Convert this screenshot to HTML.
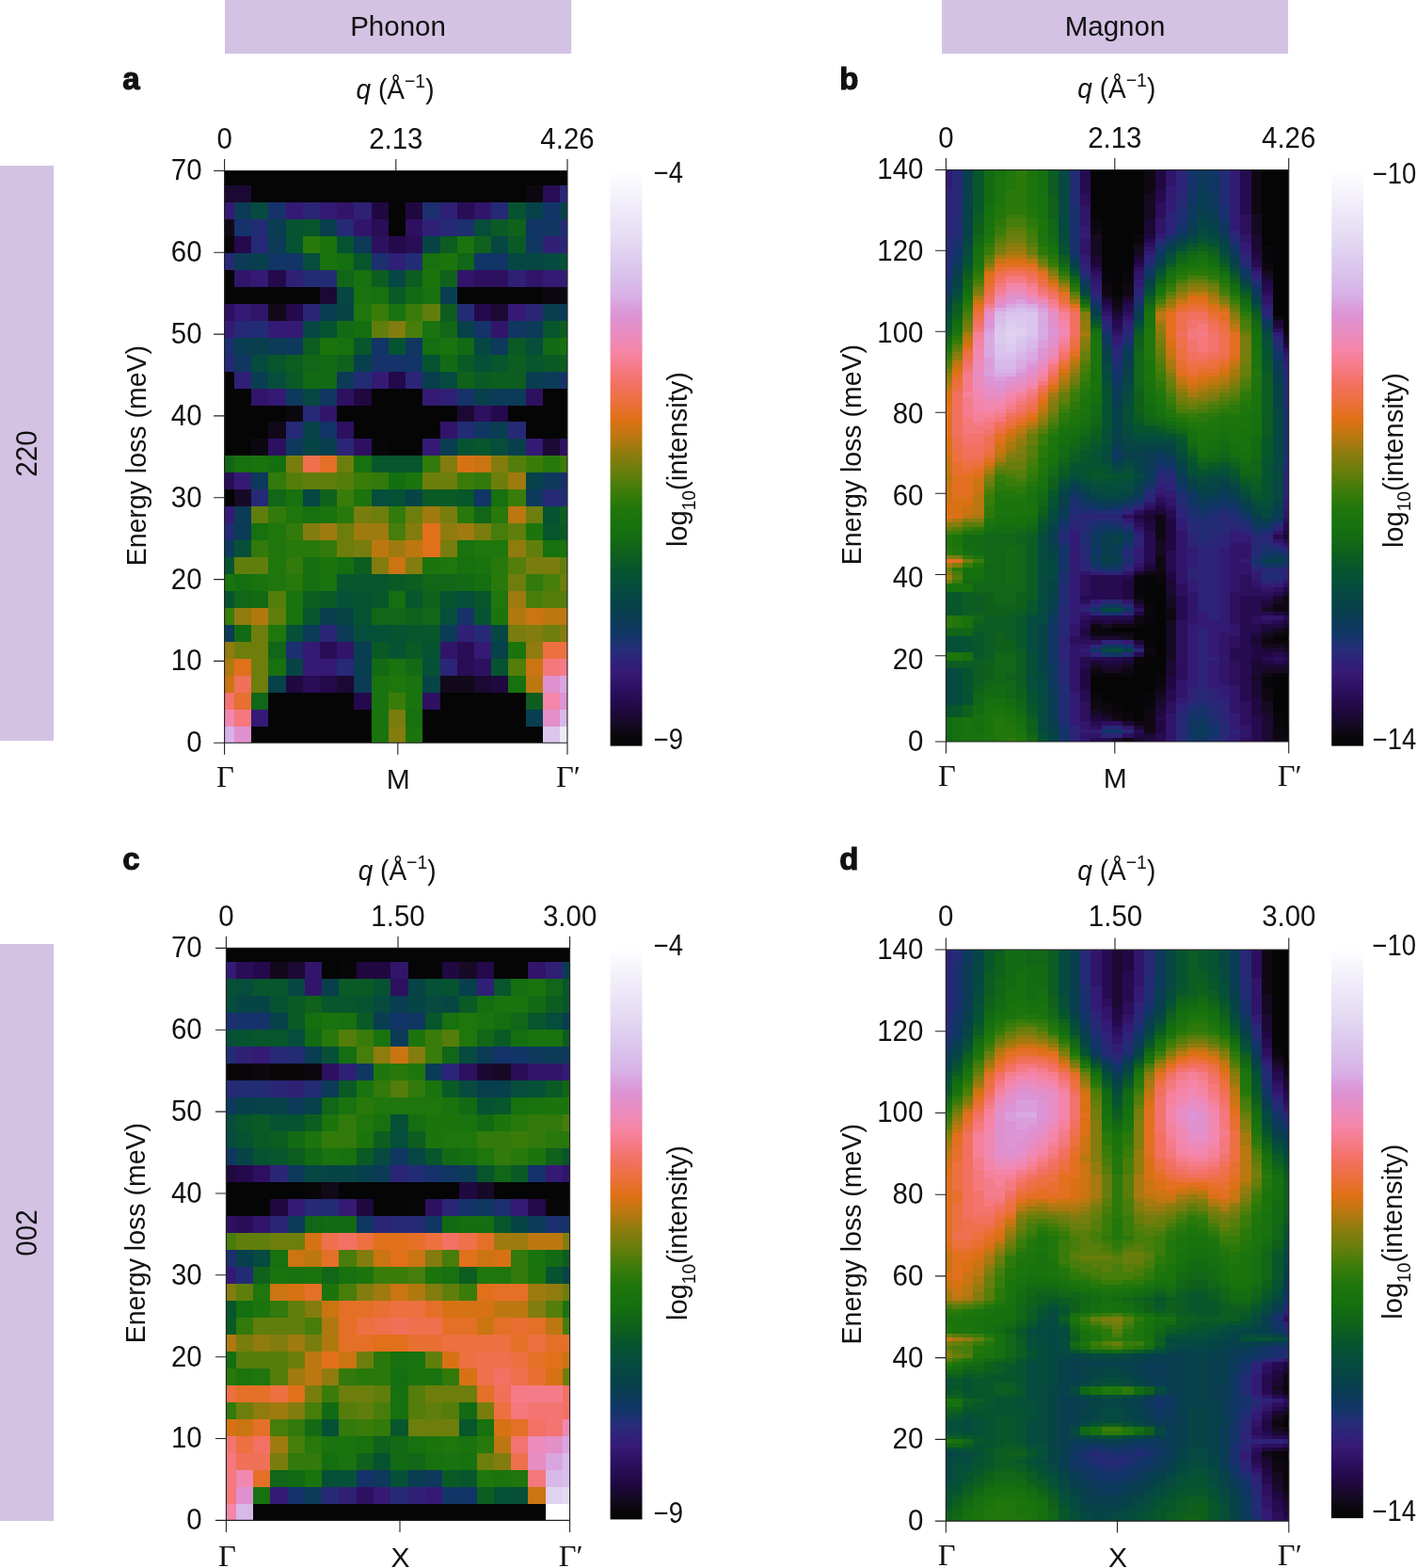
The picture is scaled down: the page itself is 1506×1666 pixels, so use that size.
<!DOCTYPE html>
<html lang="en"><head><meta charset="utf-8"><title>Phonon and magnon spectra</title>
<style>html,body{margin:0;padding:0;background:#fff}body{width:1506px;height:1666px;overflow:hidden}svg{display:block}</style></head>
<body>
<svg width="1506" height="1666" viewBox="0 0 1506 1666" font-family="'Liberation Sans', Arial, Helvetica, sans-serif" font-size="29.5" fill="#111">
<rect width="1506" height="1666" fill="#fff"/>
<rect x="239" y="0" width="368.2" height="57" fill="#d3c2e3"/>
<rect x="1001" y="0" width="368" height="57" fill="#d3c2e3"/>
<rect x="0" y="176" width="57" height="611" fill="#d3c2e3"/>
<rect x="0" y="1003" width="57" height="613" fill="#d3c2e3"/>
<text x="423" y="37.6" text-anchor="middle">Phonon</text>
<text x="1185" y="37.6" text-anchor="middle">Magnon</text>
<text transform="translate(38.6,482) rotate(-90) scale(0.955 1)" text-anchor="middle" font-size="31">220</text>
<text transform="translate(38.6,1310) rotate(-90) scale(0.955 1)" text-anchor="middle" font-size="31">002</text>
<clipPath id="hc1"><rect x="238.6" y="181.5" width="364.40" height="607.70"/></clipPath>
<g clip-path="url(#hc1)"><rect x="238.6" y="181.5" width="364.40" height="607.70" fill="#050505"/><g transform="translate(230.68 179.20) scale(18.2200 17.9500)" shape-rendering="crispEdges">
<path fill="#1b0933" d="M0 1h2v1h-2zM6 7h1v1h-1zM16 8h1v1h-1zM14 14h1v1h-1zM19 16h1v1h-1zM7 30h1v1h-1zM15 30h1v1h-1z"/>
<path fill="#0c0810" d="M18 1h1v1h-1zM19 7h2v1h-2zM4 14h1v1h-1zM2 16h1v1h-1z"/>
<path fill="#290d56" d="M19 1h1v1h-1zM14 2h1v1h-1zM9 3h1v1h-1zM11 4h1v1h-1zM0 18h1v1h-1zM6 28h1v1h-1zM14 28h1v1h-1zM14 29h1v1h-1zM5 30h1v1h-1z"/>
<path fill="#2b2577" d="M20 1h1v1h-1zM5 2h1v1h-1zM20 4h1v1h-1zM5 8h1v1h-1zM18 8h1v1h-1zM11 12h1v1h-1zM7 16h1v1h-1zM6 27h1v1h-1zM13 29h1v1h-1z"/>
<path fill="#341a74" d="M0 2h1v1h-1zM4 2h1v1h-1zM6 2h1v1h-1zM2 6h1v1h-1zM19 6h2v1h-2zM1 8h1v1h-1zM17 8h1v1h-1zM0 9h1v1h-1zM3 9h2v1h-2zM9 12h1v1h-1zM3 13h1v1h-1zM12 13h1v1h-1zM12 16h1v1h-1zM18 16h1v1h-1zM1 18h1v1h-1zM0 20h1v1h-1zM5 28h1v1h-1zM15 28h1v1h-1zM5 29h2v1h-2zM2 32h1v1h-1z"/>
<path fill="#0b3b57" d="M1 2h1v1h-1zM3 4h1v1h-1zM8 4h1v1h-1zM1 5h1v1h-1zM20 8h1v1h-1zM18 9h1v1h-1zM3 10h1v1h-1zM7 12h1v1h-1zM19 12h1v1h-1zM16 13h2v1h-2zM1 20h1v1h-1zM1 21h1v1h-1zM0 27h1v1h-1zM5 27h1v1h-1zM7 27h1v1h-1zM13 27h1v1h-1zM8 30h1v1h-1z"/>
<path fill="#064a40" d="M2 2h1v1h-1zM19 5h1v1h-1zM2 11h1v1h-1zM13 12h1v1h-1z"/>
<path fill="#15326a" d="M3 2h1v1h-1zM1 3h1v1h-1zM15 9h1v1h-1zM9 11h2v1h-2zM20 12h1v1h-1zM14 13h1v1h-1zM20 18h1v1h-1zM14 26h1v1h-1z"/>
<path fill="#31156a" d="M7 2h1v1h-1zM15 2h1v1h-1zM8 3h1v1h-1zM1 6h1v1h-1zM14 6h1v1h-1zM18 6h1v1h-1zM2 8h1v1h-1zM16 9h1v1h-1zM2 13h1v1h-1zM6 14h1v1h-1zM13 15h1v1h-1zM7 28h1v1h-1zM13 28h1v1h-1z"/>
<path fill="#2f2076" d="M8 2h1v1h-1zM13 2h1v1h-1zM12 3h1v1h-1zM19 4h1v1h-1zM10 5h1v1h-1zM4 6h1v1h-1zM17 6h1v1h-1zM1 12h1v1h-1zM13 13h1v1h-1zM14 27h1v1h-1z"/>
<path fill="#200840" d="M9 2h1v1h-1zM11 2h1v1h-1zM8 13h1v1h-1zM4 30h1v1h-1zM16 30h1v1h-1z"/>
<path fill="#1c2f6f" d="M12 2h1v1h-1zM14 3h1v1h-1zM9 5h1v1h-1zM0 10h1v1h-1zM4 28h1v1h-1z"/>
<path fill="#262976" d="M16 2h1v1h-1zM7 3h1v1h-1zM13 3h1v1h-1zM2 4h1v1h-1zM0 5h1v1h-1zM1 9h1v1h-1zM0 11h1v1h-1zM5 14h1v1h-1zM4 15h1v1h-1zM17 15h1v1h-1zM2 19h1v1h-1zM19 19h1v1h-1zM15 27h1v1h-1zM7 29h1v1h-1z"/>
<path fill="#065332" d="M17 2h1v1h-1zM4 3h1v1h-1zM4 4h1v1h-1zM7 4h1v1h-1zM6 9h1v1h-1zM10 10h1v1h-1zM12 11h1v1h-1zM14 16h1v1h-1zM19 20h1v1h-1zM0 23h1v1h-1zM0 25h1v1h-1zM8 25h1v1h-1zM13 25h1v1h-1zM8 26h1v1h-1zM15 26h1v1h-1zM10 27h1v1h-1zM10 28h1v1h-1zM12 28h1v1h-1zM16 29h1v1h-1z"/>
<path fill="#074149" d="M18 2h1v1h-1zM20 2h1v1h-1zM14 9h1v1h-1zM5 15h1v1h-1zM18 18h1v1h-1zM16 28h1v1h-1zM3 30h1v1h-1z"/>
<path fill="#113566" d="M19 2h1v1h-1zM18 3h1v1h-1zM3 5h2v1h-2zM15 5h2v1h-2zM9 10h1v1h-1zM11 11h1v1h-1zM6 15h1v1h-1zM15 19h1v1h-1z"/>
<path fill="#110919" d="M0 3h1v1h-1zM3 8h1v1h-1zM3 15h1v1h-1zM13 30h2v1h-2z"/>
<path fill="#222c74" d="M2 3h1v1h-1zM20 3h1v1h-1zM11 5h1v1h-1zM5 6h2v1h-2zM14 8h1v1h-1zM2 9h1v1h-1zM8 12h1v1h-1zM14 15h1v1h-1zM20 19h1v1h-1zM0 21h1v1h-1z"/>
<path fill="#093d52" d="M3 3h1v1h-1zM13 7h1v1h-1zM6 8h1v1h-1zM1 10h1v1h-1zM2 12h1v1h-1zM18 12h1v1h-1zM16 15h1v1h-1zM13 16h1v1h-1zM8 28h1v1h-1zM8 29h1v1h-1zM18 32h1v1h-1z"/>
<path fill="#07562c" d="M5 3h1v1h-1zM8 5h1v1h-1zM19 9h1v1h-1zM8 10h1v1h-1zM3 11h1v1h-1zM16 11h1v1h-1zM18 11h1v1h-1zM15 16h1v1h-1zM9 17h3v1h-3zM14 19h1v1h-1zM19 21h1v1h-1zM7 24h3v1h-3zM9 25h1v1h-1zM11 25h1v1h-1zM15 25h1v1h-1zM5 26h1v1h-1zM11 27h2v1h-2z"/>
<path fill="#083f4d" d="M6 3h1v1h-1zM2 5h1v1h-1zM19 8h1v1h-1zM2 10h1v1h-1zM8 11h1v1h-1zM12 12h1v1h-1zM15 13h1v1h-1zM6 16h1v1h-1zM17 16h1v1h-1zM6 26h1v1h-1z"/>
<path fill="#2e1060" d="M11 3h1v1h-1zM9 4h1v1h-1zM15 6h2v1h-2zM0 8h1v1h-1zM7 13h1v1h-1zM18 13h1v1h-1zM15 14h1v1h-1zM7 15h1v1h-1zM3 16h1v1h-1zM8 16h1v1h-1zM20 16h1v1h-1zM15 29h1v1h-1zM12 31h1v1h-1z"/>
<path fill="#064d3b" d="M15 3h1v1h-1zM5 5h1v1h-1zM18 10h1v1h-1zM3 12h1v1h-1zM16 16h1v1h-1zM9 19h1v1h-1zM14 25h1v1h-1zM13 26h1v1h-1zM8 27h1v1h-1z"/>
<path fill="#0a5a26" d="M16 3h1v1h-1zM17 4h1v1h-1zM10 7h1v1h-1zM17 10h1v1h-1zM14 11h1v1h-1zM19 11h1v1h-1zM4 12h1v1h-1zM15 12h1v1h-1zM12 19h2v1h-2zM20 21h1v1h-1zM10 24h1v1h-1zM6 25h1v1h-1zM9 28h1v1h-1zM11 28h1v1h-1z"/>
<path fill="#10611b" d="M17 3h1v1h-1zM15 4h1v1h-1zM13 6h1v1h-1zM7 11h1v1h-1zM14 12h1v1h-1zM6 19h1v1h-1zM12 25h1v1h-1zM11 26h1v1h-1z"/>
<path fill="#0f3761" d="M19 3h1v1h-1zM18 4h1v1h-1zM17 9h1v1h-1zM11 10h1v1h-1zM1 11h1v1h-1zM6 13h1v1h-1zM15 15h1v1h-1z"/>
<path fill="#09060a" d="M0 4h1v1h-1zM9 16h1v1h-1z"/>
<path fill="#24094c" d="M1 4h1v1h-1zM10 4h1v1h-1zM3 6h1v1h-1zM4 8h1v1h-1zM15 8h1v1h-1zM10 12h1v1h-1zM16 14h1v1h-1zM6 30h1v1h-1zM8 31h1v1h-1z"/>
<path fill="#28780b" d="M5 4h1v1h-1zM19 17h1v1h-1zM7 20h1v1h-1zM14 20h1v1h-1zM16 20h1v1h-1zM4 22h2v1h-2zM16 23h1v1h-1zM4 24h1v1h-1zM16 24h1v1h-1z"/>
<path fill="#1c740d" d="M6 4h1v1h-1zM13 5h1v1h-1zM12 6h1v1h-1zM6 10h1v1h-1zM11 18h1v1h-1zM8 19h1v1h-1zM18 21h1v1h-1zM6 23h1v1h-1zM12 23h1v1h-1zM16 26h1v1h-1zM17 28h1v1h-1zM11 33h1v1h-1z"/>
<path fill="#074446" d="M12 4h1v1h-1zM7 8h1v1h-1zM5 16h1v1h-1zM11 19h1v1h-1zM7 26h1v1h-1zM4 29h1v1h-1zM12 30h1v1h-1z"/>
<path fill="#0e5d20" d="M13 4h1v1h-1zM9 6h1v1h-1zM11 6h1v1h-1zM13 8h1v1h-1zM20 9h1v1h-1zM5 10h1v1h-1zM4 11h1v1h-1zM17 11h1v1h-1zM20 11h1v1h-1zM16 12h2v1h-2zM20 20h1v1h-1zM8 23h1v1h-1zM11 24h1v1h-1zM5 25h1v1h-1zM18 31h1v1h-1z"/>
<path fill="#19730e" d="M14 4h1v1h-1zM6 5h1v1h-1zM8 7h1v1h-1zM10 8h1v1h-1zM12 9h1v1h-1zM13 10h1v1h-1zM2 17h1v1h-1zM6 20h1v1h-1zM14 22h1v1h-1zM20 22h1v1h-1zM15 23h1v1h-1zM0 24h1v1h-1zM2 24h1v1h-1zM6 24h1v1h-1zM4 25h1v1h-1zM4 26h1v1h-1zM10 29h1v1h-1zM9 30h1v1h-1zM11 30h1v1h-1zM9 31h1v1h-1zM11 31h1v1h-1zM9 32h1v1h-1zM9 33h1v1h-1z"/>
<path fill="#064743" d="M16 4h1v1h-1zM17 5h2v1h-2zM10 6h1v1h-1zM7 7h1v1h-1zM5 9h1v1h-1zM15 10h1v1h-1zM5 13h1v1h-1zM5 19h1v1h-1zM16 27h1v1h-1z"/>
<path fill="#146f10" d="M7 5h1v1h-1zM8 9h1v1h-1zM12 10h1v1h-1zM3 17h1v1h-1zM10 18h1v1h-1zM5 23h1v1h-1zM7 23h1v1h-1zM1 24h1v1h-1zM5 24h1v1h-1zM15 24h1v1h-1zM10 25h1v1h-1z"/>
<path fill="#16710e" d="M12 5h1v1h-1zM8 6h1v1h-1zM9 7h1v1h-1zM12 7h1v1h-1zM7 10h1v1h-1zM20 10h1v1h-1zM1 17h1v1h-1zM8 17h1v1h-1zM4 19h1v1h-1zM16 19h1v1h-1zM5 20h1v1h-1zM2 21h1v1h-1zM19 22h1v1h-1zM14 23h1v1h-1zM3 29h1v1h-1zM17 30h1v1h-1zM11 32h1v1h-1z"/>
<path fill="#116617" d="M14 5h1v1h-1zM7 6h1v1h-1zM13 9h1v1h-1zM5 11h1v1h-1zM0 17h1v1h-1zM3 19h1v1h-1zM15 20h1v1h-1zM12 24h2v1h-2zM1 25h1v1h-1zM9 26h2v1h-2zM12 26h1v1h-1zM3 28h1v1h-1zM2 31h1v1h-1z"/>
<path fill="#065037" d="M20 5h1v1h-1zM15 11h1v1h-1zM10 19h1v1h-1zM1 22h1v1h-1zM7 25h1v1h-1zM4 27h1v1h-1zM9 27h1v1h-1zM12 29h1v1h-1z"/>
<path fill="#136a14" d="M11 7h1v1h-1zM7 9h1v1h-1zM14 10h1v1h-1zM19 10h1v1h-1zM6 11h1v1h-1zM13 11h1v1h-1zM5 12h2v1h-2zM14 24h1v1h-1zM2 25h1v1h-1zM1 27h1v1h-1zM9 29h1v1h-1zM11 29h1v1h-1z"/>
<path fill="#1f760c" d="M8 8h1v1h-1zM4 20h1v1h-1zM3 21h1v1h-1zM3 22h1v1h-1zM15 22h2v1h-2zM3 23h1v1h-1zM13 23h1v1h-1zM3 24h1v1h-1zM16 25h1v1h-1zM3 27h1v1h-1zM10 30h1v1h-1z"/>
<path fill="#3a7c0a" d="M9 8h1v1h-1zM11 8h1v1h-1zM18 17h1v1h-1zM20 17h1v1h-1zM8 18h1v1h-1zM14 18h1v1h-1zM7 19h1v1h-1zM17 19h1v1h-1zM0 26h1v1h-1zM10 31h1v1h-1z"/>
<path fill="#607e0c" d="M12 8h1v1h-1zM9 9h1v1h-1zM5 18h2v1h-2zM2 20h1v1h-1zM17 21h1v1h-1zM18 22h1v1h-1zM1 23h2v1h-2zM20 23h1v1h-1zM3 26h1v1h-1z"/>
<path fill="#837c0e" d="M10 9h1v1h-1zM13 17h1v1h-1zM16 17h1v1h-1zM5 21h1v1h-1zM11 21h1v1h-1zM9 23h1v1h-1zM11 23h1v1h-1zM18 27h1v1h-1zM20 27h1v1h-1zM10 33h1v1h-1z"/>
<path fill="#477d0b" d="M11 9h1v1h-1zM10 21h1v1h-1zM16 21h1v1h-1zM19 24h1v1h-1zM18 25h1v1h-1z"/>
<path fill="#0d395c" d="M4 10h1v1h-1zM16 10h1v1h-1zM4 13h1v1h-1zM4 16h1v1h-1zM2 18h1v1h-1zM19 18h1v1h-1zM18 19h1v1h-1zM0 22h1v1h-1z"/>
<path fill="#787d0d" d="M4 17h1v1h-1zM8 20h1v1h-1zM13 20h1v1h-1zM15 21h1v1h-1zM8 22h1v1h-1zM13 22h1v1h-1zM18 23h2v1h-2zM17 27h1v1h-1zM10 32h1v1h-1z"/>
<path fill="#ee704c" d="M5 17h1v1h-1z"/>
<path fill="#e47027" d="M6 17h1v1h-1z"/>
<path fill="#6d7e0c" d="M7 17h1v1h-1zM12 18h2v1h-2zM16 18h1v1h-1zM9 20h1v1h-1zM11 20h1v1h-1zM18 20h1v1h-1zM7 21h1v1h-1zM7 22h1v1h-1zM17 24h1v1h-1zM20 24h1v1h-1zM2 27h1v1h-1zM19 27h1v1h-1zM1 28h2v1h-2zM2 29h1v1h-1zM2 30h1v1h-1z"/>
<path fill="#317a0b" d="M12 17h1v1h-1zM3 18h1v1h-1zM9 18h1v1h-1zM15 18h1v1h-1zM3 20h1v1h-1zM10 20h1v1h-1zM4 21h1v1h-1zM2 22h1v1h-1zM6 22h1v1h-1zM4 23h1v1h-1zM18 24h1v1h-1z"/>
<path fill="#d77214" d="M14 17h1v1h-1z"/>
<path fill="#ca7412" d="M15 17h1v1h-1zM10 23h1v1h-1zM18 26h1v1h-1zM18 29h1v1h-1zM0 30h1v1h-1z"/>
<path fill="#547d0b" d="M17 17h1v1h-1zM4 18h1v1h-1zM7 18h1v1h-1zM17 23h1v1h-1zM3 25h1v1h-1zM19 25h2v1h-2zM17 29h1v1h-1z"/>
<path fill="#9f7a0f" d="M17 18h1v1h-1zM12 20h1v1h-1zM6 21h1v1h-1zM8 21h2v1h-2zM14 21h1v1h-1zM10 22h1v1h-1zM17 25h1v1h-1z"/>
<path fill="#170a26" d="M1 19h1v1h-1z"/>
<path fill="#bd7711" d="M17 20h1v1h-1zM9 22h1v1h-1zM11 22h1v1h-1zM19 26h2v1h-2zM18 30h1v1h-1z"/>
<path fill="#e1701a" d="M12 21h1v1h-1zM12 22h1v1h-1zM1 29h1v1h-1z"/>
<path fill="#907b0e" d="M13 21h1v1h-1zM17 22h1v1h-1zM1 26h1v1h-1zM0 28h1v1h-1zM18 28h1v1h-1z"/>
<path fill="#af7910" d="M2 26h1v1h-1zM17 26h1v1h-1zM0 29h1v1h-1z"/>
<path fill="#ec7040" d="M19 28h2v1h-2z"/>
<path fill="#f4787c" d="M19 29h1v1h-1zM1 32h1v1h-1z"/>
<path fill="#f57b88" d="M20 29h1v1h-1z"/>
<path fill="#f07058" d="M1 30h1v1h-1z"/>
<path fill="#df91cf" d="M19 30h1v1h-1zM1 33h1v1h-1z"/>
<path fill="#d9a5df" d="M20 30h1v1h-1z"/>
<path fill="#f37470" d="M0 31h1v1h-1z"/>
<path fill="#e87033" d="M1 31h1v1h-1z"/>
<path fill="#f486aa" d="M19 31h1v1h-1z"/>
<path fill="#dc94d5" d="M20 31h1v1h-1z"/>
<path fill="#f088b2" d="M0 32h1v1h-1z"/>
<path fill="#e38fc8" d="M19 32h1v1h-1z"/>
<path fill="#d8b8e9" d="M20 32h1v1h-1z"/>
<path fill="#d8b3e7" d="M0 33h1v1h-1z"/>
<path fill="#dbc6ed" d="M19 33h1v1h-1z"/>
<path fill="#eee9f8" d="M20 33h1v1h-1z"/>
</g></g>
<path stroke="#222" stroke-width="1.1" fill="none" d="M238.6 169.0V801.7M227.1 789.2H603.0M603.0 169.0V801.7M238.6 181.5H603.0M420.8 169.0V181.5M422.8 801.7V789.2M227.1 702.4H238.6M227.1 615.6H238.6M227.1 528.8H238.6M227.1 441.9H238.6M227.1 355.1H238.6M227.1 268.3H238.6M227.1 181.5H238.6"/>
<text transform="translate(214.6 799.1) scale(0.965 1)" text-anchor="end" font-size="30.5">0</text>
<text transform="translate(214.6 712.3) scale(0.965 1)" text-anchor="end" font-size="30.5">10</text>
<text transform="translate(214.6 625.5) scale(0.965 1)" text-anchor="end" font-size="30.5">20</text>
<text transform="translate(214.6 538.7) scale(0.965 1)" text-anchor="end" font-size="30.5">30</text>
<text transform="translate(214.6 451.8) scale(0.965 1)" text-anchor="end" font-size="30.5">40</text>
<text transform="translate(214.6 365.0) scale(0.965 1)" text-anchor="end" font-size="30.5">50</text>
<text transform="translate(214.6 278.2) scale(0.965 1)" text-anchor="end" font-size="30.5">60</text>
<text transform="translate(214.6 191.4) scale(0.965 1)" text-anchor="end" font-size="30.5">70</text>
<text transform="translate(238.6 157.8) scale(0.965 1)" text-anchor="middle" font-size="30.5">0</text>
<text transform="translate(420.8 157.8) scale(0.965 1)" text-anchor="middle" font-size="30.5">2.13</text>
<text transform="translate(603.0 157.8) scale(0.965 1)" text-anchor="middle" font-size="30.5">4.26</text>
<text transform="translate(239.5 836.1)" text-anchor="middle" font-size="32.5" font-family="'Liberation Serif', 'Times New Roman', serif">Γ</text>
<text transform="translate(423.3 837.9)" text-anchor="middle" font-size="30">M</text>
<text transform="translate(604.0 836.1)" text-anchor="middle" font-size="32.5" font-family="'Liberation Serif', 'Times New Roman', serif">Γ′</text>
<text transform="translate(420.0 104.6) scale(0.95 1)" text-anchor="middle" font-size="29.5"><tspan font-style="italic">q</tspan> (Å<tspan dy="-12" font-size="20.5">−1</tspan><tspan dy="12">)</tspan></text>
<text transform="translate(130.3 94.5)" font-size="33" font-weight="bold" stroke="#111" stroke-width="1.1" stroke-linejoin="round">a</text>
<text transform="translate(154.6 484.2) rotate(-90) scale(0.966 1)" text-anchor="middle" font-size="29.5">Energy loss (meV)</text>
<linearGradient id="ga" x1="0" y1="1" x2="0" y2="0"><stop offset="0.000" stop-color="#050505"/><stop offset="0.016" stop-color="#09070b"/><stop offset="0.039" stop-color="#150a25"/><stop offset="0.062" stop-color="#200840"/><stop offset="0.098" stop-color="#2c1060"/><stop offset="0.126" stop-color="#361a74"/><stop offset="0.145" stop-color="#30207a"/><stop offset="0.168" stop-color="#262e78"/><stop offset="0.192" stop-color="#123668"/><stop offset="0.215" stop-color="#0c3a58"/><stop offset="0.239" stop-color="#07404a"/><stop offset="0.271" stop-color="#064a40"/><stop offset="0.307" stop-color="#06552e"/><stop offset="0.337" stop-color="#10601c"/><stop offset="0.373" stop-color="#14700f"/><stop offset="0.410" stop-color="#1f760c"/><stop offset="0.440" stop-color="#3a7c0a"/><stop offset="0.476" stop-color="#687e0c"/><stop offset="0.506" stop-color="#8a7c0e"/><stop offset="0.536" stop-color="#b87810"/><stop offset="0.566" stop-color="#df7015"/><stop offset="0.600" stop-color="#ec7040"/><stop offset="0.627" stop-color="#f27060"/><stop offset="0.657" stop-color="#f57a85"/><stop offset="0.687" stop-color="#f585a8"/><stop offset="0.717" stop-color="#e98cc0"/><stop offset="0.747" stop-color="#dc92d3"/><stop offset="0.783" stop-color="#d8b0e6"/><stop offset="0.820" stop-color="#d9c2ec"/><stop offset="0.880" stop-color="#e4daf3"/><stop offset="0.940" stop-color="#f0ecf9"/><stop offset="1.000" stop-color="#ffffff"/></linearGradient>
<rect x="648.6" y="181.5" width="33.9" height="611.1" fill="url(#ga)"/>
<text transform="translate(694.7 194.3) scale(0.9 1)" font-size="30.5">−4</text>
<text transform="translate(694.7 795.8) scale(0.9 1)" font-size="30.5">−9</text>
<text transform="translate(730.1 488.1) rotate(-90) scale(0.985 1)" text-anchor="middle" font-size="29.5">log<tspan dy="8.5" font-size="19.5">10</tspan><tspan dy="-8.5">(intensity)</tspan></text>
<clipPath id="hc2"><rect x="240.4" y="1007.4" width="365.20" height="608.00"/></clipPath>
<g clip-path="url(#hc2)"><rect x="240.4" y="1007.4" width="365.20" height="608.00" fill="#050505"/><g transform="translate(232.64 1003.90) scale(18.2600 18.0000)" shape-rendering="crispEdges">
<path fill="#341a74" d="M0 1h1v1h-1zM2 6h1v1h-1zM20 7h1v1h-1zM19 13h1v1h-1zM4 15h1v1h-1zM7 15h1v1h-1zM17 15h1v1h-1zM0 19h1v1h-1zM3 32h1v1h-1zM9 32h1v1h-1zM12 32h1v1h-1z"/>
<path fill="#290d56" d="M1 1h1v1h-1zM17 7h1v1h-1zM1 16h1v1h-1z"/>
<path fill="#24094c" d="M2 1h1v1h-1zM15 1h1v1h-1zM1 13h1v1h-1zM18 15h1v1h-1z"/>
<path fill="#110919" d="M3 1h1v1h-1zM6 14h1v1h-1z"/>
<path fill="#1b0933" d="M4 1h1v1h-1zM15 7h1v1h-1z"/>
<path fill="#31156a" d="M5 1h1v1h-1zM10 1h1v1h-1zM18 1h1v1h-1zM5 2h1v1h-1zM18 7h2v1h-2zM20 13h1v1h-1zM2 16h1v1h-1z"/>
<path fill="#09060a" d="M7 1h1v1h-1zM0 7h2v1h-2zM3 7h2v1h-2zM5 14h1v1h-1zM11 15h1v1h-1zM19 15h2v1h-2z"/>
<path fill="#200840" d="M8 1h2v1h-2zM13 1h1v1h-1zM0 13h1v1h-1zM14 14h1v1h-1zM3 15h1v1h-1zM8 15h1v1h-1z"/>
<path fill="#170a26" d="M14 1h1v1h-1zM16 7h1v1h-1zM15 14h1v1h-1z"/>
<path fill="#2f2076" d="M19 1h1v1h-1zM15 2h1v1h-1zM1 6h1v1h-1zM7 7h1v1h-1zM4 8h1v1h-1zM7 32h1v1h-1zM11 32h1v1h-1z"/>
<path fill="#093d52" d="M20 1h1v1h-1zM10 3h1v1h-1zM9 4h1v1h-1zM5 6h1v1h-1zM11 31h1v1h-1z"/>
<path fill="#065037" d="M0 2h1v1h-1zM12 2h1v1h-1zM0 5h1v1h-1zM6 6h1v1h-1zM18 8h1v1h-1zM10 10h1v1h-1zM6 28h1v1h-1zM6 31h2v1h-2zM10 31h1v1h-1zM16 32h2v1h-2z"/>
<path fill="#064d3b" d="M1 2h1v1h-1zM0 3h1v1h-1zM19 4h1v1h-1zM4 5h1v1h-1zM17 8h1v1h-1zM0 10h1v1h-1zM10 11h1v1h-1z"/>
<path fill="#07562c" d="M2 2h2v1h-2zM16 2h1v1h-1zM20 2h1v1h-1zM6 3h2v1h-2zM20 3h1v1h-1zM12 4h1v1h-1zM18 4h1v1h-1zM2 5h2v1h-2zM16 9h1v1h-1zM1 10h1v1h-1zM3 12h1v1h-1zM12 12h1v1h-1zM20 12h1v1h-1zM15 13h1v1h-1zM16 16h1v1h-1zM0 21h1v1h-1zM10 28h1v1h-1zM14 28h1v1h-1zM14 31h1v1h-1z"/>
<path fill="#064743" d="M4 2h1v1h-1zM13 3h1v1h-1zM11 12h1v1h-1zM5 13h1v1h-1z"/>
<path fill="#083f4d" d="M6 2h1v1h-1zM14 2h1v1h-1zM20 4h1v1h-1zM15 8h2v1h-2zM1 9h1v1h-1zM8 13h1v1h-1zM1 18h1v1h-1z"/>
<path fill="#0a5a26" d="M7 2h2v1h-2zM4 3h1v1h-1zM14 3h1v1h-1zM4 4h1v1h-1zM8 4h1v1h-1zM16 5h1v1h-1zM7 8h1v1h-1zM13 8h1v1h-1zM19 8h1v1h-1zM2 10h1v1h-1zM2 11h1v1h-1zM8 12h1v1h-1zM17 13h1v1h-1zM0 22h1v1h-1zM13 31h1v1h-1z"/>
<path fill="#065332" d="M9 2h1v1h-1zM13 2h1v1h-1zM3 3h1v1h-1zM8 3h1v1h-1zM1 5h1v1h-1zM15 9h1v1h-1zM3 10h2v1h-2zM1 11h1v1h-1zM2 12h1v1h-1zM19 19h1v1h-1zM9 30h1v1h-1z"/>
<path fill="#2e1060" d="M10 2h1v1h-1zM6 7h1v1h-1zM14 7h1v1h-1zM2 13h1v1h-1zM12 15h1v1h-1zM0 16h1v1h-1zM8 32h1v1h-1z"/>
<path fill="#074446" d="M11 2h1v1h-1zM1 3h2v1h-2zM11 3h1v1h-1zM1 12h1v1h-1zM6 13h2v1h-2zM17 16h1v1h-1zM20 19h1v1h-1z"/>
<path fill="#146f10" d="M17 2h1v1h-1zM15 3h1v1h-1zM5 4h1v1h-1zM16 4h1v1h-1zM17 5h1v1h-1zM7 6h1v1h-1zM11 10h1v1h-1zM14 12h1v1h-1zM14 16h2v1h-2zM1 21h1v1h-1zM0 24h1v1h-1zM10 25h1v1h-1zM6 30h1v1h-1z"/>
<path fill="#19730e" d="M18 2h1v1h-1zM16 3h2v1h-2zM6 4h1v1h-1zM15 4h1v1h-1zM9 5h1v1h-1zM18 5h2v1h-2zM8 8h1v1h-1zM12 8h1v1h-1zM7 9h1v1h-1zM13 9h1v1h-1zM18 9h1v1h-1zM14 10h1v1h-1zM6 12h1v1h-1zM18 18h1v1h-1zM3 19h1v1h-1zM5 19h1v1h-1zM20 21h1v1h-1zM11 24h1v1h-1zM12 25h1v1h-1zM6 29h2v1h-2zM14 29h1v1h-1zM7 30h1v1h-1zM13 30h1v1h-1zM5 31h1v1h-1z"/>
<path fill="#116617" d="M19 2h1v1h-1zM17 4h1v1h-1zM15 5h1v1h-1zM13 6h1v1h-1zM20 8h1v1h-1zM6 9h1v1h-1zM16 13h1v1h-1zM5 16h1v1h-1zM6 19h1v1h-1zM11 30h1v1h-1zM3 31h1v1h-1z"/>
<path fill="#10611b" d="M5 3h1v1h-1zM19 12h1v1h-1zM2 19h1v1h-1zM9 29h1v1h-1zM8 30h1v1h-1z"/>
<path fill="#064a40" d="M9 3h1v1h-1zM12 3h1v1h-1zM14 6h1v1h-1zM14 8h1v1h-1zM0 11h1v1h-1zM9 12h1v1h-1zM2 18h1v1h-1z"/>
<path fill="#136a14" d="M18 3h1v1h-1zM5 5h1v1h-1zM14 9h1v1h-1zM15 10h1v1h-1zM4 11h1v1h-1zM5 12h1v1h-1zM13 12h1v1h-1zM6 16h2v1h-2zM13 16h1v1h-1zM19 18h1v1h-1zM6 27h1v1h-1zM14 27h1v1h-1zM5 28h1v1h-1zM10 29h1v1h-1zM10 30h1v1h-1zM4 31h1v1h-1z"/>
<path fill="#0e5d20" d="M19 3h1v1h-1zM20 5h1v1h-1zM5 10h1v1h-1zM3 11h1v1h-1zM9 11h1v1h-1zM11 11h1v1h-1zM4 12h1v1h-1zM20 18h1v1h-1zM14 19h1v1h-1zM15 32h1v1h-1z"/>
<path fill="#1c2f6f" d="M0 4h1v1h-1zM16 15h1v1h-1zM19 16h1v1h-1zM0 18h1v1h-1z"/>
<path fill="#15326a" d="M1 4h2v1h-2zM16 6h1v1h-1zM12 13h1v1h-1zM18 13h1v1h-1zM14 15h1v1h-1zM20 16h1v1h-1zM8 31h1v1h-1zM4 32h1v1h-1z"/>
<path fill="#074149" d="M3 4h1v1h-1zM2 9h2v1h-2zM5 9h1v1h-1z"/>
<path fill="#16710e" d="M7 4h1v1h-1zM13 4h1v1h-1zM17 9h1v1h-1zM9 10h1v1h-1zM7 12h1v1h-1zM3 18h1v1h-1zM4 19h1v1h-1zM7 19h1v1h-1zM13 19h1v1h-1zM10 24h1v1h-1zM10 26h1v1h-1zM10 27h1v1h-1zM15 28h1v1h-1zM8 29h1v1h-1zM11 29h1v1h-1zM12 30h1v1h-1zM14 30h1v1h-1zM2 32h1v1h-1z"/>
<path fill="#113566" d="M10 4h1v1h-1zM17 6h1v1h-1zM13 32h2v1h-2z"/>
<path fill="#0f3761" d="M11 4h1v1h-1zM8 7h1v1h-1zM0 12h1v1h-1zM10 12h1v1h-1zM13 13h1v1h-1zM15 15h1v1h-1zM8 16h1v1h-1zM12 16h1v1h-1z"/>
<path fill="#1f760c" d="M14 4h1v1h-1zM14 5h1v1h-1zM9 7h1v1h-1zM11 7h1v1h-1zM9 9h4v1h-4zM8 10h1v1h-1zM13 11h2v1h-2zM15 12h1v1h-1zM15 19h2v1h-2zM2 20h1v1h-1zM2 25h1v1h-1zM13 29h1v1h-1zM15 31h1v1h-1zM17 31h1v1h-1z"/>
<path fill="#28780b" d="M6 5h1v1h-1zM10 7h1v1h-1zM8 9h1v1h-1zM17 10h1v1h-1zM19 11h2v1h-2zM17 12h1v1h-1zM9 24h1v1h-1zM0 25h1v1h-1zM8 25h2v1h-2zM5 29h1v1h-1zM15 29h1v1h-1z"/>
<path fill="#547d0b" d="M7 5h1v1h-1zM13 5h1v1h-1zM10 8h1v1h-1zM19 21h1v1h-1zM1 24h3v1h-3zM3 25h1v1h-1zM11 26h1v1h-1zM7 27h1v1h-1zM11 27h1v1h-1zM13 27h1v1h-1z"/>
<path fill="#3a7c0a" d="M8 5h1v1h-1zM12 5h1v1h-1zM12 6h1v1h-1zM17 11h1v1h-1zM9 19h2v1h-2zM14 20h1v1h-1zM6 26h1v1h-1zM8 28h1v1h-1z"/>
<path fill="#0b3b57" d="M10 5h1v1h-1zM15 6h1v1h-1zM19 6h1v1h-1zM12 7h1v1h-1zM6 8h1v1h-1zM4 9h1v1h-1zM9 13h1v1h-1zM14 13h1v1h-1zM4 16h1v1h-1zM18 16h1v1h-1zM5 32h1v1h-1z"/>
<path fill="#1c740d" d="M11 5h1v1h-1zM19 9h2v1h-2zM6 10h1v1h-1zM12 10h2v1h-2zM16 10h1v1h-1zM5 11h1v1h-1zM8 11h1v1h-1zM12 11h1v1h-1zM18 12h1v1h-1zM8 19h1v1h-1zM12 19h1v1h-1zM18 19h1v1h-1zM6 20h1v1h-1zM2 21h1v1h-1zM1 25h1v1h-1zM11 25h1v1h-1zM12 29h1v1h-1zM16 31h1v1h-1z"/>
<path fill="#222c74" d="M0 6h1v1h-1zM4 6h1v1h-1zM1 8h2v1h-2zM5 8h1v1h-1zM11 13h1v1h-1zM6 15h1v1h-1zM1 19h1v1h-1z"/>
<path fill="#262976" d="M3 6h1v1h-1zM0 8h1v1h-1zM5 15h1v1h-1zM10 16h2v1h-2zM6 32h1v1h-1zM10 32h1v1h-1z"/>
<path fill="#477d0b" d="M8 6h1v1h-1zM20 10h1v1h-1zM0 17h1v1h-1zM7 18h1v1h-1zM13 18h1v1h-1zM11 19h1v1h-1zM7 20h1v1h-1zM5 22h1v1h-1zM20 22h1v1h-1zM5 27h1v1h-1zM9 27h1v1h-1zM3 28h1v1h-1zM4 29h1v1h-1z"/>
<path fill="#907b0e" d="M9 6h1v1h-1zM19 20h1v1h-1zM2 23h1v1h-1zM6 25h1v1h-1zM2 27h1v1h-1z"/>
<path fill="#ca7412" d="M10 6h1v1h-1zM4 18h1v1h-1zM9 18h1v1h-1zM11 18h1v1h-1zM15 18h1v1h-1zM3 20h1v1h-1zM10 20h1v1h-1zM6 21h1v1h-1zM15 22h1v1h-1zM7 24h1v1h-1zM20 24h1v1h-1zM1 28h1v1h-1zM18 32h1v1h-1z"/>
<path fill="#837c0e" d="M11 6h1v1h-1zM20 17h1v1h-1zM8 18h1v1h-1zM12 18h1v1h-1zM0 20h1v1h-1zM8 20h1v1h-1zM12 20h1v1h-1zM5 21h1v1h-1zM18 21h1v1h-1zM3 23h1v1h-1zM4 27h1v1h-1zM16 30h1v1h-1z"/>
<path fill="#0d395c" d="M18 6h1v1h-1zM20 6h1v1h-1zM0 9h1v1h-1zM4 13h1v1h-1zM9 31h1v1h-1zM12 31h1v1h-1z"/>
<path fill="#0c0810" d="M2 7h1v1h-1zM5 7h1v1h-1z"/>
<path fill="#2b2577" d="M13 7h1v1h-1zM3 8h1v1h-1zM3 13h1v1h-1zM10 13h1v1h-1zM13 15h1v1h-1zM3 16h1v1h-1zM9 16h1v1h-1z"/>
<path fill="#317a0b" d="M9 8h1v1h-1zM11 8h1v1h-1zM7 10h1v1h-1zM18 10h2v1h-2zM6 11h2v1h-2zM15 11h2v1h-2zM18 11h1v1h-1zM16 12h1v1h-1zM17 18h1v1h-1zM17 19h1v1h-1zM3 21h1v1h-1zM1 22h1v1h-1zM7 25h1v1h-1zM13 25h1v1h-1zM0 27h1v1h-1zM4 28h1v1h-1zM7 28h1v1h-1zM9 28h1v1h-1zM4 30h2v1h-2z"/>
<path fill="#607e0c" d="M1 17h2v1h-2zM1 20h1v1h-1zM13 20h1v1h-1zM4 21h1v1h-1zM2 22h3v1h-3zM12 24h1v1h-1zM9 26h1v1h-1zM8 27h1v1h-1zM12 27h1v1h-1z"/>
<path fill="#6d7e0c" d="M3 17h2v1h-2zM20 20h1v1h-1zM4 24h1v1h-1zM8 24h1v1h-1zM20 25h1v1h-1zM7 26h2v1h-2zM12 26h3v1h-3zM1 27h1v1h-1zM11 28h3v1h-3zM15 30h1v1h-1z"/>
<path fill="#d77214" d="M5 17h1v1h-1zM16 18h1v1h-1zM4 20h1v1h-1zM13 21h3v1h-3zM13 24h1v1h-1zM14 25h1v1h-1zM19 25h1v1h-1zM0 28h1v1h-1zM16 28h1v1h-1z"/>
<path fill="#ee704c" d="M6 17h1v1h-1zM14 17h1v1h-1zM9 22h1v1h-1zM11 22h2v1h-2zM15 24h2v1h-2zM15 25h1v1h-1zM17 25h1v1h-1zM17 30h1v1h-1z"/>
<path fill="#f27164" d="M7 17h1v1h-1zM13 17h1v1h-1zM16 25h1v1h-1zM20 26h1v1h-1zM20 27h1v1h-1zM18 28h1v1h-1zM2 29h1v1h-1z"/>
<path fill="#ec7040" d="M8 17h1v1h-1zM12 17h1v1h-1zM10 21h2v1h-2zM8 22h1v1h-1zM13 23h4v1h-4zM18 23h1v1h-1zM14 24h1v1h-1zM17 24h1v1h-1zM0 26h1v1h-1zM3 26h1v1h-1zM16 27h1v1h-1zM1 29h1v1h-1z"/>
<path fill="#e1701a" d="M9 17h2v1h-2zM10 18h1v1h-1zM14 18h1v1h-1zM15 20h1v1h-1zM9 23h2v1h-2zM6 24h1v1h-1zM19 24h1v1h-1zM4 26h1v1h-1z"/>
<path fill="#e47027" d="M11 17h1v1h-1zM15 17h1v1h-1zM6 18h1v1h-1zM5 20h1v1h-1zM16 20h2v1h-2zM7 21h2v1h-2zM12 21h1v1h-1zM7 22h1v1h-1zM13 22h2v1h-2zM16 22h1v1h-1zM18 22h1v1h-1zM7 23h2v1h-2zM17 23h1v1h-1zM19 23h2v1h-2zM18 24h1v1h-1zM1 26h2v1h-2zM15 26h1v1h-1zM2 28h1v1h-1zM17 28h1v1h-1zM2 31h1v1h-1z"/>
<path fill="#9f7a0f" d="M16 17h2v1h-2zM9 20h1v1h-1zM18 20h1v1h-1zM4 23h1v1h-1zM4 25h1v1h-1zM3 27h1v1h-1zM3 29h1v1h-1z"/>
<path fill="#bd7711" d="M18 17h2v1h-2zM5 18h1v1h-1zM16 21h2v1h-2zM19 22h1v1h-1zM5 24h1v1h-1zM5 25h1v1h-1zM16 29h1v1h-1z"/>
<path fill="#af7910" d="M11 20h1v1h-1zM6 22h1v1h-1zM0 23h1v1h-1zM6 23h1v1h-1z"/>
<path fill="#e87033" d="M9 21h1v1h-1zM17 22h1v1h-1zM11 23h2v1h-2zM18 25h1v1h-1z"/>
<path fill="#f07058" d="M10 22h1v1h-1zM16 26h1v1h-1zM1 30h2v1h-2z"/>
<path fill="#787d0d" d="M1 23h1v1h-1zM5 23h1v1h-1zM5 26h1v1h-1zM15 27h1v1h-1zM3 30h1v1h-1z"/>
<path fill="#f57b88" d="M17 26h3v1h-3z"/>
<path fill="#f4787c" d="M17 27h1v1h-1zM0 30h1v1h-1zM0 31h1v1h-1zM18 31h1v1h-1zM0 32h1v1h-1z"/>
<path fill="#f37470" d="M18 27h2v1h-2zM19 28h1v1h-1zM0 29h1v1h-1zM17 29h1v1h-1z"/>
<path fill="#f088b2" d="M20 28h1v1h-1zM1 31h1v1h-1z"/>
<path fill="#ec8aba" d="M18 29h1v1h-1z"/>
<path fill="#e38fc8" d="M19 29h1v1h-1z"/>
<path fill="#d9a5df" d="M20 29h1v1h-1zM19 30h1v1h-1z"/>
<path fill="#e88dc2" d="M18 30h1v1h-1z"/>
<path fill="#d9bdea" d="M20 30h1v1h-1zM20 31h1v1h-1z"/>
<path fill="#d8b8e9" d="M19 31h1v1h-1zM1 33h1v1h-1z"/>
<path fill="#df91cf" d="M1 32h1v1h-1z"/>
<path fill="#e0d2f1" d="M19 32h1v1h-1z"/>
<path fill="#e4daf3" d="M20 32h1v1h-1z"/>
<path fill="#f486aa" d="M0 33h1v1h-1z"/>
<path fill="#ffffff" d="M19 33h2v1h-2z"/>
</g></g>
<path stroke="#222" stroke-width="1.1" fill="none" d="M240.4 994.9V1627.9M228.9 1615.4H605.6M605.6 994.9V1627.9M240.4 1007.4H605.6M423.0 994.9V1007.4M425.0 1627.9V1615.4M228.9 1528.5H240.4M228.9 1441.7H240.4M228.9 1354.8H240.4M228.9 1268.0H240.4M228.9 1181.1H240.4M228.9 1094.3H240.4M228.9 1007.4H240.4"/>
<text transform="translate(214.7 1625.3) scale(0.965 1)" text-anchor="end" font-size="30.5">0</text>
<text transform="translate(214.7 1538.4) scale(0.965 1)" text-anchor="end" font-size="30.5">10</text>
<text transform="translate(214.7 1451.6) scale(0.965 1)" text-anchor="end" font-size="30.5">20</text>
<text transform="translate(214.7 1364.7) scale(0.965 1)" text-anchor="end" font-size="30.5">30</text>
<text transform="translate(214.7 1277.9) scale(0.965 1)" text-anchor="end" font-size="30.5">40</text>
<text transform="translate(214.7 1191.0) scale(0.965 1)" text-anchor="end" font-size="30.5">50</text>
<text transform="translate(214.7 1104.2) scale(0.965 1)" text-anchor="end" font-size="30.5">60</text>
<text transform="translate(214.7 1017.3) scale(0.965 1)" text-anchor="end" font-size="30.5">70</text>
<text transform="translate(240.4 983.7) scale(0.965 1)" text-anchor="middle" font-size="30.5">0</text>
<text transform="translate(423.0 983.7) scale(0.965 1)" text-anchor="middle" font-size="30.5">1.50</text>
<text transform="translate(605.6 983.7) scale(0.965 1)" text-anchor="middle" font-size="30.5">3.00</text>
<text transform="translate(241.3 1664.4)" text-anchor="middle" font-size="32.5" font-family="'Liberation Serif', 'Times New Roman', serif">Γ</text>
<text transform="translate(425.5 1665.1)" text-anchor="middle" font-size="30">X</text>
<text transform="translate(606.6 1664.4)" text-anchor="middle" font-size="32.5" font-family="'Liberation Serif', 'Times New Roman', serif">Γ′</text>
<text transform="translate(422.2 935.0) scale(0.95 1)" text-anchor="middle" font-size="29.5"><tspan font-style="italic">q</tspan> (Å<tspan dy="-12" font-size="20.5">−1</tspan><tspan dy="12">)</tspan></text>
<text transform="translate(130.3 923.7)" font-size="33" font-weight="bold" stroke="#111" stroke-width="1.1" stroke-linejoin="round">c</text>
<text transform="translate(154.4 1310.2) rotate(-90) scale(0.966 1)" text-anchor="middle" font-size="29.5">Energy loss (meV)</text>
<linearGradient id="gc" x1="0" y1="1" x2="0" y2="0"><stop offset="0.000" stop-color="#050505"/><stop offset="0.016" stop-color="#09070b"/><stop offset="0.039" stop-color="#150a25"/><stop offset="0.062" stop-color="#200840"/><stop offset="0.098" stop-color="#2c1060"/><stop offset="0.126" stop-color="#361a74"/><stop offset="0.145" stop-color="#30207a"/><stop offset="0.168" stop-color="#262e78"/><stop offset="0.192" stop-color="#123668"/><stop offset="0.215" stop-color="#0c3a58"/><stop offset="0.239" stop-color="#07404a"/><stop offset="0.271" stop-color="#064a40"/><stop offset="0.307" stop-color="#06552e"/><stop offset="0.337" stop-color="#10601c"/><stop offset="0.373" stop-color="#14700f"/><stop offset="0.410" stop-color="#1f760c"/><stop offset="0.440" stop-color="#3a7c0a"/><stop offset="0.476" stop-color="#687e0c"/><stop offset="0.506" stop-color="#8a7c0e"/><stop offset="0.536" stop-color="#b87810"/><stop offset="0.566" stop-color="#df7015"/><stop offset="0.600" stop-color="#ec7040"/><stop offset="0.627" stop-color="#f27060"/><stop offset="0.657" stop-color="#f57a85"/><stop offset="0.687" stop-color="#f585a8"/><stop offset="0.717" stop-color="#e98cc0"/><stop offset="0.747" stop-color="#dc92d3"/><stop offset="0.783" stop-color="#d8b0e6"/><stop offset="0.820" stop-color="#d9c2ec"/><stop offset="0.880" stop-color="#e4daf3"/><stop offset="0.940" stop-color="#f0ecf9"/><stop offset="1.000" stop-color="#ffffff"/></linearGradient>
<rect x="648.6" y="1007.4" width="33.9" height="607.0" fill="url(#gc)"/>
<text transform="translate(694.7 1015.1) scale(0.9 1)" font-size="30.5">−4</text>
<text transform="translate(694.7 1617.6) scale(0.9 1)" font-size="30.5">−9</text>
<text transform="translate(730.2 1310.0) rotate(-90) scale(0.985 1)" text-anchor="middle" font-size="29.5">log<tspan dy="8.5" font-size="19.5">10</tspan><tspan dy="-8.5">(intensity)</tspan></text>
<clipPath id="hc3"><rect x="1005.4" y="180.5" width="364.30" height="607.50"/></clipPath>
<g clip-path="url(#hc3)"><rect x="1005.4" y="180.5" width="364.30" height="607.50" fill="#050505"/><g transform="translate(1000.34 180.50) scale(11.3600 4.3085)" shape-rendering="crispEdges">
<path fill="#331b75" d="M0 0h1v5h-1zM12 89h1v23h-1zM12 129h1v8h-1zM13 14h1v3h-1zM13 21h1v2h-1zM13 107h1v1h-1zM13 118h1v1h-1zM13 138h1v1h-1zM14 28h1v2h-1zM14 99h1v1h-1zM14 106h1v1h-1zM14 138h1v1h-1zM15 36h1v1h-1zM16 41h1v2h-1zM17 37h1v1h-1zM17 86h1v1h-1zM17 116h1v1h-1zM18 27h1v2h-1zM18 89h1v1h-1zM18 93h1v4h-1zM19 20h1v1h-1zM20 16h1v1h-1zM20 78h1v2h-1zM21 4h1v6h-1zM21 79h1v2h-1zM22 86h1v3h-1zM22 130h1v2h-1zM23 93h1v5h-1zM23 101h1v3h-1zM23 112h1v16h-1zM24 109h1v4h-1zM25 111h1v9h-1zM25 121h1v7h-1zM26 93h1v21h-1zM26 127h1v3h-1zM27 0h1v15h-1zM27 89h1v3h-1zM27 134h1v4h-1zM27 139h1v2h-1zM28 18h1v2h-1zM28 90h1v2h-1zM28 96h1v1h-1zM29 25h1v1h-1zM29 99h1v2h-1zM30 33h1v1h-1zM30 102h1v1h-1zM31 40h1v1h-1zM31 102h1v1h-1zM32 46h1v2h-1zM32 81h1v3h-1z"/>
<path fill="#2d2378" d="M0 5h1v11h-1zM11 115h1v6h-1zM12 87h1v2h-1zM12 137h1v4h-1zM13 23h1v2h-1zM13 85h1v1h-1zM13 97h1v2h-1zM13 108h1v1h-1zM14 30h1v1h-1zM14 85h1v1h-1zM14 109h1v1h-1zM14 119h1v1h-1zM15 37h1v1h-1zM15 85h1v1h-1zM15 99h1v1h-1zM15 116h1v1h-1zM15 139h1v1h-1zM16 43h1v1h-1zM16 85h1v1h-1zM16 99h1v1h-1zM16 116h1v1h-1zM16 139h1v1h-1zM17 38h1v2h-1zM17 84h1v1h-1zM17 98h1v1h-1zM17 109h1v1h-1zM18 29h1v2h-1zM18 83h1v1h-1zM18 90h1v3h-1zM19 21h1v1h-1zM19 81h1v1h-1zM20 77h1v1h-1zM21 10h1v6h-1zM21 77h1v2h-1zM22 0h1v6h-1zM22 84h1v2h-1zM22 132h1v2h-1zM23 90h1v3h-1zM23 98h1v3h-1zM23 128h1v3h-1zM24 93h1v16h-1zM24 113h1v15h-1zM25 92h1v19h-1zM25 120h1v1h-1zM25 128h1v3h-1zM26 90h1v3h-1zM26 130h1v6h-1zM26 140h1v1h-1zM27 15h1v1h-1zM27 88h1v1h-1zM27 138h1v1h-1zM28 20h1v2h-1zM28 89h1v1h-1zM29 26h1v1h-1zM29 98h1v1h-1zM30 34h1v2h-1zM30 90h1v1h-1zM31 41h1v1h-1zM31 88h1v1h-1zM31 92h1v1h-1zM31 101h1v1h-1zM32 48h1v1h-1zM32 75h1v6h-1zM32 93h1v1h-1zM32 98h1v3h-1z"/>
<path fill="#272876" d="M0 16h1v6h-1zM1 0h1v12h-1zM11 90h1v1h-1zM11 107h1v8h-1zM11 121h1v6h-1zM12 85h1v2h-1zM13 25h1v1h-1zM13 86h1v3h-1zM13 93h1v4h-1zM14 31h1v1h-1zM14 107h1v1h-1zM14 117h1v1h-1zM15 38h1v1h-1zM15 106h1v1h-1zM15 137h1v1h-1zM16 44h1v2h-1zM16 106h1v1h-1zM16 137h1v1h-1zM17 40h1v1h-1zM17 87h1v1h-1zM17 94h1v1h-1zM17 97h1v1h-1zM17 138h1v1h-1zM18 118h1v1h-1zM19 22h1v1h-1zM19 80h1v1h-1zM20 17h1v1h-1zM20 75h1v2h-1zM21 75h1v2h-1zM22 6h1v3h-1zM22 82h1v2h-1zM22 134h1v7h-1zM23 87h1v3h-1zM23 131h1v1h-1zM24 91h1v2h-1zM24 128h1v3h-1zM25 89h1v3h-1zM25 131h1v2h-1zM26 85h1v5h-1zM26 136h1v4h-1zM27 16h1v1h-1zM27 86h1v2h-1zM28 22h1v1h-1zM28 88h1v1h-1zM29 90h1v5h-1zM30 91h1v1h-1zM30 98h1v1h-1zM30 101h1v1h-1zM31 42h1v1h-1zM31 98h1v1h-1zM32 49h1v3h-1zM32 73h1v2h-1z"/>
<path fill="#222c74" d="M0 22h1v4h-1zM1 12h1v5h-1zM11 89h1v1h-1zM11 91h1v1h-1zM11 102h1v5h-1zM11 127h1v9h-1zM12 0h1v9h-1zM12 83h1v2h-1zM13 84h1v1h-1zM13 89h1v4h-1zM14 84h1v1h-1zM14 86h1v1h-1zM14 98h1v1h-1zM15 39h1v1h-1zM15 84h1v1h-1zM15 86h1v1h-1zM16 46h1v2h-1zM16 84h1v1h-1zM16 86h1v1h-1zM17 41h1v1h-1zM17 83h1v1h-1zM17 95h1v1h-1zM17 107h1v1h-1zM17 119h1v1h-1zM18 31h1v1h-1zM18 82h1v1h-1zM19 23h1v1h-1zM19 79h1v1h-1zM20 18h1v1h-1zM20 74h1v1h-1zM21 74h1v1h-1zM22 9h1v3h-1zM22 80h1v2h-1zM23 85h1v2h-1zM23 132h1v1h-1zM24 87h1v4h-1zM24 131h1v1h-1zM25 85h1v4h-1zM25 133h1v2h-1zM26 0h1v9h-1zM26 84h1v1h-1zM27 17h1v1h-1zM27 85h1v1h-1zM28 23h1v1h-1zM28 87h1v1h-1zM29 27h1v1h-1zM29 95h1v1h-1zM29 97h1v1h-1zM30 89h1v1h-1zM30 92h1v1h-1zM30 99h1v2h-1zM31 43h1v1h-1zM31 87h1v1h-1zM31 93h1v1h-1zM31 99h1v2h-1zM32 52h1v7h-1zM32 71h1v2h-1zM32 94h1v1h-1z"/>
<path fill="#1a306e" d="M0 26h1v1h-1zM1 17h1v2h-1zM11 88h1v1h-1zM11 92h1v1h-1zM11 99h1v3h-1zM11 136h1v2h-1zM12 9h1v11h-1zM12 81h1v2h-1zM13 26h1v1h-1zM13 83h1v1h-1zM14 32h1v1h-1zM14 87h1v1h-1zM16 48h1v2h-1zM16 87h1v1h-1zM17 42h1v1h-1zM17 88h1v1h-1zM17 93h1v1h-1zM17 96h1v1h-1zM18 32h1v1h-1zM19 78h1v1h-1zM20 73h1v1h-1zM21 16h1v1h-1zM22 12h1v2h-1zM22 79h1v1h-1zM23 83h1v2h-1zM23 133h1v1h-1zM24 85h1v2h-1zM24 132h1v1h-1zM25 84h1v1h-1zM25 135h1v2h-1zM25 140h1v1h-1zM26 9h1v3h-1zM26 83h1v1h-1zM27 18h1v1h-1zM27 84h1v1h-1zM28 86h1v1h-1zM29 28h1v1h-1zM29 89h1v1h-1zM30 36h1v1h-1zM30 93h1v1h-1zM31 44h1v1h-1zM32 59h1v12h-1zM32 97h1v1h-1z"/>
<path fill="#123468" d="M0 27h1v2h-1zM1 19h1v2h-1zM11 87h1v1h-1zM11 93h1v6h-1zM11 138h1v3h-1zM12 20h1v1h-1zM12 80h1v1h-1zM13 82h1v1h-1zM14 83h1v1h-1zM14 88h1v1h-1zM14 97h1v1h-1zM14 108h1v1h-1zM14 118h1v1h-1zM15 40h1v1h-1zM15 87h1v1h-1zM15 98h1v1h-1zM15 109h1v1h-1zM15 119h1v1h-1zM15 138h1v1h-1zM16 50h1v2h-1zM16 83h1v1h-1zM16 98h1v1h-1zM16 109h1v1h-1zM17 92h1v1h-1zM17 117h1v1h-1zM18 33h1v1h-1zM18 81h1v1h-1zM19 24h1v1h-1zM20 19h1v1h-1zM20 72h1v1h-1zM21 73h1v1h-1zM22 14h1v2h-1zM22 78h1v1h-1zM23 0h1v6h-1zM23 82h1v1h-1zM23 134h1v2h-1zM23 140h1v1h-1zM24 84h1v1h-1zM24 133h1v2h-1zM25 0h1v1h-1zM25 83h1v1h-1zM25 137h1v3h-1zM26 12h1v1h-1zM26 82h1v1h-1zM27 83h1v1h-1zM28 24h1v1h-1zM28 85h1v1h-1zM29 88h1v1h-1zM29 96h1v1h-1zM30 88h1v1h-1zM30 94h1v1h-1zM31 45h1v1h-1zM31 94h1v1h-1zM32 95h1v1h-1z"/>
<path fill="#0f3662" d="M0 29h1v1h-1zM1 21h1v2h-1zM10 112h1v10h-1zM11 86h1v1h-1zM12 21h1v1h-1zM13 27h1v1h-1zM14 33h1v1h-1zM14 89h1v1h-1zM14 93h1v2h-1zM15 41h1v1h-1zM15 83h1v1h-1zM15 88h1v1h-1zM16 52h1v1h-1zM16 70h1v1h-1zM16 88h1v1h-1zM16 119h1v1h-1zM16 138h1v1h-1zM17 43h1v1h-1zM17 82h1v1h-1zM17 89h1v1h-1zM17 91h1v1h-1zM17 108h1v1h-1zM19 25h1v1h-1zM19 77h1v1h-1zM20 20h1v1h-1zM20 71h1v1h-1zM21 17h1v1h-1zM21 72h1v1h-1zM22 77h1v1h-1zM23 6h1v3h-1zM23 80h1v2h-1zM23 136h1v4h-1zM24 83h1v1h-1zM24 135h1v1h-1zM24 140h1v1h-1zM25 1h1v5h-1zM25 82h1v1h-1zM26 13h1v2h-1zM26 81h1v1h-1zM27 19h1v1h-1zM27 82h1v1h-1zM28 25h1v1h-1zM29 29h1v1h-1zM30 37h1v1h-1zM30 97h1v1h-1zM31 46h1v1h-1zM31 86h1v1h-1zM31 97h1v1h-1z"/>
<path fill="#0d395c" d="M0 30h1v1h-1zM1 23h1v1h-1zM10 110h1v2h-1zM10 122h1v7h-1zM11 85h1v1h-1zM12 79h1v1h-1zM13 81h1v1h-1zM14 82h1v1h-1zM14 90h1v3h-1zM14 95h1v2h-1zM15 42h1v1h-1zM15 107h1v1h-1zM15 117h1v1h-1zM16 53h1v2h-1zM16 69h1v1h-1zM16 82h1v1h-1zM16 97h1v1h-1zM16 107h1v1h-1zM17 44h1v1h-1zM18 34h1v1h-1zM19 76h1v1h-1zM20 70h1v1h-1zM21 71h1v1h-1zM22 76h1v1h-1zM23 9h1v3h-1zM23 79h1v1h-1zM24 0h1v4h-1zM24 82h1v1h-1zM24 136h1v2h-1zM24 139h1v1h-1zM25 6h1v4h-1zM25 81h1v1h-1zM26 15h1v1h-1zM26 80h1v1h-1zM27 20h1v1h-1zM27 81h1v1h-1zM28 84h1v1h-1zM29 30h1v1h-1zM29 87h1v1h-1zM30 87h1v1h-1zM30 95h1v1h-1zM31 47h1v2h-1zM32 96h1v1h-1z"/>
<path fill="#0b3c56" d="M0 31h1v1h-1zM1 24h1v1h-1zM10 109h1v1h-1zM10 129h1v6h-1zM11 83h1v2h-1zM12 22h1v1h-1zM12 78h1v1h-1zM13 28h1v1h-1zM13 80h1v1h-1zM14 34h1v1h-1zM15 43h1v1h-1zM15 82h1v1h-1zM15 89h1v1h-1zM15 97h1v1h-1zM16 55h1v2h-1zM16 68h1v1h-1zM16 71h1v1h-1zM16 89h1v1h-1zM16 93h1v2h-1zM16 117h1v1h-1zM17 45h1v2h-1zM17 81h1v1h-1zM17 90h1v1h-1zM18 80h1v1h-1zM19 26h1v1h-1zM19 70h1v6h-1zM20 21h1v1h-1zM20 69h1v1h-1zM21 18h1v1h-1zM22 16h1v1h-1zM22 75h1v1h-1zM23 12h1v2h-1zM24 4h1v4h-1zM24 81h1v1h-1zM24 138h1v1h-1zM25 10h1v2h-1zM26 16h1v1h-1zM26 79h1v1h-1zM27 21h1v1h-1zM28 26h1v1h-1zM28 83h1v1h-1zM29 86h1v1h-1zM30 38h1v1h-1zM31 49h1v1h-1zM31 85h1v1h-1zM31 95h1v1h-1z"/>
<path fill="#093e4f" d="M0 32h1v1h-1zM1 25h1v1h-1zM2 0h1v6h-1zM10 89h1v3h-1zM10 107h1v2h-1zM10 135h1v2h-1zM11 82h1v1h-1zM13 79h1v1h-1zM14 81h1v1h-1zM15 44h1v1h-1zM15 90h1v6h-1zM16 57h1v2h-1zM16 66h1v2h-1zM16 92h1v1h-1zM16 95h1v2h-1zM17 47h1v2h-1zM17 70h1v1h-1zM18 35h1v1h-1zM18 70h1v1h-1zM18 78h1v2h-1zM19 69h1v1h-1zM20 22h1v1h-1zM21 70h1v1h-1zM22 74h1v1h-1zM23 14h1v2h-1zM23 78h1v1h-1zM24 8h1v3h-1zM24 80h1v1h-1zM25 12h1v1h-1zM25 80h1v1h-1zM26 78h1v1h-1zM27 80h1v1h-1zM29 31h1v1h-1zM29 85h1v1h-1zM30 96h1v1h-1zM31 50h1v2h-1zM31 83h1v2h-1z"/>
<path fill="#074149" d="M0 33h1v1h-1zM1 26h1v1h-1zM2 6h1v10h-1zM10 88h1v1h-1zM10 92h1v2h-1zM10 105h1v2h-1zM10 137h1v2h-1zM11 80h1v2h-1zM12 23h1v1h-1zM12 77h1v1h-1zM13 29h1v1h-1zM14 35h1v1h-1zM15 45h1v1h-1zM15 81h1v1h-1zM15 96h1v1h-1zM16 59h1v7h-1zM16 72h1v1h-1zM16 81h1v1h-1zM16 90h1v2h-1zM17 49h1v2h-1zM17 69h1v1h-1zM17 118h1v1h-1zM18 36h1v1h-1zM18 69h1v1h-1zM18 71h1v2h-1zM18 77h1v1h-1zM19 27h1v1h-1zM19 68h1v1h-1zM20 68h1v1h-1zM21 19h1v1h-1zM21 69h1v1h-1zM22 17h1v1h-1zM22 73h1v1h-1zM23 77h1v1h-1zM24 11h1v1h-1zM24 79h1v1h-1zM25 13h1v2h-1zM25 79h1v1h-1zM26 17h1v1h-1zM26 77h1v1h-1zM27 22h1v1h-1zM27 79h1v1h-1zM28 27h1v1h-1zM28 82h1v1h-1zM30 39h1v1h-1zM30 86h1v1h-1zM31 52h1v2h-1zM31 82h1v1h-1zM31 96h1v1h-1z"/>
<path fill="#074446" d="M0 34h1v1h-1zM1 27h1v2h-1zM2 16h1v2h-1zM9 112h1v12h-1zM10 87h1v1h-1zM10 94h1v2h-1zM10 101h1v4h-1zM10 139h1v2h-1zM11 79h1v1h-1zM13 78h1v1h-1zM14 80h1v1h-1zM15 46h1v2h-1zM16 73h1v1h-1zM17 51h1v2h-1zM17 67h1v2h-1zM17 71h1v1h-1zM17 80h1v1h-1zM18 68h1v1h-1zM18 73h1v2h-1zM18 76h1v1h-1zM19 28h1v1h-1zM20 23h1v1h-1zM20 67h1v1h-1zM21 68h1v1h-1zM22 72h1v1h-1zM23 16h1v1h-1zM23 76h1v1h-1zM24 12h1v2h-1zM24 78h1v1h-1zM25 15h1v1h-1zM25 77h1v2h-1zM26 18h1v1h-1zM26 76h1v1h-1zM27 23h1v1h-1zM27 78h1v1h-1zM28 81h1v1h-1zM29 32h1v1h-1zM29 84h1v1h-1zM31 54h1v5h-1zM31 81h1v1h-1z"/>
<path fill="#064b3e" d="M0 35h1v1h-1zM1 30h1v1h-1zM1 123h1v9h-1zM2 19h1v2h-1zM8 110h1v9h-1zM8 125h1v1h-1zM9 90h1v16h-1zM9 130h1v9h-1zM10 84h1v2h-1zM11 15h1v2h-1zM12 24h1v1h-1zM14 36h1v1h-1zM14 78h1v1h-1zM15 50h1v2h-1zM15 68h1v4h-1zM15 78h1v2h-1zM15 118h1v1h-1zM16 74h1v1h-1zM16 78h1v1h-1zM16 108h1v1h-1zM17 55h1v3h-1zM17 63h1v3h-1zM17 73h1v1h-1zM17 77h1v2h-1zM18 66h1v1h-1zM19 29h1v1h-1zM19 66h1v1h-1zM20 24h1v1h-1zM20 66h1v1h-1zM21 20h1v1h-1zM22 70h1v1h-1zM23 17h1v1h-1zM23 75h1v1h-1zM24 15h1v1h-1zM24 76h1v1h-1zM25 75h1v1h-1zM26 20h1v1h-1zM26 75h1v1h-1zM27 24h1v1h-1zM28 80h1v1h-1zM29 33h1v1h-1zM29 82h1v1h-1zM30 40h1v2h-1zM30 83h1v1h-1zM31 75h1v1h-1z"/>
<path fill="#064f38" d="M0 36h1v1h-1zM0 115h1v4h-1zM1 31h1v1h-1zM1 115h1v4h-1zM2 21h1v2h-1zM8 119h1v6h-1zM8 126h1v3h-1zM9 89h1v1h-1zM9 139h1v1h-1zM10 83h1v1h-1zM11 17h1v2h-1zM11 77h1v1h-1zM12 75h1v1h-1zM13 76h1v1h-1zM14 77h1v1h-1zM15 52h1v2h-1zM15 64h1v4h-1zM15 72h1v1h-1zM15 77h1v1h-1zM16 76h1v2h-1zM16 118h1v1h-1zM17 58h1v5h-1zM17 74h1v1h-1zM17 76h1v1h-1zM18 38h1v1h-1zM18 65h1v1h-1zM19 65h1v1h-1zM20 65h1v1h-1zM21 21h1v1h-1zM21 66h1v1h-1zM22 19h1v1h-1zM22 69h1v1h-1zM23 74h1v1h-1zM24 16h1v1h-1zM24 75h1v1h-1zM25 17h1v1h-1zM26 74h1v1h-1zM27 76h1v1h-1zM28 79h1v1h-1zM30 42h1v2h-1zM30 81h1v2h-1z"/>
<path fill="#065332" d="M0 37h1v2h-1zM2 23h1v1h-1zM2 115h1v4h-1zM2 123h1v9h-1zM8 109h1v1h-1zM8 129h1v3h-1zM9 87h1v2h-1zM9 140h1v1h-1zM10 81h1v2h-1zM11 19h1v2h-1zM11 76h1v1h-1zM12 25h1v1h-1zM12 73h1v2h-1zM13 72h1v4h-1zM14 37h1v1h-1zM14 69h1v5h-1zM14 76h1v1h-1zM15 54h1v10h-1zM15 73h1v2h-1zM15 76h1v1h-1zM16 75h1v1h-1zM17 75h1v1h-1zM18 63h1v2h-1zM19 30h1v1h-1zM19 64h1v1h-1zM20 25h1v1h-1zM21 22h1v1h-1zM21 65h1v1h-1zM22 67h1v2h-1zM23 18h1v1h-1zM23 72h1v2h-1zM24 17h1v1h-1zM24 74h1v1h-1zM25 18h1v1h-1zM25 74h1v1h-1zM26 21h1v1h-1zM26 73h1v1h-1zM27 25h1v1h-1zM27 75h1v1h-1zM28 29h1v1h-1zM28 78h1v1h-1zM29 34h1v1h-1zM29 81h1v1h-1zM30 44h1v3h-1zM30 72h1v9h-1z"/>
<path fill="#08572b" d="M0 39h1v1h-1zM0 104h1v6h-1zM0 132h1v3h-1zM1 32h1v1h-1zM1 104h1v6h-1zM1 132h1v3h-1zM2 24h1v1h-1zM3 0h1v10h-1zM3 114h1v6h-1zM7 110h1v8h-1zM8 106h1v3h-1zM8 132h1v2h-1zM9 86h1v1h-1zM10 79h1v2h-1zM11 75h1v1h-1zM12 72h1v1h-1zM13 31h1v1h-1zM13 69h1v3h-1zM14 67h1v2h-1zM14 74h1v2h-1zM15 75h1v1h-1zM18 39h1v1h-1zM18 62h1v1h-1zM19 63h1v1h-1zM20 64h1v1h-1zM22 66h1v1h-1zM23 71h1v1h-1zM25 73h1v1h-1zM26 22h1v1h-1zM26 72h1v1h-1zM27 74h1v1h-1zM28 77h1v1h-1zM29 79h1v2h-1zM30 47h1v3h-1zM30 66h1v6h-1z"/>
<path fill="#0c5c23" d="M0 40h1v1h-1zM0 121h1v2h-1zM1 33h1v2h-1zM1 121h1v2h-1zM2 25h1v1h-1zM2 104h1v6h-1zM2 121h1v2h-1zM3 10h1v3h-1zM3 105h1v4h-1zM3 112h1v2h-1zM3 120h1v7h-1zM4 110h1v11h-1zM5 110h1v4h-1zM6 109h1v7h-1zM7 108h1v2h-1zM7 118h1v10h-1zM8 90h1v16h-1zM8 134h1v2h-1zM9 85h1v1h-1zM10 0h1v6h-1zM10 78h1v1h-1zM11 21h1v1h-1zM11 73h1v2h-1zM12 70h1v2h-1zM13 68h1v1h-1zM14 38h1v1h-1zM14 65h1v2h-1zM18 40h1v1h-1zM18 60h1v2h-1zM19 31h1v1h-1zM20 26h1v1h-1zM20 63h1v1h-1zM21 23h1v1h-1zM21 64h1v1h-1zM22 20h1v1h-1zM22 65h1v1h-1zM23 19h1v1h-1zM23 70h1v1h-1zM24 18h1v1h-1zM24 73h1v1h-1zM25 19h1v1h-1zM25 72h1v1h-1zM26 23h1v1h-1zM27 26h1v1h-1zM27 73h1v1h-1zM28 30h1v1h-1zM28 76h1v1h-1zM29 35h1v1h-1zM29 77h1v2h-1zM30 50h1v16h-1z"/>
<path fill="#116617" d="M0 41h1v1h-1zM0 113h1v2h-1zM1 36h1v1h-1zM1 113h1v2h-1zM2 27h1v2h-1zM2 113h1v2h-1zM3 16h1v2h-1zM3 102h1v2h-1zM3 110h1v1h-1zM3 129h1v3h-1zM4 90h1v6h-1zM4 97h1v7h-1zM4 126h1v2h-1zM5 90h1v17h-1zM5 119h1v8h-1zM6 90h1v3h-1zM6 102h1v5h-1zM6 119h1v5h-1zM6 126h1v4h-1zM7 89h1v1h-1zM7 92h1v12h-1zM7 131h1v2h-1zM8 88h1v1h-1zM8 139h1v1h-1zM9 81h1v2h-1zM10 12h1v4h-1zM10 75h1v1h-1zM11 71h1v1h-1zM12 67h1v2h-1zM13 32h1v1h-1zM13 65h1v1h-1zM14 61h1v2h-1zM18 44h1v10h-1zM19 61h1v1h-1zM20 62h1v1h-1zM21 24h1v1h-1zM21 63h1v1h-1zM22 22h1v1h-1zM22 64h1v1h-1zM23 20h1v1h-1zM23 68h1v1h-1zM24 71h1v1h-1zM25 21h1v1h-1zM25 71h1v1h-1zM26 24h1v1h-1zM26 69h1v2h-1zM27 71h1v1h-1zM28 73h1v2h-1zM29 37h1v1h-1zM29 71h1v4h-1z"/>
<path fill="#136b13" d="M0 42h1v1h-1zM0 135h1v6h-1zM1 37h1v1h-1zM2 29h1v1h-1zM2 90h1v4h-1zM2 101h1v1h-1zM3 18h1v1h-1zM3 90h1v5h-1zM3 101h1v1h-1zM3 132h1v2h-1zM4 0h1v8h-1zM4 89h1v1h-1zM4 96h1v1h-1zM4 128h1v2h-1zM5 88h1v2h-1zM5 127h1v3h-1zM6 88h1v2h-1zM6 93h1v9h-1zM6 130h1v2h-1zM7 88h1v1h-1zM7 133h1v2h-1zM8 87h1v1h-1zM8 140h1v1h-1zM9 79h1v2h-1zM10 16h1v2h-1zM10 73h1v2h-1zM11 23h1v1h-1zM11 68h1v3h-1zM12 27h1v1h-1zM12 66h1v1h-1zM13 63h1v2h-1zM14 39h1v1h-1zM14 58h1v3h-1zM19 33h1v1h-1zM19 58h1v3h-1zM20 28h1v1h-1zM20 61h1v1h-1zM21 62h1v1h-1zM23 21h1v1h-1zM23 67h1v1h-1zM24 20h1v1h-1zM25 22h1v1h-1zM25 69h1v2h-1zM26 67h1v2h-1zM27 28h1v1h-1zM28 32h1v1h-1zM28 72h1v1h-1zM29 38h1v1h-1zM29 66h1v5h-1z"/>
<path fill="#18720e" d="M0 43h1v1h-1zM0 102h1v2h-1zM1 39h1v1h-1zM1 102h1v2h-1zM2 31h1v1h-1zM2 102h1v2h-1zM2 110h1v3h-1zM2 135h1v6h-1zM3 21h1v2h-1zM3 139h1v2h-1zM4 11h1v3h-1zM4 87h1v1h-1zM4 132h1v2h-1zM5 0h1v2h-1zM5 85h1v2h-1zM5 132h1v1h-1zM6 85h1v2h-1zM6 133h1v2h-1zM7 85h1v1h-1zM7 137h1v2h-1zM8 80h1v5h-1zM9 6h1v6h-1zM9 76h1v2h-1zM10 19h1v2h-1zM10 70h1v2h-1zM11 24h1v1h-1zM11 64h1v1h-1zM12 63h1v1h-1zM13 60h1v2h-1zM14 40h1v2h-1zM14 49h1v6h-1zM19 52h1v3h-1zM20 58h1v2h-1zM21 26h1v1h-1zM21 61h1v1h-1zM22 24h1v1h-1zM22 62h1v1h-1zM23 23h1v1h-1zM23 64h1v1h-1zM24 22h1v1h-1zM24 67h1v2h-1zM25 65h1v2h-1zM26 63h1v2h-1zM27 65h1v3h-1zM28 64h1v6h-1zM29 41h1v3h-1zM29 55h1v5h-1z"/>
<path fill="#1c740d" d="M0 44h1v1h-1zM0 119h1v2h-1zM1 40h1v1h-1zM1 90h1v3h-1zM1 119h1v2h-1zM2 89h1v1h-1zM3 23h1v1h-1zM3 89h1v1h-1zM3 95h1v1h-1zM3 97h1v1h-1zM4 14h1v2h-1zM4 86h1v1h-1zM4 134h1v7h-1zM5 2h1v7h-1zM5 81h1v4h-1zM5 133h1v2h-1zM6 81h1v4h-1zM6 135h1v2h-1zM7 81h1v4h-1zM7 139h1v1h-1zM8 0h1v9h-1zM8 78h1v2h-1zM9 12h1v5h-1zM9 74h1v2h-1zM10 66h1v4h-1zM11 63h1v1h-1zM12 28h1v1h-1zM12 61h1v2h-1zM13 33h1v1h-1zM13 56h1v4h-1zM14 42h1v7h-1zM19 35h1v4h-1zM19 47h1v5h-1zM20 30h1v1h-1zM20 56h1v2h-1zM21 27h1v1h-1zM23 63h1v1h-1zM24 23h1v1h-1zM24 64h1v3h-1zM25 24h1v1h-1zM25 63h1v2h-1zM26 26h1v1h-1zM26 61h1v2h-1zM27 30h1v1h-1zM27 61h1v4h-1zM28 34h1v1h-1zM28 59h1v5h-1zM29 44h1v5h-1zM29 51h1v4h-1z"/>
<path fill="#2c790b" d="M0 45h1v1h-1zM0 94h1v1h-1zM0 110h1v3h-1zM1 41h1v1h-1zM1 98h1v1h-1zM2 33h1v1h-1zM2 95h1v1h-1zM3 25h1v1h-1zM3 88h1v1h-1zM4 18h1v1h-1zM4 83h1v3h-1zM5 12h1v2h-1zM5 77h1v2h-1zM6 5h1v6h-1zM6 78h1v1h-1zM6 140h1v1h-1zM7 0h1v11h-1zM7 78h1v2h-1zM8 12h1v2h-1zM8 75h1v2h-1zM9 19h1v2h-1zM9 68h1v3h-1zM10 22h1v1h-1zM10 64h1v1h-1zM11 25h1v1h-1zM11 60h1v2h-1zM12 29h1v1h-1zM12 57h1v2h-1zM13 52h1v2h-1zM20 31h1v1h-1zM20 52h1v2h-1zM21 28h1v1h-1zM21 58h1v1h-1zM22 26h1v1h-1zM22 60h1v1h-1zM23 25h1v1h-1zM23 61h1v1h-1zM24 25h1v1h-1zM24 60h1v2h-1zM25 26h1v1h-1zM25 60h1v1h-1zM26 28h1v1h-1zM26 59h1v1h-1zM27 31h1v1h-1zM27 58h1v2h-1zM28 35h1v1h-1zM28 55h1v2h-1z"/>
<path fill="#387c0a" d="M0 46h1v1h-1zM0 89h1v1h-1zM1 42h1v1h-1zM1 89h1v1h-1zM1 101h1v1h-1zM2 34h1v1h-1zM2 88h1v1h-1zM2 97h1v1h-1zM3 26h1v1h-1zM3 96h1v1h-1zM4 19h1v2h-1zM4 80h1v3h-1zM5 14h1v2h-1zM5 75h1v2h-1zM6 11h1v1h-1zM6 76h1v2h-1zM7 11h1v1h-1zM7 77h1v1h-1zM8 14h1v2h-1zM8 73h1v2h-1zM9 65h1v3h-1zM10 23h1v1h-1zM10 63h1v1h-1zM11 59h1v1h-1zM12 55h1v2h-1zM13 50h1v2h-1zM20 50h1v2h-1zM21 29h1v1h-1zM21 56h1v2h-1zM23 60h1v1h-1zM25 59h1v1h-1zM26 29h1v1h-1zM26 58h1v1h-1zM27 32h1v1h-1zM27 57h1v1h-1zM28 36h1v1h-1zM28 54h1v1h-1z"/>
<path fill="#477d0b" d="M0 47h1v1h-1zM1 99h1v1h-1zM2 35h1v1h-1zM3 27h1v1h-1zM4 79h1v1h-1zM5 16h1v1h-1zM6 12h1v2h-1zM6 75h1v1h-1zM7 12h1v2h-1zM7 76h1v1h-1zM8 16h1v2h-1zM8 71h1v2h-1zM9 21h1v1h-1zM10 62h1v1h-1zM11 26h1v1h-1zM11 58h1v1h-1zM12 54h1v1h-1zM13 34h1v1h-1zM13 48h1v2h-1zM20 32h1v1h-1zM20 48h1v2h-1zM21 55h1v1h-1zM22 27h1v1h-1zM22 59h1v1h-1zM23 26h1v1h-1zM23 59h1v1h-1zM24 26h1v1h-1zM24 59h1v1h-1zM25 27h1v1h-1zM25 58h1v1h-1zM26 30h1v1h-1zM26 57h1v1h-1zM27 56h1v1h-1zM28 37h1v2h-1zM28 52h1v2h-1z"/>
<path fill="#577d0b" d="M0 48h1v1h-1zM1 43h1v1h-1zM1 88h1v1h-1zM1 100h1v1h-1zM2 36h1v1h-1zM2 87h1v1h-1zM3 28h1v1h-1zM3 87h1v1h-1zM4 21h1v1h-1zM4 78h1v1h-1zM5 17h1v1h-1zM5 74h1v1h-1zM6 14h1v1h-1zM6 74h1v1h-1zM7 14h1v1h-1zM7 74h1v2h-1zM8 18h1v1h-1zM8 68h1v3h-1zM9 64h1v1h-1zM10 61h1v1h-1zM11 57h1v1h-1zM12 30h1v1h-1zM12 53h1v1h-1zM13 47h1v1h-1zM20 46h1v2h-1zM21 30h1v1h-1zM21 54h1v1h-1zM22 58h1v1h-1zM24 58h1v1h-1zM25 57h1v1h-1zM26 56h1v1h-1zM27 33h1v1h-1zM27 55h1v1h-1zM28 39h1v1h-1zM28 51h1v1h-1z"/>
<path fill="#757d0d" d="M0 49h1v1h-1zM0 101h1v1h-1zM1 95h1v1h-1zM2 38h1v1h-1zM2 96h1v1h-1zM3 29h1v1h-1zM4 76h1v1h-1zM5 19h1v1h-1zM6 17h1v1h-1zM6 71h1v1h-1zM7 17h1v1h-1zM7 70h1v2h-1zM10 59h1v1h-1zM12 31h1v1h-1zM12 51h1v1h-1zM13 44h1v1h-1zM20 42h1v2h-1zM21 31h1v1h-1zM21 51h1v1h-1zM22 29h1v1h-1zM22 56h1v1h-1zM23 57h1v1h-1zM25 29h1v1h-1zM25 56h1v1h-1zM27 53h1v1h-1zM28 41h1v7h-1z"/>
<path fill="#837c0e" d="M0 50h1v1h-1zM0 87h1v1h-1zM0 95h1v1h-1zM0 99h1v1h-1zM1 45h1v1h-1zM1 87h1v1h-1zM1 97h1v1h-1zM2 39h1v1h-1zM2 86h1v1h-1zM3 30h1v1h-1zM3 86h1v1h-1zM4 23h1v1h-1zM4 75h1v1h-1zM5 20h1v1h-1zM5 72h1v1h-1zM6 18h1v1h-1zM6 70h1v1h-1zM7 18h1v1h-1zM7 68h1v2h-1zM8 64h1v1h-1zM9 23h1v1h-1zM9 62h1v1h-1zM10 25h1v1h-1zM10 57h1v2h-1zM11 54h1v1h-1zM12 50h1v1h-1zM13 35h1v2h-1zM13 42h1v2h-1zM20 40h1v2h-1zM21 50h1v1h-1zM22 55h1v1h-1zM23 28h1v1h-1zM23 56h1v1h-1zM24 28h1v1h-1zM24 56h1v1h-1zM25 55h1v1h-1zM26 32h1v1h-1zM26 54h1v1h-1zM27 35h1v1h-1zM27 52h1v1h-1z"/>
<path fill="#947b0e" d="M0 51h1v1h-1zM1 46h1v1h-1zM6 19h1v1h-1zM6 69h1v1h-1zM7 19h1v1h-1zM7 66h1v2h-1zM8 21h1v1h-1zM9 61h1v1h-1zM10 56h1v1h-1zM11 28h1v1h-1zM11 53h1v1h-1zM12 49h1v1h-1zM13 37h1v3h-1zM13 41h1v1h-1zM20 34h1v1h-1zM20 38h1v2h-1zM21 32h1v1h-1zM21 49h1v1h-1zM22 30h1v1h-1zM22 54h1v1h-1zM23 29h1v1h-1zM24 29h1v1h-1zM24 55h1v1h-1zM25 30h1v1h-1zM25 54h1v1h-1zM26 53h1v1h-1zM27 36h1v1h-1zM27 51h1v1h-1z"/>
<path fill="#a7790f" d="M0 52h1v1h-1zM0 97h1v1h-1zM0 100h1v1h-1zM1 86h1v1h-1zM2 40h1v1h-1zM3 31h1v1h-1zM3 85h1v1h-1zM4 24h1v1h-1zM4 74h1v1h-1zM5 21h1v1h-1zM5 71h1v1h-1zM6 20h1v1h-1zM6 67h1v2h-1zM7 20h1v1h-1zM7 65h1v1h-1zM8 63h1v1h-1zM9 60h1v1h-1zM10 26h1v1h-1zM10 55h1v1h-1zM11 52h1v1h-1zM12 32h1v1h-1zM12 48h1v1h-1zM13 40h1v1h-1zM20 37h1v1h-1zM21 33h1v1h-1zM21 47h1v2h-1zM22 31h1v1h-1zM22 53h1v1h-1zM23 55h1v1h-1zM24 54h1v1h-1zM25 31h1v1h-1zM25 53h1v1h-1zM26 33h1v1h-1zM26 52h1v1h-1zM27 37h1v1h-1zM27 49h1v2h-1z"/>
<path fill="#ba7810" d="M0 53h1v1h-1zM0 75h1v2h-1zM0 86h1v1h-1zM1 47h1v1h-1zM2 41h1v1h-1zM2 85h1v1h-1zM3 80h1v5h-1zM4 73h1v1h-1zM5 70h1v1h-1zM6 21h1v1h-1zM6 66h1v1h-1zM7 21h1v1h-1zM7 64h1v1h-1zM8 22h1v1h-1zM8 62h1v1h-1zM9 24h1v1h-1zM9 59h1v1h-1zM11 29h1v1h-1zM11 51h1v1h-1zM12 47h1v1h-1zM20 35h1v2h-1zM21 46h1v1h-1zM22 52h1v1h-1zM23 30h1v1h-1zM23 54h1v1h-1zM24 30h1v1h-1zM24 53h1v1h-1zM25 32h1v1h-1zM25 52h1v1h-1zM26 51h1v1h-1zM27 38h1v1h-1zM27 48h1v1h-1z"/>
<path fill="#ca7412" d="M0 54h1v1h-1zM0 71h1v4h-1zM0 77h1v5h-1zM1 48h1v1h-1zM2 42h1v1h-1zM2 83h1v2h-1zM3 32h1v1h-1zM3 76h1v4h-1zM5 22h1v1h-1zM5 68h1v2h-1zM6 65h1v1h-1zM7 63h1v1h-1zM9 58h1v1h-1zM10 27h1v1h-1zM10 54h1v1h-1zM11 50h1v1h-1zM12 46h1v1h-1zM21 34h1v1h-1zM21 44h1v2h-1zM22 32h1v1h-1zM22 51h1v1h-1zM23 53h1v1h-1zM24 52h1v1h-1zM25 51h1v1h-1zM26 34h1v1h-1zM26 50h1v1h-1zM27 39h1v1h-1zM27 47h1v1h-1z"/>
<path fill="#da7114" d="M0 55h1v3h-1zM0 66h1v5h-1zM0 82h1v3h-1zM1 49h1v1h-1zM1 81h1v5h-1zM2 43h1v1h-1zM2 81h1v2h-1zM3 75h1v1h-1zM4 25h1v1h-1zM4 72h1v1h-1zM5 67h1v1h-1zM6 22h1v1h-1zM6 64h1v1h-1zM7 22h1v1h-1zM8 61h1v1h-1zM9 57h1v1h-1zM10 53h1v1h-1zM11 49h1v1h-1zM12 33h1v1h-1zM21 42h1v2h-1zM23 31h1v1h-1zM23 52h1v1h-1zM24 31h1v1h-1zM24 51h1v1h-1zM25 33h1v1h-1zM26 49h1v1h-1zM27 46h1v1h-1z"/>
<path fill="#e27020" d="M0 58h1v8h-1zM0 85h1v1h-1zM0 96h1v1h-1zM1 50h1v1h-1zM1 75h1v6h-1zM1 96h1v1h-1zM2 75h1v6h-1zM3 33h1v1h-1zM3 74h1v1h-1zM4 26h1v2h-1zM4 71h1v1h-1zM5 23h1v1h-1zM5 65h1v2h-1zM6 23h1v1h-1zM7 23h1v1h-1zM7 62h1v1h-1zM8 23h1v1h-1zM8 60h1v1h-1zM9 25h1v1h-1zM9 56h1v1h-1zM10 28h1v1h-1zM11 30h1v1h-1zM12 45h1v1h-1zM21 35h1v7h-1zM22 33h1v1h-1zM22 49h1v2h-1zM23 32h1v1h-1zM23 51h1v1h-1zM24 32h1v1h-1zM24 50h1v1h-1zM25 34h1v1h-1zM25 50h1v1h-1zM26 35h1v2h-1zM26 48h1v1h-1zM27 40h1v6h-1z"/>
<path fill="#677e0c" d="M0 88h1v1h-1zM0 98h1v1h-1zM1 44h1v1h-1zM2 37h1v1h-1zM4 22h1v1h-1zM4 77h1v1h-1zM5 18h1v1h-1zM5 73h1v1h-1zM6 15h1v2h-1zM6 72h1v2h-1zM7 15h1v2h-1zM7 72h1v2h-1zM8 19h1v2h-1zM8 65h1v3h-1zM9 22h1v1h-1zM9 63h1v1h-1zM10 24h1v1h-1zM10 60h1v1h-1zM11 27h1v1h-1zM11 55h1v2h-1zM12 52h1v1h-1zM13 45h1v2h-1zM20 33h1v1h-1zM20 44h1v2h-1zM21 52h1v2h-1zM22 28h1v1h-1zM22 57h1v1h-1zM23 27h1v1h-1zM23 58h1v1h-1zM24 27h1v1h-1zM24 57h1v1h-1zM25 28h1v1h-1zM26 31h1v1h-1zM26 55h1v1h-1zM27 34h1v1h-1zM27 54h1v1h-1zM28 40h1v1h-1zM28 48h1v3h-1z"/>
<path fill="#21760c" d="M0 90h1v4h-1zM1 93h1v2h-1zM1 110h1v3h-1zM2 32h1v1h-1zM3 24h1v1h-1zM4 16h1v2h-1zM5 9h1v3h-1zM5 79h1v2h-1zM5 135h1v6h-1zM6 0h1v5h-1zM6 79h1v2h-1zM6 137h1v3h-1zM7 80h1v1h-1zM7 140h1v1h-1zM8 9h1v3h-1zM8 77h1v1h-1zM9 17h1v2h-1zM9 71h1v3h-1zM10 21h1v1h-1zM10 65h1v1h-1zM11 62h1v1h-1zM12 59h1v2h-1zM13 54h1v2h-1zM19 39h1v8h-1zM20 54h1v2h-1zM21 59h1v2h-1zM22 25h1v1h-1zM22 61h1v1h-1zM23 24h1v1h-1zM23 62h1v1h-1zM24 24h1v1h-1zM24 62h1v2h-1zM25 25h1v1h-1zM25 61h1v2h-1zM26 27h1v1h-1zM26 60h1v1h-1zM27 60h1v1h-1zM28 57h1v2h-1zM29 49h1v2h-1z"/>
<path fill="#064842" d="M0 123h1v9h-1zM1 29h1v1h-1zM2 18h1v1h-1zM9 106h1v6h-1zM9 124h1v6h-1zM10 86h1v1h-1zM10 96h1v5h-1zM11 0h1v15h-1zM11 78h1v1h-1zM12 76h1v1h-1zM13 30h1v1h-1zM13 77h1v1h-1zM14 79h1v1h-1zM15 48h1v2h-1zM15 80h1v1h-1zM15 108h1v1h-1zM16 79h1v2h-1zM17 53h1v2h-1zM17 66h1v1h-1zM17 72h1v1h-1zM17 79h1v1h-1zM18 37h1v1h-1zM18 67h1v1h-1zM18 75h1v1h-1zM19 67h1v1h-1zM21 67h1v1h-1zM22 18h1v1h-1zM22 71h1v1h-1zM24 14h1v1h-1zM24 77h1v1h-1zM25 16h1v1h-1zM25 76h1v1h-1zM26 19h1v1h-1zM27 77h1v1h-1zM28 28h1v1h-1zM29 83h1v1h-1zM30 84h1v2h-1zM31 59h1v16h-1zM31 76h1v5h-1z"/>
<path fill="#10601c" d="M1 35h1v1h-1zM2 26h1v1h-1zM2 132h1v3h-1zM3 13h1v3h-1zM3 104h1v1h-1zM3 109h1v1h-1zM3 111h1v1h-1zM3 127h1v2h-1zM4 104h1v6h-1zM4 121h1v5h-1zM5 107h1v3h-1zM5 114h1v5h-1zM6 107h1v2h-1zM6 116h1v3h-1zM6 124h1v2h-1zM7 90h1v2h-1zM7 104h1v4h-1zM7 128h1v3h-1zM8 89h1v1h-1zM8 136h1v3h-1zM9 83h1v2h-1zM10 6h1v6h-1zM10 76h1v2h-1zM11 22h1v1h-1zM11 72h1v1h-1zM12 26h1v1h-1zM12 69h1v1h-1zM13 66h1v2h-1zM14 63h1v2h-1zM18 41h1v3h-1zM18 54h1v6h-1zM19 32h1v1h-1zM19 62h1v1h-1zM20 27h1v1h-1zM22 21h1v1h-1zM23 69h1v1h-1zM24 19h1v1h-1zM24 72h1v1h-1zM25 20h1v1h-1zM26 71h1v1h-1zM27 27h1v1h-1zM27 72h1v1h-1zM28 31h1v1h-1zM28 75h1v1h-1zM29 36h1v1h-1zM29 75h1v2h-1z"/>
<path fill="#15700f" d="M1 38h1v1h-1zM1 135h1v6h-1zM2 30h1v1h-1zM2 94h1v1h-1zM2 98h1v3h-1zM2 119h1v2h-1zM3 19h1v2h-1zM3 98h1v3h-1zM3 134h1v5h-1zM4 8h1v3h-1zM4 88h1v1h-1zM4 130h1v2h-1zM5 87h1v1h-1zM5 130h1v2h-1zM6 87h1v1h-1zM6 132h1v1h-1zM7 86h1v2h-1zM7 135h1v2h-1zM8 85h1v2h-1zM9 0h1v6h-1zM9 78h1v1h-1zM10 18h1v1h-1zM10 72h1v1h-1zM11 65h1v3h-1zM12 64h1v2h-1zM13 62h1v1h-1zM14 55h1v3h-1zM19 34h1v1h-1zM19 55h1v3h-1zM20 29h1v1h-1zM20 60h1v1h-1zM21 25h1v1h-1zM22 23h1v1h-1zM22 63h1v1h-1zM23 22h1v1h-1zM23 65h1v2h-1zM24 21h1v1h-1zM24 69h1v2h-1zM25 23h1v1h-1zM25 67h1v2h-1zM26 25h1v1h-1zM26 65h1v2h-1zM27 29h1v1h-1zM27 68h1v3h-1zM28 33h1v1h-1zM28 70h1v2h-1zM29 39h1v2h-1zM29 60h1v6h-1z"/>
<path fill="#e77030" d="M1 51h1v1h-1zM1 72h1v3h-1zM2 44h1v1h-1zM2 74h1v1h-1zM3 34h1v1h-1zM3 73h1v1h-1zM4 28h1v1h-1zM5 24h1v1h-1zM6 63h1v1h-1zM7 61h1v1h-1zM8 24h1v1h-1zM9 26h1v1h-1zM9 55h1v1h-1zM10 52h1v1h-1zM11 31h1v1h-1zM11 48h1v1h-1zM12 44h1v1h-1zM22 34h1v1h-1zM22 47h1v2h-1zM23 33h1v1h-1zM23 50h1v1h-1zM24 33h1v1h-1zM24 49h1v1h-1zM25 35h1v1h-1zM25 49h1v1h-1zM26 37h1v1h-1zM26 47h1v1h-1z"/>
<path fill="#ec7040" d="M1 52h1v2h-1zM1 69h1v3h-1zM2 45h1v1h-1zM2 72h1v2h-1zM3 35h1v1h-1zM3 72h1v1h-1zM4 29h1v1h-1zM4 69h1v2h-1zM5 64h1v1h-1zM6 24h1v1h-1zM6 62h1v1h-1zM7 24h1v1h-1zM8 59h1v1h-1zM9 27h1v1h-1zM10 29h1v1h-1zM10 51h1v1h-1zM11 32h1v1h-1zM11 47h1v1h-1zM12 34h1v1h-1zM12 42h1v2h-1zM22 44h1v3h-1zM23 34h1v1h-1zM23 48h1v2h-1zM24 34h1v1h-1zM24 48h1v1h-1zM25 36h1v1h-1zM25 47h1v2h-1zM26 38h1v2h-1zM26 46h1v1h-1z"/>
<path fill="#ef704f" d="M1 54h1v1h-1zM1 66h1v3h-1zM2 46h1v1h-1zM2 71h1v1h-1zM3 36h1v1h-1zM3 71h1v1h-1zM4 30h1v1h-1zM4 66h1v3h-1zM5 25h1v1h-1zM5 63h1v1h-1zM6 61h1v1h-1zM7 60h1v1h-1zM8 25h1v1h-1zM8 58h1v1h-1zM9 28h1v1h-1zM9 54h1v1h-1zM12 41h1v1h-1zM22 35h1v5h-1zM22 41h1v3h-1zM23 47h1v1h-1zM24 47h1v1h-1zM25 37h1v1h-1zM25 46h1v1h-1zM26 40h1v6h-1z"/>
<path fill="#f2705e" d="M1 55h1v11h-1zM2 47h1v1h-1zM2 68h1v3h-1zM3 37h1v1h-1zM3 68h1v3h-1zM4 31h1v1h-1zM4 65h1v1h-1zM5 26h1v1h-1zM5 62h1v1h-1zM6 25h1v1h-1zM6 60h1v1h-1zM7 25h1v1h-1zM7 59h1v1h-1zM8 26h1v1h-1zM8 57h1v1h-1zM9 53h1v1h-1zM10 30h1v1h-1zM10 50h1v1h-1zM11 33h1v1h-1zM11 46h1v1h-1zM12 35h1v6h-1zM22 40h1v1h-1zM23 35h1v2h-1zM23 45h1v2h-1zM24 35h1v2h-1zM24 46h1v1h-1zM25 38h1v2h-1zM25 45h1v1h-1z"/>
<path fill="#f3736d" d="M2 48h1v1h-1zM2 65h1v3h-1zM3 38h1v1h-1zM3 65h1v3h-1zM4 32h1v1h-1zM4 64h1v1h-1zM5 27h1v1h-1zM7 58h1v1h-1zM8 27h1v1h-1zM8 56h1v1h-1zM9 29h1v1h-1zM10 31h1v1h-1zM10 49h1v1h-1zM11 45h1v1h-1zM23 37h1v2h-1zM23 42h1v3h-1zM24 37h1v1h-1zM24 45h1v1h-1zM25 40h1v5h-1z"/>
<path fill="#f4787c" d="M2 49h1v1h-1zM2 61h1v4h-1zM3 39h1v1h-1zM3 63h1v2h-1zM4 62h1v2h-1zM5 28h1v1h-1zM5 61h1v1h-1zM6 26h1v1h-1zM6 59h1v1h-1zM7 26h1v1h-1zM7 57h1v1h-1zM8 55h1v1h-1zM9 30h1v1h-1zM9 52h1v1h-1zM10 48h1v1h-1zM11 34h1v1h-1zM11 44h1v1h-1zM23 39h1v3h-1zM24 38h1v2h-1zM24 41h1v4h-1z"/>
<path fill="#f57c8b" d="M2 50h1v5h-1zM2 56h1v5h-1zM3 62h1v1h-1zM4 33h1v1h-1zM4 61h1v1h-1zM5 29h1v1h-1zM5 60h1v1h-1zM6 27h1v1h-1zM6 58h1v1h-1zM7 27h1v1h-1zM7 56h1v1h-1zM8 28h1v1h-1zM8 54h1v1h-1zM10 32h1v1h-1zM11 43h1v1h-1zM24 40h1v1h-1z"/>
<path fill="#f5819a" d="M2 55h1v1h-1zM3 40h1v2h-1zM3 60h1v2h-1zM4 60h1v1h-1zM5 30h1v1h-1zM5 59h1v1h-1zM6 57h1v1h-1zM7 55h1v1h-1zM8 29h1v1h-1zM9 31h1v1h-1zM9 51h1v1h-1zM10 33h1v1h-1zM10 47h1v1h-1zM11 35h1v2h-1zM11 42h1v1h-1z"/>
<path fill="#f585a8" d="M3 42h1v2h-1zM3 57h1v3h-1zM4 59h1v1h-1zM5 58h1v1h-1zM6 28h1v1h-1zM6 56h1v1h-1zM7 28h1v1h-1zM8 30h1v1h-1zM8 53h1v1h-1zM9 50h1v1h-1zM10 46h1v1h-1zM11 37h1v2h-1zM11 41h1v1h-1z"/>
<path fill="#f088b2" d="M3 44h1v3h-1zM3 54h1v3h-1zM4 34h1v1h-1zM4 57h1v2h-1zM5 31h1v1h-1zM5 57h1v1h-1zM6 29h1v1h-1zM6 55h1v1h-1zM7 29h1v1h-1zM7 54h1v1h-1zM8 52h1v1h-1zM9 49h1v1h-1zM10 34h1v1h-1zM11 39h1v2h-1z"/>
<path fill="#eb8bbc" d="M3 47h1v3h-1zM3 51h1v3h-1zM4 56h1v1h-1zM5 56h1v1h-1zM6 54h1v1h-1zM7 53h1v1h-1zM8 31h1v1h-1zM8 51h1v1h-1zM9 32h1v1h-1zM9 48h1v1h-1zM10 44h1v2h-1z"/>
<path fill="#e68ec5" d="M3 50h1v1h-1zM4 35h1v1h-1zM4 54h1v2h-1zM5 32h1v1h-1zM5 55h1v1h-1zM6 30h1v1h-1zM6 53h1v1h-1zM7 30h1v1h-1zM7 52h1v1h-1zM8 50h1v1h-1zM9 47h1v1h-1zM10 35h1v1h-1zM10 43h1v1h-1z"/>
<path fill="#e090cd" d="M4 36h1v1h-1zM4 53h1v1h-1zM5 33h1v1h-1zM5 54h1v1h-1zM6 31h1v1h-1zM6 52h1v1h-1zM7 31h1v1h-1zM7 51h1v1h-1zM8 32h1v1h-1zM8 49h1v1h-1zM9 33h1v1h-1zM9 46h1v1h-1zM10 36h1v3h-1zM10 41h1v2h-1z"/>
<path fill="#dc94d5" d="M4 37h1v2h-1zM4 51h1v2h-1zM5 52h1v2h-1zM6 32h1v1h-1zM6 51h1v1h-1zM7 50h1v1h-1zM8 48h1v1h-1zM9 44h1v2h-1zM10 39h1v2h-1z"/>
<path fill="#da9fdb" d="M4 39h1v1h-1zM4 46h1v5h-1zM5 51h1v1h-1zM7 32h1v1h-1zM7 49h1v1h-1zM8 47h1v1h-1zM9 34h1v1h-1zM9 42h1v2h-1z"/>
<path fill="#d9a9e2" d="M4 40h1v6h-1zM5 34h1v1h-1zM5 50h1v1h-1zM6 33h1v1h-1zM6 50h1v1h-1zM7 47h1v2h-1zM8 33h1v1h-1zM8 45h1v2h-1zM9 35h1v7h-1z"/>
<path fill="#d8b8e9" d="M5 35h1v1h-1zM5 47h1v2h-1zM6 34h1v1h-1zM6 47h1v2h-1zM7 45h1v1h-1zM8 34h1v1h-1zM8 42h1v2h-1z"/>
<path fill="#d9beeb" d="M5 36h1v2h-1zM5 46h1v1h-1zM6 46h1v1h-1zM7 34h1v1h-1zM7 44h1v1h-1zM8 41h1v1h-1z"/>
<path fill="#dac4ed" d="M5 38h1v1h-1zM5 43h1v3h-1zM6 35h1v1h-1zM6 45h1v1h-1zM7 35h1v1h-1zM7 42h1v2h-1zM8 35h1v6h-1z"/>
<path fill="#dcc9ee" d="M5 39h1v4h-1zM6 36h1v2h-1zM6 43h1v2h-1zM7 36h1v3h-1zM7 41h1v1h-1z"/>
<path fill="#d8b2e7" d="M5 49h1v1h-1zM6 49h1v1h-1zM7 33h1v1h-1zM7 46h1v1h-1zM8 44h1v1h-1z"/>
<path fill="#decef0" d="M6 38h1v2h-1zM6 41h1v2h-1zM7 39h1v2h-1z"/>
<path fill="#e1d3f1" d="M6 40h1v1h-1z"/>
<path fill="#31156a" d="M12 112h1v3h-1zM12 117h1v12h-1zM13 9h1v5h-1zM13 17h1v4h-1zM13 99h1v1h-1zM13 109h1v1h-1zM13 117h1v1h-1zM13 119h1v1h-1zM13 136h1v2h-1zM13 139h1v2h-1zM14 26h1v2h-1zM14 139h1v1h-1zM15 35h1v1h-1zM16 40h1v1h-1zM17 36h1v1h-1zM17 99h1v1h-1zM17 106h1v1h-1zM17 137h1v1h-1zM18 25h1v2h-1zM18 88h1v1h-1zM18 97h1v1h-1zM19 19h1v1h-1zM19 82h1v1h-1zM20 12h1v4h-1zM20 80h1v1h-1zM21 0h1v4h-1zM21 81h1v2h-1zM21 134h1v7h-1zM22 89h1v13h-1zM22 126h1v4h-1zM23 104h1v8h-1zM26 114h1v13h-1zM27 92h1v12h-1zM27 112h1v3h-1zM27 127h1v7h-1zM28 16h1v2h-1zM28 92h1v4h-1zM28 97h1v3h-1zM28 137h1v3h-1zM29 24h1v1h-1zM29 101h1v2h-1zM30 31h1v2h-1zM30 103h1v1h-1zM30 110h1v1h-1zM31 89h1v1h-1zM31 91h1v1h-1zM31 110h1v1h-1zM32 45h1v1h-1zM32 84h1v2h-1zM32 92h1v1h-1zM32 101h1v1h-1z"/>
<path fill="#2d0f5e" d="M12 115h1v2h-1zM13 6h1v3h-1zM13 100h1v5h-1zM13 106h1v1h-1zM13 110h1v1h-1zM13 116h1v1h-1zM13 131h1v5h-1zM14 25h1v1h-1zM14 116h1v1h-1zM14 137h1v1h-1zM15 34h1v1h-1zM15 136h1v1h-1zM16 39h1v1h-1zM16 136h1v1h-1zM17 35h1v1h-1zM17 85h1v1h-1zM17 139h1v1h-1zM18 24h1v1h-1zM18 84h1v1h-1zM18 87h1v1h-1zM18 98h1v1h-1zM18 108h1v1h-1zM18 117h1v1h-1zM19 18h1v1h-1zM19 83h1v1h-1zM20 8h1v4h-1zM20 81h1v1h-1zM21 83h1v1h-1zM21 131h1v3h-1zM22 102h1v3h-1zM22 111h1v15h-1zM27 104h1v8h-1zM27 115h1v3h-1zM27 121h1v6h-1zM28 11h1v5h-1zM28 100h1v5h-1zM28 131h1v6h-1zM28 140h1v1h-1zM29 103h1v2h-1zM29 110h1v2h-1zM30 30h1v1h-1zM30 104h1v1h-1zM30 111h1v1h-1zM31 39h1v1h-1zM31 103h1v1h-1zM31 120h1v1h-1zM32 44h1v1h-1zM32 86h1v1h-1zM32 102h1v1h-1z"/>
<path fill="#260b51" d="M13 0h1v6h-1zM13 105h1v1h-1zM13 111h1v2h-1zM13 115h1v1h-1zM13 120h1v3h-1zM13 128h1v3h-1zM14 24h1v1h-1zM14 100h1v6h-1zM14 110h1v1h-1zM14 120h1v1h-1zM14 136h1v1h-1zM14 140h1v1h-1zM15 33h1v1h-1zM15 100h1v6h-1zM15 110h1v1h-1zM15 120h1v1h-1zM15 140h1v1h-1zM16 37h1v2h-1zM16 100h1v6h-1zM16 110h1v1h-1zM16 120h1v1h-1zM17 33h1v2h-1zM17 100h1v1h-1zM17 110h1v1h-1zM18 23h1v1h-1zM18 86h1v1h-1zM18 119h1v1h-1zM18 138h1v1h-1zM19 17h1v1h-1zM19 89h1v8h-1zM20 5h1v3h-1zM20 82h1v1h-1zM20 135h1v1h-1zM20 139h1v2h-1zM21 84h1v2h-1zM21 94h1v5h-1zM21 128h1v3h-1zM22 105h1v6h-1zM27 118h1v3h-1zM28 0h1v11h-1zM28 105h1v26h-1zM29 22h1v2h-1zM29 105h1v5h-1zM29 112h1v2h-1zM29 135h1v6h-1zM30 28h1v2h-1zM30 105h1v1h-1zM30 109h1v1h-1zM30 120h1v1h-1zM31 90h1v1h-1zM31 104h1v1h-1zM31 111h1v1h-1zM31 119h1v1h-1zM31 121h1v1h-1zM32 87h1v2h-1zM32 91h1v1h-1zM32 110h1v1h-1zM32 120h1v1h-1z"/>
<path fill="#210843" d="M13 113h1v2h-1zM13 123h1v5h-1zM14 23h1v1h-1zM14 135h1v1h-1zM15 32h1v1h-1zM15 111h1v1h-1zM15 121h1v1h-1zM16 36h1v1h-1zM16 121h1v1h-1zM17 32h1v1h-1zM17 101h1v5h-1zM17 120h1v1h-1zM18 22h1v1h-1zM18 85h1v1h-1zM18 107h1v1h-1zM18 109h1v1h-1zM18 139h1v1h-1zM19 16h1v1h-1zM19 84h1v1h-1zM19 87h1v2h-1zM19 97h1v1h-1zM19 140h1v1h-1zM20 0h1v5h-1zM20 83h1v1h-1zM20 133h1v2h-1zM20 136h1v3h-1zM21 86h1v8h-1zM21 99h1v2h-1zM21 125h1v3h-1zM29 20h1v2h-1zM29 114h1v1h-1zM29 117h1v4h-1zM29 130h1v5h-1zM30 27h1v1h-1zM30 106h1v1h-1zM30 112h1v1h-1zM30 119h1v1h-1zM30 121h1v1h-1zM31 38h1v1h-1zM31 109h1v1h-1zM31 112h1v1h-1zM32 43h1v1h-1zM32 89h1v1h-1zM32 103h1v1h-1zM32 111h1v1h-1zM32 119h1v1h-1zM32 121h1v1h-1z"/>
<path fill="#0a070c" d="M14 12h1v2h-1zM14 113h1v1h-1zM14 124h1v1h-1zM14 129h1v2h-1zM15 25h1v3h-1zM15 113h1v1h-1zM15 124h1v1h-1zM15 131h1v1h-1zM16 31h1v1h-1zM16 124h1v1h-1zM16 132h1v2h-1zM17 25h1v3h-1zM17 124h1v1h-1zM17 134h1v2h-1zM18 16h1v2h-1zM18 100h1v6h-1zM18 112h1v1h-1zM18 120h1v2h-1zM19 107h1v5h-1zM19 116h1v2h-1zM19 119h1v1h-1zM19 129h1v4h-1zM20 100h1v2h-1zM20 124h1v3h-1zM30 19h1v4h-1zM30 125h1v3h-1zM31 116h1v1h-1zM31 124h1v1h-1zM31 134h1v4h-1zM32 37h1v3h-1zM32 114h1v1h-1zM32 116h1v1h-1zM32 124h1v1h-1zM32 137h1v3h-1z"/>
<path fill="#0f0813" d="M14 14h1v2h-1zM14 112h1v1h-1zM14 114h1v1h-1zM14 123h1v1h-1zM14 131h1v2h-1zM15 28h1v3h-1zM15 114h1v1h-1zM15 132h1v2h-1zM16 32h1v2h-1zM16 112h1v1h-1zM16 114h1v1h-1zM16 134h1v2h-1zM17 28h1v3h-1zM17 112h1v1h-1zM17 114h1v1h-1zM17 123h1v1h-1zM17 140h1v1h-1zM18 18h1v1h-1zM18 110h1v2h-1zM18 136h1v1h-1zM19 0h1v6h-1zM19 99h1v1h-1zM19 118h1v1h-1zM19 133h1v6h-1zM20 85h1v6h-1zM20 95h1v5h-1zM20 127h1v2h-1zM21 108h1v3h-1zM29 0h1v11h-1zM30 23h1v2h-1zM30 115h1v2h-1zM30 124h1v1h-1zM30 128h1v3h-1zM31 36h1v1h-1zM31 107h1v2h-1zM31 114h1v1h-1zM31 138h1v3h-1zM32 40h1v1h-1zM32 105h1v4h-1zM32 113h1v1h-1zM32 117h1v1h-1zM32 140h1v1h-1z"/>
<path fill="#160a22" d="M14 16h1v5h-1zM14 122h1v1h-1zM14 133h1v1h-1zM15 31h1v1h-1zM15 112h1v1h-1zM15 123h1v1h-1zM15 134h1v1h-1zM16 34h1v1h-1zM16 123h1v1h-1zM17 31h1v1h-1zM17 115h1v1h-1zM17 122h1v1h-1zM18 19h1v2h-1zM18 106h1v1h-1zM19 6h1v6h-1zM20 91h1v4h-1zM20 129h1v2h-1zM21 105h1v3h-1zM21 111h1v10h-1zM29 11h1v5h-1zM29 125h1v1h-1zM30 25h1v1h-1zM30 108h1v1h-1zM30 114h1v1h-1zM30 117h1v1h-1zM30 123h1v1h-1zM30 131h1v3h-1zM31 106h1v1h-1zM31 113h1v1h-1zM31 117h1v1h-1zM31 123h1v1h-1zM32 41h1v1h-1zM32 118h1v1h-1zM32 123h1v1h-1z"/>
<path fill="#1b0933" d="M14 21h1v2h-1zM14 111h1v1h-1zM14 115h1v1h-1zM14 121h1v1h-1zM14 134h1v1h-1zM15 115h1v1h-1zM15 122h1v1h-1zM15 135h1v1h-1zM16 35h1v1h-1zM16 111h1v1h-1zM16 115h1v1h-1zM16 122h1v1h-1zM16 140h1v1h-1zM17 111h1v1h-1zM17 121h1v1h-1zM17 136h1v1h-1zM18 21h1v1h-1zM18 99h1v1h-1zM18 116h1v1h-1zM18 137h1v1h-1zM18 140h1v1h-1zM19 12h1v4h-1zM19 85h1v2h-1zM19 98h1v1h-1zM19 139h1v1h-1zM20 84h1v1h-1zM20 131h1v2h-1zM21 101h1v4h-1zM21 121h1v4h-1zM29 16h1v4h-1zM29 115h1v2h-1zM29 121h1v4h-1zM29 126h1v4h-1zM30 26h1v1h-1zM30 107h1v1h-1zM30 113h1v1h-1zM30 118h1v1h-1zM30 122h1v1h-1zM30 134h1v7h-1zM31 37h1v1h-1zM31 105h1v1h-1zM31 118h1v1h-1zM31 122h1v1h-1zM32 42h1v1h-1zM32 90h1v1h-1zM32 104h1v1h-1zM32 109h1v1h-1zM32 112h1v1h-1zM32 122h1v1h-1z"/>
</g></g>
<path stroke="#222" stroke-width="1.1" fill="none" d="M1005.4 168.0V800.5M993.9 788.0H1369.7M1369.7 168.0V800.5M1005.4 180.5H1369.7M1184.8 168.0V180.5M1184.8 800.5V788.0M993.9 696.7H1005.4M993.9 610.5H1005.4M993.9 524.3H1005.4M993.9 438.2H1005.4M993.9 352.2H1005.4M993.9 266.3H1005.4M993.9 180.5H1005.4"/>
<text transform="translate(981.4 797.5) scale(0.965 1)" text-anchor="end" font-size="30.5">0</text>
<text transform="translate(981.4 710.7) scale(0.965 1)" text-anchor="end" font-size="30.5">20</text>
<text transform="translate(981.4 623.9) scale(0.965 1)" text-anchor="end" font-size="30.5">40</text>
<text transform="translate(981.4 537.1) scale(0.965 1)" text-anchor="end" font-size="30.5">60</text>
<text transform="translate(981.4 450.3) scale(0.965 1)" text-anchor="end" font-size="30.5">80</text>
<text transform="translate(981.4 363.5) scale(0.965 1)" text-anchor="end" font-size="30.5">100</text>
<text transform="translate(981.4 276.7) scale(0.965 1)" text-anchor="end" font-size="30.5">120</text>
<text transform="translate(981.4 189.9) scale(0.965 1)" text-anchor="end" font-size="30.5">140</text>
<text transform="translate(1005.4 156.8) scale(0.965 1)" text-anchor="middle" font-size="30.5">0</text>
<text transform="translate(1184.8 156.8) scale(0.965 1)" text-anchor="middle" font-size="30.5">2.13</text>
<text transform="translate(1369.7 156.8) scale(0.965 1)" text-anchor="middle" font-size="30.5">4.26</text>
<text transform="translate(1006.3 834.9)" text-anchor="middle" font-size="32.5" font-family="'Liberation Serif', 'Times New Roman', serif">Γ</text>
<text transform="translate(1185.3 836.7)" text-anchor="middle" font-size="30">M</text>
<text transform="translate(1370.7 834.9)" text-anchor="middle" font-size="32.5" font-family="'Liberation Serif', 'Times New Roman', serif">Γ′</text>
<text transform="translate(1186.8 103.6) scale(0.95 1)" text-anchor="middle" font-size="29.5"><tspan font-style="italic">q</tspan> (Å<tspan dy="-12" font-size="20.5">−1</tspan><tspan dy="12">)</tspan></text>
<text transform="translate(892.3 94.5)" font-size="33" font-weight="bold" stroke="#111" stroke-width="1.1" stroke-linejoin="round">b</text>
<text transform="translate(915.4 483.1) rotate(-90) scale(0.966 1)" text-anchor="middle" font-size="29.5">Energy loss (meV)</text>
<linearGradient id="gb" x1="0" y1="1" x2="0" y2="0"><stop offset="0.000" stop-color="#050505"/><stop offset="0.016" stop-color="#09070b"/><stop offset="0.039" stop-color="#150a25"/><stop offset="0.062" stop-color="#200840"/><stop offset="0.098" stop-color="#2c1060"/><stop offset="0.126" stop-color="#361a74"/><stop offset="0.145" stop-color="#30207a"/><stop offset="0.168" stop-color="#262e78"/><stop offset="0.192" stop-color="#123668"/><stop offset="0.215" stop-color="#0c3a58"/><stop offset="0.239" stop-color="#07404a"/><stop offset="0.271" stop-color="#064a40"/><stop offset="0.307" stop-color="#06552e"/><stop offset="0.337" stop-color="#10601c"/><stop offset="0.373" stop-color="#14700f"/><stop offset="0.410" stop-color="#1f760c"/><stop offset="0.440" stop-color="#3a7c0a"/><stop offset="0.476" stop-color="#687e0c"/><stop offset="0.506" stop-color="#8a7c0e"/><stop offset="0.536" stop-color="#b87810"/><stop offset="0.566" stop-color="#df7015"/><stop offset="0.600" stop-color="#ec7040"/><stop offset="0.627" stop-color="#f27060"/><stop offset="0.657" stop-color="#f57a85"/><stop offset="0.687" stop-color="#f585a8"/><stop offset="0.717" stop-color="#e98cc0"/><stop offset="0.747" stop-color="#dc92d3"/><stop offset="0.783" stop-color="#d8b0e6"/><stop offset="0.820" stop-color="#d9c2ec"/><stop offset="0.880" stop-color="#e4daf3"/><stop offset="0.940" stop-color="#f0ecf9"/><stop offset="1.000" stop-color="#ffffff"/></linearGradient>
<rect x="1415.2" y="180.5" width="33.8" height="612.1" fill="url(#gb)"/>
<text transform="translate(1458.7 194.6) scale(0.9 1)" font-size="30.5">−10</text>
<text transform="translate(1458.7 795.8) scale(0.9 1)" font-size="30.5">−14</text>
<text transform="translate(1490.5 489.1) rotate(-90) scale(0.985 1)" text-anchor="middle" font-size="29.5">log<tspan dy="8.5" font-size="19.5">10</tspan><tspan dy="-8.5">(intensity)</tspan></text>
<clipPath id="hc4"><rect x="1005.3" y="1009.0" width="364.50" height="607.10"/></clipPath>
<g clip-path="url(#hc4)"><rect x="1005.3" y="1009.0" width="364.50" height="607.10" fill="#050505"/><g transform="translate(1000.24 1009.00) scale(11.3600 4.3364)" shape-rendering="crispEdges">
<path fill="#2d2378" d="M0 0h1v11h-1zM14 15h1v2h-1zM15 20h1v3h-1zM16 25h1v1h-1zM17 20h1v2h-1zM18 13h1v3h-1zM28 118h1v2h-1zM28 121h1v2h-1zM28 125h1v2h-1zM29 18h1v1h-1zM29 101h1v3h-1zM29 109h1v1h-1zM29 112h1v1h-1zM29 120h1v1h-1zM29 129h1v2h-1zM30 28h1v1h-1zM30 110h1v1h-1zM30 120h1v1h-1zM31 36h1v1h-1zM31 100h1v1h-1zM31 120h1v1h-1zM32 40h1v1h-1zM32 88h1v1h-1zM32 92h1v1h-1z"/>
<path fill="#272876" d="M0 11h1v6h-1zM13 0h1v2h-1zM14 17h1v2h-1zM14 123h1v1h-1zM15 23h1v3h-1zM15 125h1v1h-1zM16 26h1v1h-1zM16 125h1v1h-1zM17 22h1v1h-1zM18 16h1v1h-1zM19 0h1v7h-1zM28 0h1v7h-1zM28 115h1v3h-1zM28 120h1v1h-1zM28 127h1v1h-1zM29 19h1v2h-1zM29 110h1v2h-1zM29 131h1v3h-1zM30 29h1v1h-1zM30 100h1v1h-1zM31 37h1v1h-1zM32 41h1v1h-1zM32 93h1v1h-1z"/>
<path fill="#222c74" d="M0 17h1v4h-1zM1 0h1v4h-1zM13 2h1v7h-1zM14 19h1v2h-1zM14 124h1v2h-1zM15 123h1v2h-1zM15 126h1v1h-1zM16 27h1v1h-1zM16 124h1v1h-1zM16 126h1v1h-1zM17 23h1v2h-1zM17 124h1v2h-1zM18 17h1v2h-1zM18 123h1v1h-1zM19 7h1v5h-1zM28 7h1v5h-1zM28 104h1v5h-1zM28 113h1v2h-1zM28 128h1v1h-1zM29 21h1v1h-1zM29 134h1v5h-1zM30 30h1v2h-1zM31 38h1v1h-1zM32 42h1v1h-1zM32 87h1v1h-1zM32 98h1v2h-1z"/>
<path fill="#1a306e" d="M0 21h1v1h-1zM1 4h1v11h-1zM13 9h1v6h-1zM13 123h1v2h-1zM14 21h1v1h-1zM14 122h1v1h-1zM14 126h1v1h-1zM15 26h1v1h-1zM15 127h1v1h-1zM16 123h1v1h-1zM16 127h1v1h-1zM17 25h1v1h-1zM17 123h1v1h-1zM17 126h1v1h-1zM18 19h1v1h-1zM18 122h1v1h-1zM18 124h1v1h-1zM19 12h1v2h-1zM19 123h1v1h-1zM27 121h1v5h-1zM28 12h1v3h-1zM28 102h1v2h-1zM28 109h1v1h-1zM28 111h1v2h-1zM28 129h1v1h-1zM29 22h1v1h-1zM29 100h1v1h-1zM29 139h1v1h-1zM30 32h1v2h-1zM31 39h1v1h-1zM31 90h1v1h-1zM31 97h1v3h-1zM32 43h1v1h-1zM32 86h1v1h-1zM32 97h1v1h-1z"/>
<path fill="#123468" d="M0 22h1v2h-1zM1 15h1v3h-1zM12 125h1v1h-1zM13 15h1v2h-1zM13 122h1v1h-1zM13 125h1v2h-1zM14 22h1v2h-1zM14 127h1v2h-1zM15 122h1v1h-1zM15 128h1v2h-1zM16 28h1v1h-1zM16 122h1v1h-1zM16 128h1v2h-1zM17 122h1v1h-1zM17 127h1v2h-1zM18 20h1v1h-1zM18 125h1v2h-1zM19 14h1v2h-1zM19 122h1v1h-1zM19 124h1v2h-1zM20 110h1v2h-1zM27 115h1v6h-1zM27 126h1v2h-1zM28 15h1v1h-1zM28 101h1v1h-1zM28 110h1v1h-1zM28 130h1v2h-1zM29 23h1v1h-1zM30 34h1v2h-1zM30 97h1v3h-1zM31 40h1v1h-1zM31 91h1v1h-1zM32 85h1v1h-1z"/>
<path fill="#0f3662" d="M0 24h1v1h-1zM1 18h1v3h-1zM12 123h1v2h-1zM12 126h1v1h-1zM13 17h1v1h-1zM13 121h1v1h-1zM13 127h1v1h-1zM14 24h1v1h-1zM14 121h1v1h-1zM14 129h1v1h-1zM15 130h1v1h-1zM16 29h1v1h-1zM16 130h1v1h-1zM17 26h1v1h-1zM17 121h1v1h-1zM17 129h1v1h-1zM18 21h1v1h-1zM18 121h1v1h-1zM18 127h1v1h-1zM19 121h1v1h-1zM19 126h1v1h-1zM20 109h1v1h-1zM20 112h1v2h-1zM20 122h1v2h-1zM21 110h1v1h-1zM27 104h1v11h-1zM27 128h1v1h-1zM28 16h1v1h-1zM28 100h1v1h-1zM28 132h1v2h-1zM29 24h1v1h-1zM29 99h1v1h-1zM31 41h1v1h-1zM31 89h1v1h-1zM31 92h1v1h-1zM32 44h1v1h-1zM32 84h1v1h-1z"/>
<path fill="#0d395c" d="M0 25h1v1h-1zM1 21h1v1h-1zM2 0h1v4h-1zM12 121h1v2h-1zM12 127h1v1h-1zM13 18h1v1h-1zM13 128h1v2h-1zM14 25h1v1h-1zM14 130h1v2h-1zM15 27h1v1h-1zM15 121h1v1h-1zM15 131h1v2h-1zM16 121h1v1h-1zM16 131h1v2h-1zM17 130h1v1h-1zM18 22h1v1h-1zM18 120h1v1h-1zM18 128h1v2h-1zM19 16h1v1h-1zM19 110h1v2h-1zM19 120h1v1h-1zM19 127h1v1h-1zM20 0h1v9h-1zM20 114h1v2h-1zM20 120h1v2h-1zM20 124h1v2h-1zM21 109h1v1h-1zM21 111h1v4h-1zM27 100h1v4h-1zM27 129h1v1h-1zM28 17h1v1h-1zM28 99h1v1h-1zM28 134h1v5h-1zM29 25h1v1h-1zM29 97h1v2h-1zM30 36h1v1h-1zM31 42h1v1h-1zM31 93h1v1h-1zM32 45h1v1h-1zM32 82h1v2h-1zM32 94h1v1h-1zM32 96h1v1h-1z"/>
<path fill="#0b3c56" d="M0 26h1v1h-1zM1 22h1v1h-1zM2 4h1v11h-1zM12 120h1v1h-1zM12 128h1v1h-1zM13 19h1v1h-1zM13 120h1v1h-1zM13 130h1v2h-1zM14 132h1v2h-1zM15 133h1v1h-1zM16 30h1v1h-1zM16 133h1v1h-1zM17 27h1v1h-1zM17 120h1v1h-1zM17 131h1v2h-1zM18 23h1v1h-1zM18 130h1v1h-1zM19 17h1v1h-1zM19 101h1v4h-1zM19 112h1v3h-1zM19 128h1v1h-1zM20 9h1v3h-1zM20 101h1v6h-1zM20 126h1v1h-1zM21 115h1v10h-1zM26 107h1v8h-1zM26 117h1v10h-1zM27 0h1v10h-1zM27 98h1v2h-1zM27 130h1v2h-1zM28 18h1v1h-1zM28 97h1v2h-1zM28 139h1v1h-1zM29 26h1v1h-1zM30 37h1v1h-1zM31 43h1v1h-1zM31 88h1v1h-1zM31 96h1v1h-1zM32 46h1v1h-1zM32 81h1v1h-1z"/>
<path fill="#093e4f" d="M0 27h1v1h-1zM1 23h1v1h-1zM2 15h1v2h-1zM11 109h1v18h-1zM12 0h1v16h-1zM12 101h1v5h-1zM12 110h1v6h-1zM12 129h1v2h-1zM13 20h1v1h-1zM13 101h1v1h-1zM13 110h1v1h-1zM13 132h1v2h-1zM14 101h1v1h-1zM14 120h1v1h-1zM14 134h1v2h-1zM15 28h1v1h-1zM15 120h1v1h-1zM15 134h1v2h-1zM16 31h1v1h-1zM16 120h1v1h-1zM16 134h1v2h-1zM17 101h1v1h-1zM17 133h1v1h-1zM18 101h1v3h-1zM18 110h1v3h-1zM18 131h1v2h-1zM19 18h1v1h-1zM19 100h1v1h-1zM19 105h1v2h-1zM19 109h1v1h-1zM19 115h1v1h-1zM19 129h1v2h-1zM20 12h1v2h-1zM20 99h1v2h-1zM20 116h1v1h-1zM20 119h1v1h-1zM20 127h1v2h-1zM21 99h1v10h-1zM21 125h1v2h-1zM22 99h1v22h-1zM25 99h1v12h-1zM26 98h1v9h-1zM26 115h1v2h-1zM26 127h1v1h-1zM27 10h1v2h-1zM27 97h1v1h-1zM27 132h1v2h-1zM28 19h1v1h-1zM30 38h1v1h-1zM30 90h1v4h-1zM30 96h1v1h-1zM31 44h1v1h-1zM31 87h1v1h-1zM32 79h1v2h-1z"/>
<path fill="#074149" d="M0 28h1v1h-1zM0 123h1v1h-1zM1 24h1v1h-1zM2 17h1v2h-1zM11 101h1v8h-1zM11 127h1v1h-1zM12 100h1v1h-1zM12 106h1v1h-1zM12 109h1v1h-1zM12 116h1v1h-1zM12 119h1v1h-1zM12 131h1v1h-1zM13 21h1v1h-1zM13 102h1v4h-1zM13 111h1v5h-1zM13 134h1v2h-1zM14 26h1v1h-1zM14 102h1v1h-1zM14 110h1v1h-1zM14 136h1v2h-1zM15 101h1v1h-1zM15 136h1v1h-1zM16 32h1v1h-1zM16 101h1v1h-1zM16 136h1v1h-1zM17 28h1v1h-1zM17 102h1v1h-1zM17 110h1v1h-1zM17 134h1v2h-1zM18 24h1v1h-1zM18 100h1v1h-1zM18 104h1v2h-1zM18 113h1v3h-1zM18 133h1v1h-1zM19 19h1v1h-1zM19 99h1v1h-1zM19 119h1v1h-1zM19 131h1v1h-1zM20 14h1v2h-1zM20 129h1v1h-1zM21 127h1v1h-1zM22 98h1v1h-1zM22 121h1v3h-1zM23 99h1v13h-1zM24 99h1v13h-1zM25 98h1v1h-1zM25 111h1v13h-1zM26 96h1v2h-1zM26 128h1v2h-1zM27 12h1v1h-1zM27 95h1v2h-1zM27 134h1v3h-1zM28 20h1v1h-1zM28 96h1v1h-1zM29 27h1v1h-1zM29 93h1v1h-1zM29 96h1v1h-1zM30 89h1v1h-1zM31 45h1v1h-1zM32 47h1v1h-1zM32 78h1v1h-1z"/>
<path fill="#074446" d="M0 29h1v1h-1zM0 124h1v1h-1zM1 25h1v1h-1zM2 19h1v2h-1zM3 0h1v4h-1zM10 107h1v19h-1zM11 99h1v2h-1zM11 128h1v2h-1zM12 16h1v1h-1zM12 99h1v1h-1zM12 132h1v2h-1zM13 22h1v1h-1zM13 100h1v1h-1zM13 136h1v2h-1zM14 100h1v1h-1zM14 103h1v2h-1zM14 111h1v4h-1zM14 138h1v2h-1zM15 29h1v1h-1zM15 100h1v1h-1zM15 102h1v2h-1zM15 110h1v2h-1zM15 137h1v2h-1zM16 100h1v1h-1zM16 102h1v2h-1zM16 110h1v2h-1zM16 137h1v1h-1zM17 29h1v1h-1zM17 100h1v1h-1zM17 103h1v2h-1zM17 111h1v4h-1zM17 136h1v1h-1zM18 25h1v1h-1zM18 99h1v1h-1zM18 134h1v1h-1zM19 20h1v1h-1zM19 116h1v1h-1zM19 132h1v1h-1zM20 130h1v1h-1zM21 98h1v1h-1zM21 128h1v1h-1zM22 97h1v1h-1zM22 124h1v2h-1zM23 97h1v2h-1zM23 112h1v10h-1zM24 97h1v2h-1zM24 112h1v10h-1zM25 96h1v2h-1zM25 124h1v3h-1zM26 95h1v1h-1zM26 130h1v2h-1zM27 13h1v2h-1zM27 94h1v1h-1zM27 137h1v3h-1zM28 21h1v1h-1zM28 93h1v1h-1zM29 28h1v1h-1zM29 92h1v1h-1zM30 39h1v1h-1zM31 46h1v1h-1zM31 86h1v1h-1zM31 94h1v1h-1zM32 48h1v1h-1zM32 76h1v2h-1z"/>
<path fill="#064b3e" d="M0 30h1v1h-1zM0 116h1v2h-1zM0 130h1v2h-1zM1 124h1v2h-1zM2 22h1v1h-1zM2 115h1v3h-1zM2 123h1v3h-1zM3 10h1v3h-1zM8 93h1v1h-1zM8 101h1v9h-1zM8 115h1v6h-1zM9 91h1v2h-1zM9 95h1v26h-1zM9 125h1v1h-1zM10 88h1v3h-1zM10 128h1v1h-1zM11 0h1v11h-1zM11 93h1v5h-1zM11 132h1v1h-1zM12 18h1v1h-1zM12 107h1v2h-1zM12 117h1v2h-1zM12 135h1v3h-1zM13 116h1v1h-1zM14 27h1v1h-1zM14 99h1v1h-1zM14 106h1v1h-1zM14 109h1v1h-1zM14 119h1v1h-1zM15 30h1v1h-1zM15 99h1v1h-1zM15 105h1v1h-1zM15 115h1v1h-1zM16 34h1v1h-1zM16 99h1v1h-1zM16 105h1v1h-1zM16 115h1v1h-1zM16 139h1v1h-1zM17 30h1v1h-1zM17 106h1v1h-1zM17 109h1v1h-1zM17 119h1v1h-1zM17 138h1v2h-1zM18 26h1v1h-1zM18 116h1v1h-1zM18 137h1v1h-1zM19 21h1v1h-1zM19 134h1v2h-1zM20 17h1v1h-1zM20 98h1v1h-1zM20 107h1v1h-1zM20 132h1v2h-1zM21 10h1v2h-1zM21 95h1v3h-1zM21 130h1v2h-1zM22 95h1v1h-1zM22 128h1v1h-1zM23 95h1v1h-1zM23 125h1v2h-1zM24 95h1v1h-1zM24 125h1v2h-1zM25 94h1v1h-1zM25 129h1v2h-1zM26 5h1v3h-1zM26 93h1v1h-1zM26 134h1v2h-1zM27 16h1v1h-1zM27 92h1v1h-1zM28 22h1v1h-1zM28 92h1v1h-1zM28 94h1v1h-1zM29 29h1v1h-1zM29 90h1v1h-1zM29 94h1v1h-1zM30 41h1v2h-1zM30 87h1v1h-1zM31 47h1v1h-1zM31 84h1v2h-1zM32 50h1v1h-1zM32 73h1v1h-1zM32 95h1v1h-1z"/>
<path fill="#064f38" d="M0 31h1v1h-1zM0 115h1v1h-1zM0 118h1v1h-1zM0 122h1v1h-1zM0 132h1v1h-1zM1 27h1v1h-1zM1 115h1v3h-1zM1 126h1v5h-1zM2 23h1v1h-1zM2 114h1v1h-1zM2 118h1v1h-1zM2 126h1v2h-1zM3 13h1v3h-1zM3 115h1v4h-1zM3 123h1v1h-1zM7 110h1v2h-1zM8 94h1v4h-1zM8 100h1v1h-1zM8 110h1v5h-1zM8 121h1v1h-1zM8 125h1v1h-1zM9 90h1v1h-1zM9 121h1v4h-1zM9 126h1v1h-1zM10 87h1v1h-1zM10 129h1v2h-1zM11 11h1v3h-1zM11 92h1v1h-1zM11 133h1v2h-1zM12 19h1v1h-1zM12 138h1v2h-1zM13 24h1v1h-1zM15 109h1v1h-1zM16 35h1v1h-1zM16 109h1v1h-1zM18 138h1v2h-1zM19 136h1v2h-1zM20 134h1v1h-1zM21 12h1v1h-1zM21 132h1v1h-1zM22 94h1v1h-1zM22 129h1v2h-1zM23 94h1v1h-1zM23 127h1v2h-1zM24 94h1v1h-1zM24 127h1v2h-1zM25 93h1v1h-1zM25 131h1v2h-1zM26 8h1v3h-1zM26 92h1v1h-1zM26 136h1v4h-1zM27 17h1v1h-1zM28 23h1v1h-1zM28 91h1v1h-1zM28 95h1v1h-1zM29 30h1v1h-1zM29 89h1v1h-1zM30 43h1v1h-1zM30 86h1v1h-1zM31 48h1v1h-1zM31 83h1v1h-1zM31 95h1v1h-1zM32 51h1v1h-1zM32 71h1v2h-1z"/>
<path fill="#065332" d="M0 32h1v2h-1zM0 105h1v3h-1zM0 133h1v2h-1zM1 28h1v1h-1zM1 118h1v1h-1zM1 122h1v1h-1zM1 131h1v2h-1zM2 24h1v1h-1zM2 105h1v4h-1zM2 113h1v1h-1zM2 122h1v1h-1zM2 128h1v2h-1zM3 16h1v2h-1zM3 113h1v2h-1zM3 119h1v1h-1zM3 121h1v2h-1zM3 124h1v3h-1zM4 112h1v10h-1zM5 110h1v4h-1zM6 110h1v4h-1zM7 101h1v6h-1zM7 109h1v1h-1zM7 112h1v9h-1zM8 92h1v1h-1zM8 98h1v2h-1zM8 122h1v1h-1zM8 124h1v1h-1zM8 126h1v1h-1zM9 88h1v2h-1zM9 127h1v2h-1zM10 131h1v1h-1zM11 14h1v2h-1zM11 88h1v1h-1zM11 135h1v2h-1zM12 20h1v1h-1zM12 98h1v1h-1zM13 25h1v1h-1zM14 116h1v1h-1zM15 31h1v1h-1zM15 106h1v1h-1zM15 119h1v1h-1zM16 36h1v2h-1zM16 106h1v1h-1zM16 119h1v1h-1zM17 31h1v1h-1zM17 116h1v1h-1zM19 22h1v1h-1zM19 98h1v1h-1zM19 138h1v2h-1zM20 18h1v1h-1zM20 135h1v2h-1zM21 13h1v1h-1zM21 94h1v1h-1zM21 133h1v2h-1zM22 0h1v9h-1zM22 131h1v2h-1zM23 93h1v1h-1zM23 129h1v3h-1zM24 93h1v1h-1zM24 129h1v3h-1zM25 0h1v7h-1zM25 92h1v1h-1zM25 133h1v2h-1zM26 11h1v2h-1zM27 18h1v1h-1zM27 91h1v1h-1zM28 24h1v1h-1zM29 31h1v2h-1zM29 88h1v1h-1zM29 95h1v1h-1zM30 44h1v1h-1zM30 95h1v1h-1zM31 49h1v1h-1zM31 81h1v2h-1zM32 52h1v1h-1zM32 69h1v2h-1z"/>
<path fill="#08572b" d="M0 34h1v1h-1zM0 108h1v1h-1zM0 114h1v1h-1zM0 135h1v2h-1zM1 29h1v1h-1zM1 105h1v3h-1zM1 114h1v1h-1zM1 133h1v1h-1zM2 104h1v1h-1zM2 109h1v1h-1zM2 112h1v1h-1zM2 119h1v1h-1zM2 130h1v1h-1zM3 18h1v1h-1zM3 105h1v5h-1zM3 111h1v2h-1zM3 120h1v1h-1zM3 127h1v2h-1zM4 0h1v5h-1zM4 104h1v8h-1zM4 122h1v5h-1zM5 104h1v2h-1zM5 109h1v1h-1zM5 114h1v8h-1zM6 102h1v4h-1zM6 109h1v1h-1zM6 114h1v7h-1zM7 93h1v2h-1zM7 100h1v1h-1zM7 107h1v2h-1zM7 121h1v1h-1zM7 125h1v1h-1zM8 91h1v1h-1zM8 123h1v1h-1zM8 127h1v1h-1zM9 87h1v1h-1zM9 129h1v1h-1zM10 86h1v1h-1zM10 132h1v1h-1zM11 16h1v1h-1zM11 87h1v1h-1zM11 89h1v1h-1zM11 91h1v1h-1zM11 137h1v3h-1zM14 28h1v1h-1zM15 32h1v1h-1zM16 38h1v1h-1zM17 32h1v1h-1zM18 27h1v1h-1zM19 23h1v1h-1zM20 19h1v1h-1zM20 85h1v3h-1zM20 97h1v1h-1zM20 137h1v3h-1zM21 14h1v1h-1zM21 135h1v3h-1zM22 9h1v2h-1zM22 93h1v1h-1zM22 133h1v2h-1zM23 84h1v5h-1zM23 92h1v1h-1zM23 132h1v2h-1zM24 0h1v5h-1zM24 84h1v6h-1zM24 91h1v2h-1zM24 132h1v2h-1zM25 7h1v3h-1zM25 86h1v4h-1zM25 91h1v1h-1zM25 135h1v5h-1zM26 13h1v1h-1zM26 91h1v1h-1zM27 19h1v1h-1zM28 89h1v2h-1zM29 33h1v2h-1zM29 87h1v1h-1zM30 45h1v1h-1zM30 84h1v2h-1zM31 74h1v7h-1zM32 53h1v1h-1zM32 67h1v2h-1z"/>
<path fill="#0c5c23" d="M0 35h1v1h-1zM0 104h1v1h-1zM0 119h1v1h-1zM0 137h1v1h-1zM1 30h1v1h-1zM1 108h1v1h-1zM1 113h1v1h-1zM1 119h1v1h-1zM1 134h1v2h-1zM2 25h1v1h-1zM2 111h1v1h-1zM2 121h1v1h-1zM2 131h1v2h-1zM3 19h1v2h-1zM3 104h1v1h-1zM3 110h1v1h-1zM3 129h1v2h-1zM4 5h1v6h-1zM4 103h1v1h-1zM4 127h1v1h-1zM5 0h1v1h-1zM5 101h1v3h-1zM5 106h1v3h-1zM5 122h1v5h-1zM6 101h1v1h-1zM6 106h1v3h-1zM6 121h1v2h-1zM6 124h1v3h-1zM7 92h1v1h-1zM7 95h1v5h-1zM7 122h1v1h-1zM7 124h1v1h-1zM7 126h1v2h-1zM8 88h1v3h-1zM8 128h1v2h-1zM9 85h1v2h-1zM9 130h1v2h-1zM10 0h1v11h-1zM10 85h1v1h-1zM10 133h1v2h-1zM11 85h1v2h-1zM11 90h1v1h-1zM12 21h1v1h-1zM12 95h1v1h-1zM13 98h1v1h-1zM15 33h1v1h-1zM15 116h1v1h-1zM16 39h1v2h-1zM16 116h1v1h-1zM17 33h1v1h-1zM18 98h1v1h-1zM19 85h1v1h-1zM20 20h1v1h-1zM20 84h1v1h-1zM20 88h1v1h-1zM20 95h1v1h-1zM21 15h1v1h-1zM21 85h1v1h-1zM21 93h1v1h-1zM21 138h1v2h-1zM22 11h1v1h-1zM22 84h1v6h-1zM22 91h1v2h-1zM22 135h1v3h-1zM23 0h1v11h-1zM23 83h1v1h-1zM23 89h1v3h-1zM23 134h1v2h-1zM24 5h1v3h-1zM24 83h1v1h-1zM24 90h1v1h-1zM24 134h1v2h-1zM25 10h1v2h-1zM25 84h1v2h-1zM25 90h1v1h-1zM26 14h1v2h-1zM26 87h1v4h-1zM27 20h1v1h-1zM27 88h1v3h-1zM28 25h1v1h-1zM28 88h1v1h-1zM29 35h1v2h-1zM29 86h1v1h-1zM30 46h1v1h-1zM30 83h1v1h-1zM31 50h1v2h-1zM31 73h1v1h-1zM32 54h1v2h-1zM32 65h1v2h-1z"/>
<path fill="#116617" d="M0 36h1v1h-1zM0 112h1v1h-1zM0 121h1v1h-1zM1 31h1v1h-1zM1 103h1v1h-1zM1 112h1v1h-1zM1 121h1v1h-1zM1 137h1v2h-1zM2 27h1v1h-1zM2 102h1v1h-1zM2 120h1v1h-1zM2 134h1v1h-1zM3 21h1v1h-1zM3 102h1v1h-1zM3 132h1v1h-1zM4 14h1v2h-1zM4 130h1v1h-1zM5 7h1v5h-1zM5 100h1v1h-1zM5 128h1v2h-1zM6 92h1v1h-1zM6 94h1v6h-1zM6 128h1v2h-1zM7 87h1v4h-1zM7 129h1v1h-1zM8 0h1v4h-1zM8 83h1v2h-1zM8 131h1v1h-1zM9 0h1v4h-1zM9 83h1v1h-1zM9 133h1v1h-1zM10 14h1v2h-1zM10 83h1v1h-1zM10 137h1v3h-1zM11 18h1v1h-1zM11 84h1v1h-1zM12 22h1v1h-1zM12 84h1v1h-1zM12 93h1v1h-1zM12 97h1v1h-1zM13 85h1v2h-1zM13 107h1v2h-1zM13 118h1v1h-1zM14 29h1v1h-1zM14 98h1v1h-1zM15 34h1v1h-1zM15 98h1v1h-1zM16 42h1v1h-1zM17 34h1v1h-1zM17 85h1v1h-1zM18 86h1v2h-1zM19 84h1v1h-1zM20 21h1v1h-1zM20 83h1v1h-1zM20 89h1v1h-1zM20 93h1v1h-1zM21 17h1v1h-1zM21 84h1v1h-1zM21 89h1v1h-1zM22 13h1v1h-1zM22 81h1v2h-1zM23 12h1v1h-1zM23 79h1v2h-1zM23 139h1v1h-1zM24 11h1v1h-1zM24 79h1v2h-1zM25 13h1v1h-1zM25 81h1v2h-1zM26 17h1v1h-1zM26 83h1v2h-1zM27 21h1v1h-1zM27 86h1v1h-1zM28 27h1v1h-1zM28 86h1v1h-1zM29 38h1v1h-1zM29 83h1v2h-1zM30 48h1v1h-1zM30 74h1v7h-1zM31 53h1v1h-1zM31 67h1v4h-1z"/>
<path fill="#136b13" d="M0 37h1v1h-1zM0 103h1v1h-1zM1 32h1v1h-1zM1 139h1v1h-1zM2 28h1v1h-1zM2 135h1v2h-1zM3 22h1v1h-1zM3 101h1v1h-1zM3 133h1v1h-1zM4 16h1v1h-1zM4 100h1v1h-1zM4 131h1v1h-1zM5 12h1v3h-1zM5 92h1v2h-1zM5 130h1v1h-1zM6 0h1v10h-1zM6 91h1v1h-1zM6 130h1v1h-1zM7 0h1v5h-1zM7 84h1v3h-1zM7 130h1v2h-1zM8 4h1v8h-1zM8 82h1v1h-1zM8 132h1v1h-1zM9 4h1v6h-1zM9 82h1v1h-1zM9 134h1v1h-1zM10 16h1v1h-1zM10 82h1v1h-1zM11 19h1v1h-1zM11 83h1v1h-1zM12 23h1v1h-1zM12 92h1v1h-1zM12 96h1v1h-1zM13 84h1v1h-1zM13 87h1v2h-1zM13 117h1v1h-1zM14 85h1v2h-1zM15 35h1v3h-1zM16 43h1v1h-1zM16 85h1v1h-1zM16 98h1v1h-1zM17 35h1v3h-1zM17 86h1v1h-1zM18 84h1v1h-1zM18 88h1v1h-1zM18 107h1v2h-1zM18 118h1v1h-1zM19 25h1v1h-1zM19 83h1v1h-1zM19 97h1v1h-1zM20 82h1v1h-1zM20 91h1v2h-1zM21 18h1v1h-1zM21 83h1v1h-1zM21 91h1v1h-1zM22 14h1v1h-1zM22 79h1v2h-1zM23 13h1v1h-1zM23 76h1v3h-1zM24 12h1v1h-1zM24 76h1v3h-1zM25 14h1v1h-1zM25 78h1v3h-1zM26 18h1v1h-1zM26 82h1v1h-1zM27 22h1v1h-1zM27 84h1v2h-1zM28 28h1v1h-1zM28 84h1v2h-1zM29 39h1v1h-1zM29 82h1v1h-1zM30 49h1v1h-1zM30 72h1v2h-1zM31 54h1v1h-1zM31 61h1v6h-1z"/>
<path fill="#18720e" d="M0 38h1v1h-1zM0 102h1v1h-1zM1 34h1v1h-1zM1 110h1v1h-1zM1 120h1v1h-1zM2 29h1v1h-1zM2 90h1v2h-1zM2 139h1v1h-1zM3 24h1v1h-1zM3 90h1v4h-1zM3 136h1v2h-1zM4 19h1v1h-1zM4 88h1v2h-1zM4 99h1v1h-1zM4 134h1v1h-1zM5 16h1v1h-1zM5 87h1v1h-1zM5 133h1v1h-1zM6 13h1v3h-1zM6 85h1v2h-1zM6 133h1v1h-1zM7 12h1v2h-1zM7 80h1v2h-1zM7 133h1v2h-1zM8 14h1v2h-1zM8 77h1v3h-1zM8 135h1v2h-1zM9 13h1v3h-1zM9 74h1v6h-1zM10 17h1v1h-1zM10 80h1v1h-1zM11 81h1v1h-1zM12 24h1v1h-1zM12 82h1v1h-1zM12 91h1v1h-1zM13 83h1v1h-1zM13 93h1v2h-1zM14 83h1v1h-1zM14 117h1v1h-1zM15 41h1v1h-1zM15 84h1v1h-1zM15 87h1v2h-1zM16 45h1v1h-1zM16 88h1v1h-1zM17 41h1v1h-1zM17 83h1v1h-1zM18 89h1v1h-1zM19 26h1v1h-1zM19 82h1v1h-1zM19 91h1v2h-1zM19 96h1v1h-1zM20 81h1v1h-1zM21 20h1v1h-1zM21 81h1v1h-1zM22 17h1v1h-1zM22 74h1v3h-1zM23 15h1v1h-1zM23 70h1v3h-1zM24 15h1v1h-1zM24 70h1v3h-1zM25 17h1v1h-1zM25 73h1v2h-1zM26 20h1v1h-1zM26 77h1v3h-1zM27 23h1v1h-1zM27 81h1v2h-1zM28 29h1v1h-1zM28 81h1v2h-1zM29 42h1v1h-1zM29 72h1v3h-1zM30 51h1v1h-1zM30 64h1v6h-1z"/>
<path fill="#1c740d" d="M0 39h1v1h-1zM0 90h1v2h-1zM0 110h1v1h-1zM0 120h1v1h-1zM1 35h1v1h-1zM1 90h1v4h-1zM1 101h1v1h-1zM2 30h1v1h-1zM2 89h1v1h-1zM2 92h1v2h-1zM3 25h1v1h-1zM3 88h1v2h-1zM3 99h1v1h-1zM3 138h1v2h-1zM4 20h1v1h-1zM4 97h1v2h-1zM4 135h1v2h-1zM5 17h1v1h-1zM5 134h1v1h-1zM6 16h1v1h-1zM6 81h1v4h-1zM6 134h1v1h-1zM7 14h1v2h-1zM7 76h1v4h-1zM7 135h1v4h-1zM8 74h1v3h-1zM8 137h1v3h-1zM9 16h1v1h-1zM9 70h1v4h-1zM10 18h1v1h-1zM10 76h1v4h-1zM11 21h1v1h-1zM11 80h1v1h-1zM12 81h1v1h-1zM12 90h1v1h-1zM13 82h1v1h-1zM13 89h1v1h-1zM13 96h1v1h-1zM14 31h1v1h-1zM14 94h1v2h-1zM15 42h1v2h-1zM15 83h1v1h-1zM16 46h1v4h-1zM16 83h1v1h-1zM16 108h1v1h-1zM17 42h1v2h-1zM18 30h1v1h-1zM18 82h1v1h-1zM18 93h1v3h-1zM19 81h1v1h-1zM19 90h1v1h-1zM20 23h1v1h-1zM20 79h1v2h-1zM21 77h1v4h-1zM22 18h1v1h-1zM22 70h1v4h-1zM23 16h1v1h-1zM23 68h1v2h-1zM24 16h1v1h-1zM24 69h1v1h-1zM25 18h1v1h-1zM25 71h1v2h-1zM26 75h1v2h-1zM27 24h1v1h-1zM27 77h1v4h-1zM28 30h1v2h-1zM28 74h1v7h-1zM29 43h1v2h-1zM29 67h1v5h-1zM30 52h1v2h-1zM30 59h1v5h-1z"/>
<path fill="#2c790b" d="M0 40h1v1h-1zM0 88h1v1h-1zM0 101h1v1h-1zM1 36h1v1h-1zM1 88h1v1h-1zM2 32h1v1h-1zM4 22h1v1h-1zM5 19h1v1h-1zM5 83h1v3h-1zM6 17h1v1h-1zM6 75h1v3h-1zM7 73h1v1h-1zM8 17h1v1h-1zM8 70h1v1h-1zM9 17h1v1h-1zM9 68h1v1h-1zM10 20h1v1h-1zM10 69h1v1h-1zM11 22h1v1h-1zM11 70h1v1h-1zM11 77h1v1h-1zM12 79h1v2h-1zM13 80h1v1h-1zM13 91h1v1h-1zM14 33h1v1h-1zM14 81h1v1h-1zM14 89h1v1h-1zM14 92h1v1h-1zM14 97h1v1h-1zM15 45h1v3h-1zM15 70h1v1h-1zM15 93h1v3h-1zM15 118h1v1h-1zM16 55h1v11h-1zM16 71h1v2h-1zM16 95h1v1h-1zM16 118h1v1h-1zM17 45h1v3h-1zM17 70h1v1h-1zM17 81h1v1h-1zM17 89h1v1h-1zM17 93h1v1h-1zM17 97h1v1h-1zM17 107h1v2h-1zM18 32h1v2h-1zM18 81h1v1h-1zM18 90h1v1h-1zM19 79h1v2h-1zM20 75h1v2h-1zM21 69h1v2h-1zM22 20h1v1h-1zM22 67h1v2h-1zM23 18h1v2h-1zM23 65h1v2h-1zM24 18h1v2h-1zM24 66h1v2h-1zM25 20h1v1h-1zM25 69h1v1h-1zM26 72h1v1h-1zM27 25h1v1h-1zM27 72h1v2h-1zM28 35h1v1h-1zM28 68h1v3h-1zM29 46h1v2h-1zM29 62h1v2h-1zM30 55h1v1h-1z"/>
<path fill="#387c0a" d="M0 41h1v1h-1zM1 37h1v1h-1zM1 100h1v1h-1zM2 33h1v1h-1zM3 27h1v1h-1zM3 87h1v1h-1zM3 94h1v1h-1zM3 96h1v1h-1zM4 23h1v1h-1zM4 86h1v1h-1zM4 95h1v1h-1zM5 20h1v1h-1zM5 80h1v3h-1zM6 18h1v1h-1zM7 17h1v1h-1zM7 71h1v2h-1zM8 69h1v1h-1zM9 18h1v1h-1zM9 67h1v1h-1zM10 68h1v1h-1zM11 69h1v1h-1zM11 71h1v6h-1zM12 26h1v1h-1zM12 78h1v1h-1zM13 79h1v1h-1zM13 90h1v1h-1zM14 80h1v1h-1zM14 96h1v1h-1zM15 48h1v3h-1zM15 65h1v5h-1zM15 71h1v1h-1zM15 81h1v1h-1zM15 89h1v1h-1zM15 97h1v1h-1zM15 117h1v1h-1zM16 73h1v1h-1zM16 81h1v1h-1zM16 117h1v1h-1zM17 48h1v3h-1zM17 65h1v5h-1zM17 71h1v1h-1zM17 92h1v1h-1zM17 96h1v1h-1zM18 34h1v1h-1zM18 80h1v1h-1zM18 96h1v1h-1zM19 78h1v1h-1zM20 25h1v1h-1zM20 70h1v5h-1zM21 22h1v1h-1zM21 68h1v1h-1zM22 66h1v1h-1zM23 20h1v1h-1zM24 20h1v1h-1zM24 65h1v1h-1zM25 68h1v1h-1zM26 22h1v1h-1zM26 70h1v2h-1zM27 26h1v1h-1zM27 70h1v2h-1zM28 36h1v1h-1zM28 65h1v3h-1zM29 48h1v1h-1zM29 60h1v2h-1z"/>
<path fill="#477d0b" d="M0 42h1v1h-1zM0 87h1v1h-1zM1 97h1v1h-1zM2 34h1v1h-1zM2 87h1v1h-1zM2 94h1v1h-1zM2 97h1v2h-1zM3 28h1v1h-1zM4 24h1v1h-1zM5 78h1v2h-1zM6 19h1v1h-1zM6 74h1v1h-1zM7 18h1v1h-1zM7 70h1v1h-1zM8 18h1v1h-1zM8 67h1v2h-1zM9 19h1v1h-1zM9 66h1v1h-1zM10 67h1v1h-1zM11 23h1v1h-1zM11 68h1v1h-1zM12 70h1v4h-1zM12 76h1v2h-1zM13 29h1v1h-1zM13 77h1v2h-1zM14 34h1v1h-1zM14 69h1v3h-1zM14 78h1v2h-1zM14 91h1v1h-1zM15 51h1v2h-1zM15 63h1v2h-1zM15 72h1v2h-1zM15 79h1v2h-1zM15 92h1v1h-1zM16 74h1v1h-1zM16 77h1v4h-1zM16 89h1v1h-1zM16 94h1v1h-1zM16 97h1v1h-1zM17 51h1v4h-1zM17 61h1v4h-1zM17 72h1v1h-1zM17 79h1v2h-1zM17 91h1v1h-1zM18 35h1v1h-1zM18 69h1v3h-1zM18 78h1v2h-1zM19 28h1v1h-1zM19 70h1v4h-1zM19 76h1v2h-1zM20 69h1v1h-1zM21 23h1v1h-1zM21 67h1v1h-1zM22 21h1v1h-1zM22 65h1v1h-1zM23 64h1v1h-1zM24 64h1v1h-1zM25 21h1v1h-1zM25 67h1v1h-1zM26 23h1v1h-1zM26 69h1v1h-1zM27 27h1v1h-1zM27 68h1v2h-1zM28 37h1v2h-1zM28 64h1v1h-1zM29 49h1v1h-1zM29 59h1v1h-1z"/>
<path fill="#577d0b" d="M0 43h1v1h-1zM0 97h1v1h-1zM0 100h1v1h-1zM1 38h1v1h-1zM1 87h1v1h-1zM1 94h1v1h-1zM1 98h1v1h-1zM2 35h1v1h-1zM2 96h1v1h-1zM2 99h1v1h-1zM3 29h1v1h-1zM3 86h1v1h-1zM4 83h1v3h-1zM5 21h1v1h-1zM5 77h1v1h-1zM6 73h1v1h-1zM7 69h1v1h-1zM8 66h1v1h-1zM10 21h1v1h-1zM10 66h1v1h-1zM11 67h1v1h-1zM12 69h1v1h-1zM12 74h1v2h-1zM13 69h1v6h-1zM13 76h1v1h-1zM14 35h1v2h-1zM14 66h1v3h-1zM14 72h1v3h-1zM14 76h1v2h-1zM15 53h1v2h-1zM15 61h1v2h-1zM15 74h1v1h-1zM15 76h1v3h-1zM15 96h1v1h-1zM16 75h1v2h-1zM16 93h1v1h-1zM17 55h1v6h-1zM17 73h1v1h-1zM17 77h1v2h-1zM17 90h1v1h-1zM18 36h1v2h-1zM18 67h1v2h-1zM18 72h1v2h-1zM18 77h1v1h-1zM19 68h1v2h-1zM19 74h1v2h-1zM20 26h1v1h-1zM20 68h1v1h-1zM21 66h1v1h-1zM22 22h1v1h-1zM22 64h1v1h-1zM23 21h1v1h-1zM23 63h1v1h-1zM24 21h1v1h-1zM25 22h1v1h-1zM25 66h1v1h-1zM26 68h1v1h-1zM27 28h1v1h-1zM27 66h1v2h-1zM28 39h1v1h-1zM28 63h1v1h-1zM29 50h1v2h-1zM29 58h1v1h-1z"/>
<path fill="#757d0d" d="M0 44h1v1h-1zM0 86h1v1h-1zM0 96h1v1h-1zM0 98h1v1h-1zM2 36h1v1h-1zM2 86h1v1h-1zM4 26h1v1h-1zM4 79h1v1h-1zM6 21h1v1h-1zM6 71h1v1h-1zM7 20h1v1h-1zM7 66h1v1h-1zM8 20h1v1h-1zM9 21h1v1h-1zM9 64h1v1h-1zM10 22h1v1h-1zM11 65h1v1h-1zM12 66h1v1h-1zM13 65h1v2h-1zM14 39h1v3h-1zM14 63h1v1h-1zM15 90h1v1h-1zM16 91h1v1h-1zM18 39h1v3h-1zM18 64h1v1h-1zM19 65h1v2h-1zM20 65h1v1h-1zM21 64h1v1h-1zM22 23h1v1h-1zM22 63h1v1h-1zM23 22h1v1h-1zM24 22h1v1h-1zM24 62h1v1h-1zM25 23h1v1h-1zM25 64h1v1h-1zM26 65h1v1h-1zM27 29h1v1h-1zM27 64h1v1h-1zM28 41h1v1h-1zM28 61h1v1h-1zM29 54h1v2h-1z"/>
<path fill="#837c0e" d="M0 45h1v1h-1zM0 99h1v1h-1zM1 40h1v1h-1zM1 86h1v1h-1zM2 37h1v1h-1zM3 31h1v1h-1zM3 84h1v2h-1zM4 78h1v1h-1zM5 23h1v1h-1zM5 74h1v1h-1zM6 70h1v1h-1zM7 65h1v1h-1zM8 64h1v1h-1zM10 64h1v1h-1zM11 25h1v1h-1zM11 64h1v1h-1zM12 28h1v1h-1zM12 65h1v1h-1zM13 31h1v1h-1zM13 64h1v1h-1zM14 42h1v10h-1zM14 62h1v1h-1zM16 90h1v1h-1zM18 42h1v7h-1zM18 62h1v2h-1zM19 30h1v1h-1zM19 64h1v1h-1zM20 27h1v1h-1zM20 64h1v1h-1zM21 25h1v1h-1zM21 63h1v1h-1zM22 62h1v1h-1zM23 61h1v1h-1zM24 61h1v1h-1zM25 63h1v1h-1zM26 25h1v1h-1zM26 64h1v1h-1zM27 30h1v1h-1zM27 63h1v1h-1zM28 42h1v2h-1zM28 60h1v1h-1z"/>
<path fill="#947b0e" d="M0 46h1v1h-1zM1 41h1v1h-1zM2 95h1v1h-1zM3 32h1v1h-1zM3 82h1v2h-1zM4 27h1v1h-1zM4 77h1v1h-1zM5 73h1v1h-1zM6 22h1v1h-1zM6 69h1v1h-1zM7 21h1v1h-1zM7 64h1v1h-1zM8 21h1v1h-1zM8 63h1v1h-1zM9 22h1v1h-1zM9 63h1v1h-1zM10 23h1v1h-1zM12 64h1v1h-1zM13 32h1v1h-1zM13 63h1v1h-1zM14 52h1v3h-1zM14 61h1v1h-1zM18 49h1v6h-1zM18 61h1v1h-1zM19 31h1v1h-1zM19 63h1v1h-1zM20 63h1v1h-1zM21 62h1v1h-1zM22 24h1v1h-1zM22 61h1v1h-1zM23 23h1v1h-1zM23 60h1v1h-1zM24 23h1v1h-1zM25 24h1v1h-1zM26 26h1v1h-1zM27 31h1v2h-1zM27 62h1v1h-1zM28 44h1v1h-1zM28 58h1v2h-1z"/>
<path fill="#a7790f" d="M0 47h1v2h-1zM0 84h1v2h-1zM1 42h1v1h-1zM1 95h1v1h-1zM2 38h1v1h-1zM2 85h1v1h-1zM3 33h1v1h-1zM3 80h1v2h-1zM4 28h1v1h-1zM4 75h1v2h-1zM5 24h1v1h-1zM5 72h1v1h-1zM6 23h1v1h-1zM6 68h1v1h-1zM7 22h1v1h-1zM8 22h1v1h-1zM9 62h1v1h-1zM10 63h1v1h-1zM11 26h1v1h-1zM11 63h1v1h-1zM12 63h1v1h-1zM13 33h1v1h-1zM13 62h1v1h-1zM14 55h1v6h-1zM18 55h1v6h-1zM19 32h1v2h-1zM19 61h1v2h-1zM20 28h1v1h-1zM20 62h1v1h-1zM21 26h1v1h-1zM22 60h1v1h-1zM24 60h1v1h-1zM25 62h1v1h-1zM26 63h1v1h-1zM27 33h1v1h-1zM28 45h1v3h-1zM28 57h1v1h-1z"/>
<path fill="#ba7810" d="M0 49h1v1h-1zM0 83h1v1h-1zM1 43h1v1h-1zM1 85h1v1h-1zM2 82h1v3h-1zM3 78h1v2h-1zM4 74h1v1h-1zM5 25h1v1h-1zM6 67h1v1h-1zM7 63h1v1h-1zM8 62h1v1h-1zM9 23h1v1h-1zM10 24h1v1h-1zM10 62h1v1h-1zM11 62h1v1h-1zM12 29h1v1h-1zM12 62h1v1h-1zM13 50h1v2h-1zM13 61h1v1h-1zM19 34h1v1h-1zM19 60h1v1h-1zM20 61h1v1h-1zM21 61h1v1h-1zM22 25h1v1h-1zM23 24h1v1h-1zM23 59h1v1h-1zM24 24h1v1h-1zM24 59h1v1h-1zM25 25h1v1h-1zM25 61h1v1h-1zM26 27h1v1h-1zM26 62h1v1h-1zM27 34h1v2h-1zM27 61h1v1h-1zM28 48h1v9h-1z"/>
<path fill="#ca7412" d="M0 50h1v2h-1zM0 74h1v5h-1zM0 81h1v2h-1zM0 95h1v1h-1zM1 44h1v1h-1zM1 83h1v2h-1zM2 39h1v1h-1zM2 79h1v3h-1zM3 34h1v1h-1zM3 76h1v2h-1zM4 29h1v1h-1zM4 73h1v1h-1zM5 26h1v1h-1zM5 71h1v1h-1zM6 24h1v1h-1zM6 66h1v1h-1zM7 23h1v1h-1zM7 62h1v1h-1zM8 23h1v1h-1zM8 61h1v1h-1zM9 61h1v1h-1zM11 27h1v1h-1zM11 61h1v1h-1zM12 61h1v1h-1zM13 34h1v1h-1zM13 46h1v4h-1zM13 52h1v9h-1zM19 35h1v2h-1zM19 56h1v4h-1zM20 29h1v1h-1zM20 59h1v2h-1zM21 27h1v1h-1zM21 60h1v1h-1zM22 59h1v1h-1zM23 58h1v1h-1zM26 28h1v1h-1zM26 61h1v1h-1zM27 36h1v2h-1zM27 59h1v2h-1z"/>
<path fill="#da7114" d="M0 52h1v3h-1zM0 72h1v2h-1zM0 79h1v2h-1zM1 81h1v2h-1zM2 76h1v3h-1zM3 35h1v1h-1zM3 74h1v2h-1zM4 72h1v1h-1zM5 69h1v2h-1zM9 24h1v1h-1zM10 61h1v1h-1zM12 56h1v5h-1zM13 35h1v5h-1zM13 41h1v5h-1zM19 37h1v2h-1zM19 51h1v5h-1zM20 57h1v2h-1zM21 59h1v1h-1zM22 26h1v1h-1zM22 58h1v1h-1zM23 25h1v1h-1zM24 25h1v1h-1zM24 58h1v1h-1zM25 26h1v1h-1zM25 60h1v1h-1zM26 29h1v1h-1zM27 38h1v1h-1zM27 57h1v2h-1z"/>
<path fill="#e27020" d="M0 55h1v17h-1zM1 45h1v3h-1zM1 74h1v7h-1zM2 40h1v2h-1zM2 74h1v2h-1zM3 36h1v1h-1zM3 73h1v1h-1zM4 30h1v1h-1zM4 70h1v2h-1zM5 27h1v1h-1zM5 68h1v1h-1zM6 25h1v1h-1zM6 65h1v1h-1zM7 24h1v1h-1zM7 61h1v1h-1zM8 24h1v1h-1zM8 60h1v1h-1zM9 25h1v1h-1zM9 59h1v2h-1zM10 25h1v1h-1zM10 60h1v1h-1zM11 28h1v1h-1zM11 55h1v6h-1zM12 30h1v1h-1zM12 50h1v6h-1zM13 40h1v1h-1zM19 39h1v12h-1zM20 30h1v1h-1zM20 55h1v2h-1zM21 28h1v1h-1zM21 57h1v2h-1zM22 57h1v1h-1zM23 57h1v1h-1zM24 26h1v1h-1zM24 57h1v1h-1zM25 27h1v1h-1zM25 58h1v2h-1zM26 30h1v1h-1zM26 59h1v2h-1zM27 39h1v2h-1zM27 55h1v2h-1z"/>
<path fill="#21760c" d="M0 89h1v1h-1zM0 92h1v2h-1zM1 89h1v1h-1zM2 31h1v1h-1zM2 88h1v1h-1zM2 100h1v1h-1zM3 26h1v1h-1zM3 97h1v2h-1zM4 21h1v1h-1zM4 87h1v1h-1zM4 94h1v1h-1zM4 96h1v1h-1zM4 137h1v3h-1zM5 18h1v1h-1zM5 86h1v1h-1zM5 135h1v5h-1zM6 78h1v3h-1zM6 135h1v5h-1zM7 16h1v1h-1zM7 74h1v2h-1zM7 139h1v1h-1zM8 16h1v1h-1zM8 71h1v3h-1zM9 69h1v1h-1zM10 19h1v1h-1zM10 70h1v6h-1zM11 78h1v2h-1zM12 25h1v1h-1zM13 28h1v1h-1zM13 81h1v1h-1zM13 92h1v1h-1zM14 32h1v1h-1zM14 82h1v1h-1zM14 93h1v1h-1zM15 44h1v1h-1zM15 82h1v1h-1zM15 107h1v2h-1zM16 50h1v5h-1zM16 66h1v5h-1zM16 82h1v1h-1zM16 107h1v1h-1zM17 44h1v1h-1zM17 82h1v1h-1zM17 94h1v2h-1zM17 117h1v2h-1zM18 31h1v1h-1zM18 91h1v2h-1zM18 97h1v1h-1zM19 27h1v1h-1zM20 24h1v1h-1zM20 77h1v2h-1zM21 21h1v1h-1zM21 71h1v6h-1zM22 19h1v1h-1zM22 69h1v1h-1zM23 17h1v1h-1zM23 67h1v1h-1zM24 17h1v1h-1zM24 68h1v1h-1zM25 19h1v1h-1zM25 70h1v1h-1zM26 21h1v1h-1zM26 73h1v2h-1zM27 74h1v3h-1zM28 32h1v3h-1zM28 71h1v3h-1zM29 45h1v1h-1zM29 64h1v3h-1zM30 54h1v1h-1zM30 56h1v3h-1z"/>
<path fill="#677e0c" d="M0 94h1v1h-1zM1 39h1v1h-1zM1 96h1v1h-1zM1 99h1v1h-1zM3 30h1v1h-1zM3 95h1v1h-1zM4 25h1v1h-1zM4 80h1v3h-1zM5 22h1v1h-1zM5 75h1v2h-1zM6 20h1v1h-1zM6 72h1v1h-1zM7 19h1v1h-1zM7 67h1v2h-1zM8 19h1v1h-1zM8 65h1v1h-1zM9 20h1v1h-1zM9 65h1v1h-1zM10 65h1v1h-1zM11 24h1v1h-1zM11 66h1v1h-1zM12 27h1v1h-1zM12 67h1v2h-1zM13 30h1v1h-1zM13 67h1v2h-1zM13 75h1v1h-1zM14 37h1v2h-1zM14 64h1v2h-1zM14 75h1v1h-1zM14 90h1v1h-1zM15 55h1v6h-1zM15 75h1v1h-1zM15 91h1v1h-1zM16 92h1v1h-1zM16 96h1v1h-1zM17 74h1v3h-1zM18 38h1v1h-1zM18 65h1v2h-1zM18 74h1v3h-1zM19 29h1v1h-1zM19 67h1v1h-1zM20 66h1v2h-1zM21 24h1v1h-1zM21 65h1v1h-1zM23 62h1v1h-1zM24 63h1v1h-1zM25 65h1v1h-1zM26 24h1v1h-1zM26 66h1v2h-1zM27 65h1v1h-1zM28 40h1v1h-1zM28 62h1v1h-1zM29 52h1v2h-1zM29 56h1v2h-1z"/>
<path fill="#10601c" d="M0 109h1v1h-1zM0 113h1v1h-1zM0 138h1v2h-1zM1 104h1v1h-1zM1 109h1v1h-1zM1 136h1v1h-1zM2 26h1v1h-1zM2 103h1v1h-1zM2 110h1v1h-1zM2 133h1v1h-1zM3 103h1v1h-1zM3 131h1v1h-1zM4 11h1v3h-1zM4 101h1v2h-1zM4 128h1v2h-1zM5 1h1v6h-1zM5 127h1v1h-1zM6 93h1v1h-1zM6 100h1v1h-1zM6 123h1v1h-1zM6 127h1v1h-1zM7 91h1v1h-1zM7 123h1v1h-1zM7 128h1v1h-1zM8 85h1v3h-1zM8 130h1v1h-1zM9 84h1v1h-1zM9 132h1v1h-1zM10 11h1v3h-1zM10 84h1v1h-1zM10 135h1v2h-1zM11 17h1v1h-1zM12 85h1v4h-1zM12 94h1v1h-1zM13 26h1v1h-1zM16 41h1v1h-1zM17 98h1v1h-1zM18 28h1v1h-1zM18 85h1v1h-1zM19 24h1v1h-1zM19 86h1v3h-1zM19 107h1v2h-1zM19 117h1v2h-1zM20 94h1v1h-1zM20 96h1v1h-1zM21 16h1v1h-1zM21 86h1v3h-1zM21 92h1v1h-1zM22 12h1v1h-1zM22 83h1v1h-1zM22 90h1v1h-1zM22 138h1v2h-1zM23 11h1v1h-1zM23 81h1v2h-1zM23 136h1v3h-1zM24 8h1v3h-1zM24 81h1v2h-1zM24 136h1v4h-1zM25 12h1v1h-1zM25 83h1v1h-1zM26 16h1v1h-1zM26 85h1v2h-1zM27 87h1v1h-1zM28 26h1v1h-1zM28 87h1v1h-1zM29 37h1v1h-1zM29 85h1v1h-1zM30 47h1v1h-1zM30 81h1v2h-1zM31 52h1v1h-1zM31 71h1v2h-1zM32 56h1v9h-1z"/>
<path fill="#15700f" d="M0 111h1v1h-1zM1 33h1v1h-1zM1 102h1v1h-1zM1 111h1v1h-1zM2 101h1v1h-1zM2 137h1v2h-1zM3 23h1v1h-1zM3 100h1v1h-1zM3 134h1v2h-1zM4 17h1v2h-1zM4 90h1v4h-1zM4 132h1v2h-1zM5 15h1v1h-1zM5 88h1v4h-1zM5 94h1v6h-1zM5 131h1v2h-1zM6 10h1v3h-1zM6 87h1v4h-1zM6 131h1v2h-1zM7 5h1v7h-1zM7 82h1v2h-1zM7 132h1v1h-1zM8 12h1v2h-1zM8 80h1v2h-1zM8 133h1v2h-1zM9 10h1v3h-1zM9 80h1v2h-1zM9 135h1v5h-1zM10 81h1v1h-1zM11 20h1v1h-1zM11 82h1v1h-1zM12 83h1v1h-1zM12 89h1v1h-1zM13 27h1v1h-1zM13 95h1v1h-1zM13 97h1v1h-1zM14 30h1v1h-1zM14 84h1v1h-1zM14 87h1v2h-1zM14 107h1v2h-1zM14 118h1v1h-1zM15 38h1v3h-1zM15 85h1v2h-1zM16 44h1v1h-1zM16 84h1v1h-1zM16 86h1v2h-1zM17 38h1v3h-1zM17 84h1v1h-1zM17 87h1v2h-1zM18 29h1v1h-1zM18 83h1v1h-1zM18 117h1v1h-1zM19 89h1v1h-1zM19 93h1v3h-1zM20 22h1v1h-1zM20 90h1v1h-1zM21 19h1v1h-1zM21 82h1v1h-1zM21 90h1v1h-1zM22 15h1v2h-1zM22 77h1v2h-1zM23 14h1v1h-1zM23 73h1v3h-1zM24 13h1v2h-1zM24 73h1v3h-1zM25 15h1v2h-1zM25 75h1v3h-1zM26 19h1v1h-1zM26 80h1v2h-1zM27 83h1v1h-1zM28 83h1v1h-1zM29 40h1v2h-1zM29 75h1v7h-1zM30 50h1v1h-1zM30 70h1v2h-1zM31 55h1v6h-1z"/>
<path fill="#064842" d="M0 125h1v5h-1zM1 26h1v1h-1zM1 123h1v1h-1zM2 21h1v1h-1zM3 4h1v6h-1zM9 93h1v2h-1zM10 91h1v16h-1zM10 126h1v2h-1zM11 98h1v1h-1zM11 130h1v2h-1zM12 17h1v1h-1zM12 134h1v1h-1zM13 23h1v1h-1zM13 99h1v1h-1zM13 106h1v1h-1zM13 109h1v1h-1zM13 119h1v1h-1zM13 138h1v2h-1zM14 105h1v1h-1zM14 115h1v1h-1zM15 104h1v1h-1zM15 112h1v3h-1zM15 139h1v1h-1zM16 33h1v1h-1zM16 104h1v1h-1zM16 112h1v3h-1zM16 138h1v1h-1zM17 99h1v1h-1zM17 105h1v1h-1zM17 115h1v1h-1zM17 137h1v1h-1zM18 106h1v1h-1zM18 109h1v1h-1zM18 119h1v1h-1zM18 135h1v2h-1zM19 133h1v1h-1zM20 16h1v1h-1zM20 108h1v1h-1zM20 117h1v2h-1zM20 131h1v1h-1zM21 0h1v10h-1zM21 129h1v1h-1zM22 96h1v1h-1zM22 126h1v2h-1zM23 96h1v1h-1zM23 122h1v3h-1zM24 96h1v1h-1zM24 122h1v3h-1zM25 95h1v1h-1zM25 127h1v2h-1zM26 0h1v5h-1zM26 94h1v1h-1zM26 132h1v2h-1zM27 15h1v1h-1zM27 93h1v1h-1zM29 91h1v1h-1zM30 40h1v1h-1zM30 88h1v1h-1zM30 94h1v1h-1zM32 49h1v1h-1zM32 74h1v2h-1z"/>
<path fill="#e77030" d="M1 48h1v4h-1zM1 59h1v3h-1zM1 73h1v1h-1zM2 42h1v1h-1zM2 73h1v1h-1zM3 37h1v1h-1zM3 71h1v2h-1zM4 31h1v1h-1zM4 69h1v1h-1zM5 28h1v1h-1zM5 66h1v2h-1zM6 26h1v1h-1zM6 64h1v1h-1zM7 25h1v1h-1zM7 60h1v1h-1zM8 25h1v1h-1zM8 59h1v1h-1zM9 58h1v1h-1zM10 26h1v1h-1zM10 57h1v3h-1zM11 54h1v1h-1zM12 31h1v1h-1zM12 48h1v2h-1zM20 31h1v1h-1zM20 54h1v1h-1zM21 56h1v1h-1zM22 27h1v1h-1zM23 26h1v1h-1zM25 57h1v1h-1zM26 31h1v1h-1zM26 57h1v2h-1zM27 41h1v3h-1zM27 52h1v3h-1z"/>
<path fill="#ec7040" d="M1 52h1v7h-1zM1 62h1v7h-1zM1 71h1v2h-1zM2 43h1v1h-1zM2 71h1v2h-1zM3 38h1v1h-1zM3 69h1v2h-1zM4 32h1v2h-1zM4 68h1v1h-1zM5 29h1v1h-1zM5 65h1v1h-1zM6 27h1v1h-1zM6 62h1v2h-1zM7 59h1v1h-1zM8 57h1v2h-1zM9 26h1v1h-1zM9 56h1v2h-1zM10 27h1v1h-1zM10 55h1v2h-1zM11 29h1v1h-1zM11 52h1v2h-1zM12 32h1v2h-1zM12 46h1v2h-1zM20 32h1v1h-1zM20 52h1v2h-1zM21 29h1v1h-1zM21 55h1v1h-1zM22 56h1v1h-1zM23 27h1v1h-1zM23 56h1v1h-1zM24 27h1v1h-1zM24 56h1v1h-1zM25 28h1v1h-1zM25 56h1v1h-1zM26 32h1v2h-1zM26 55h1v2h-1zM27 44h1v8h-1z"/>
<path fill="#ef704f" d="M1 69h1v2h-1zM2 44h1v1h-1zM2 66h1v5h-1zM3 39h1v1h-1zM3 67h1v2h-1zM4 34h1v1h-1zM4 67h1v1h-1zM5 64h1v1h-1zM6 61h1v1h-1zM7 26h1v1h-1zM7 58h1v1h-1zM8 26h1v1h-1zM8 56h1v1h-1zM9 55h1v1h-1zM10 54h1v1h-1zM11 51h1v1h-1zM12 34h1v1h-1zM12 44h1v2h-1zM20 33h1v1h-1zM20 51h1v1h-1zM21 54h1v1h-1zM22 28h1v1h-1zM22 55h1v1h-1zM25 29h1v1h-1zM25 55h1v1h-1zM26 34h1v1h-1zM26 53h1v2h-1z"/>
<path fill="#f2705e" d="M2 45h1v21h-1zM3 40h1v1h-1zM3 65h1v2h-1zM4 35h1v1h-1zM4 65h1v2h-1zM5 30h1v1h-1zM5 63h1v1h-1zM6 28h1v1h-1zM6 60h1v1h-1zM7 27h1v1h-1zM7 57h1v1h-1zM8 27h1v1h-1zM8 55h1v1h-1zM9 27h1v1h-1zM9 54h1v1h-1zM10 28h1v1h-1zM10 52h1v2h-1zM11 30h1v1h-1zM11 49h1v2h-1zM12 35h1v1h-1zM12 42h1v2h-1zM20 34h1v2h-1zM20 45h1v6h-1zM21 30h1v1h-1zM21 52h1v2h-1zM22 54h1v1h-1zM23 28h1v1h-1zM23 55h1v1h-1zM24 28h1v1h-1zM24 55h1v1h-1zM25 30h1v1h-1zM25 54h1v1h-1zM26 35h1v2h-1zM26 52h1v1h-1z"/>
<path fill="#f3736d" d="M3 41h1v1h-1zM3 59h1v6h-1zM4 36h1v1h-1zM4 63h1v2h-1zM5 31h1v1h-1zM5 62h1v1h-1zM6 29h1v1h-1zM6 59h1v1h-1zM7 56h1v1h-1zM9 28h1v1h-1zM9 53h1v1h-1zM10 29h1v1h-1zM10 51h1v1h-1zM11 31h1v1h-1zM11 48h1v1h-1zM12 36h1v6h-1zM20 36h1v9h-1zM21 31h1v1h-1zM21 51h1v1h-1zM22 29h1v1h-1zM22 53h1v1h-1zM23 54h1v1h-1zM24 29h1v1h-1zM24 54h1v1h-1zM25 31h1v2h-1zM25 53h1v1h-1zM26 37h1v2h-1zM26 50h1v2h-1z"/>
<path fill="#f4787c" d="M3 42h1v2h-1zM3 54h1v5h-1zM4 37h1v1h-1zM4 61h1v2h-1zM5 32h1v1h-1zM5 61h1v1h-1zM6 57h1v2h-1zM7 28h1v1h-1zM7 55h1v1h-1zM8 28h1v1h-1zM8 54h1v1h-1zM9 52h1v1h-1zM10 50h1v1h-1zM11 32h1v1h-1zM11 46h1v2h-1zM21 32h1v2h-1zM21 49h1v2h-1zM22 52h1v1h-1zM23 29h1v1h-1zM23 53h1v1h-1zM24 53h1v1h-1zM25 33h1v2h-1zM25 52h1v1h-1zM26 39h1v5h-1zM26 46h1v4h-1z"/>
<path fill="#f57c8b" d="M3 44h1v1h-1zM3 51h1v3h-1zM4 38h1v1h-1zM4 56h1v5h-1zM5 33h1v1h-1zM5 58h1v3h-1zM6 30h1v1h-1zM6 56h1v1h-1zM7 29h1v1h-1zM7 54h1v1h-1zM8 53h1v1h-1zM9 29h1v1h-1zM9 51h1v1h-1zM10 30h1v1h-1zM10 48h1v2h-1zM11 33h1v1h-1zM11 44h1v2h-1zM21 34h1v1h-1zM21 46h1v3h-1zM22 30h1v2h-1zM22 51h1v1h-1zM23 52h1v1h-1zM24 30h1v2h-1zM24 52h1v1h-1zM25 35h1v2h-1zM25 51h1v1h-1zM26 44h1v2h-1z"/>
<path fill="#f5819a" d="M3 45h1v6h-1zM4 39h1v2h-1zM4 54h1v2h-1zM5 34h1v1h-1zM5 55h1v3h-1zM6 31h1v1h-1zM6 55h1v1h-1zM7 30h1v1h-1zM8 29h1v1h-1zM8 52h1v1h-1zM9 30h1v1h-1zM9 50h1v1h-1zM10 31h1v1h-1zM10 47h1v1h-1zM11 34h1v1h-1zM11 42h1v2h-1zM21 35h1v3h-1zM21 43h1v3h-1zM22 32h1v2h-1zM22 50h1v1h-1zM23 30h1v2h-1zM23 51h1v1h-1zM24 32h1v2h-1zM24 51h1v1h-1zM25 37h1v1h-1zM25 49h1v2h-1z"/>
<path fill="#f585a8" d="M4 41h1v3h-1zM4 52h1v2h-1zM5 35h1v1h-1zM5 54h1v1h-1zM6 32h1v1h-1zM6 54h1v1h-1zM7 53h1v1h-1zM8 30h1v1h-1zM8 51h1v1h-1zM9 31h1v1h-1zM9 49h1v1h-1zM10 32h1v1h-1zM10 45h1v2h-1zM11 35h1v7h-1zM21 38h1v5h-1zM22 34h1v2h-1zM22 47h1v3h-1zM23 32h1v2h-1zM23 50h1v1h-1zM24 34h1v2h-1zM24 50h1v1h-1zM25 38h1v2h-1zM25 47h1v2h-1z"/>
<path fill="#f088b2" d="M4 44h1v8h-1zM5 36h1v1h-1zM5 53h1v1h-1zM6 33h1v1h-1zM6 53h1v1h-1zM7 31h1v1h-1zM7 52h1v1h-1zM8 31h1v1h-1zM8 50h1v1h-1zM9 32h1v1h-1zM9 47h1v2h-1zM10 33h1v1h-1zM10 43h1v2h-1zM22 36h1v2h-1zM22 44h1v3h-1zM23 34h1v2h-1zM23 48h1v2h-1zM24 36h1v1h-1zM24 48h1v2h-1zM25 40h1v7h-1z"/>
<path fill="#eb8bbc" d="M5 37h1v1h-1zM5 52h1v1h-1zM6 34h1v1h-1zM6 52h1v1h-1zM7 32h1v1h-1zM7 51h1v1h-1zM8 32h1v1h-1zM8 48h1v2h-1zM9 33h1v1h-1zM9 46h1v1h-1zM10 34h1v1h-1zM10 42h1v1h-1zM22 38h1v1h-1zM22 42h1v2h-1zM23 36h1v1h-1zM23 47h1v1h-1zM24 37h1v1h-1zM24 47h1v1h-1z"/>
<path fill="#e68ec5" d="M5 38h1v2h-1zM5 50h1v2h-1zM6 35h1v1h-1zM6 51h1v1h-1zM7 33h1v1h-1zM7 50h1v1h-1zM8 33h1v1h-1zM8 47h1v1h-1zM9 34h1v1h-1zM9 44h1v2h-1zM10 35h1v7h-1zM22 39h1v3h-1zM23 37h1v2h-1zM23 45h1v2h-1zM24 38h1v2h-1zM24 45h1v2h-1z"/>
<path fill="#e090cd" d="M5 40h1v10h-1zM6 36h1v2h-1zM6 49h1v2h-1zM7 34h1v1h-1zM7 47h1v3h-1zM8 34h1v1h-1zM8 45h1v2h-1zM9 35h1v2h-1zM9 42h1v2h-1zM23 39h1v1h-1zM23 42h1v3h-1zM24 40h1v5h-1z"/>
<path fill="#dc94d5" d="M6 38h1v2h-1zM6 42h1v7h-1zM7 35h1v2h-1zM7 44h1v3h-1zM8 35h1v2h-1zM8 43h1v2h-1zM9 37h1v5h-1zM23 40h1v2h-1z"/>
<path fill="#da9fdb" d="M6 40h1v2h-1zM7 37h1v3h-1zM7 41h1v3h-1zM8 37h1v3h-1zM8 41h1v2h-1z"/>
<path fill="#d9a9e2" d="M7 40h1v1h-1zM8 40h1v1h-1z"/>
<path fill="#31156a" d="M14 0h1v9h-1zM15 14h1v3h-1zM16 21h1v2h-1zM17 16h1v2h-1zM18 0h1v9h-1zM29 7h1v9h-1zM29 115h1v2h-1zM29 119h1v1h-1zM29 121h1v1h-1zM29 127h1v1h-1zM30 26h1v1h-1zM30 101h1v1h-1zM30 109h1v1h-1zM30 112h1v1h-1zM30 134h1v3h-1zM31 33h1v2h-1zM32 38h1v1h-1zM32 100h1v1h-1z"/>
<path fill="#331b75" d="M14 9h1v6h-1zM15 17h1v3h-1zM16 23h1v2h-1zM17 18h1v2h-1zM18 9h1v4h-1zM28 123h1v2h-1zM29 16h1v2h-1zM29 104h1v5h-1zM29 113h1v2h-1zM29 128h1v1h-1zM30 27h1v1h-1zM30 111h1v1h-1zM30 137h1v3h-1zM31 35h1v1h-1zM31 110h1v1h-1zM32 39h1v1h-1zM32 89h1v1h-1zM32 91h1v1h-1zM32 120h1v1h-1z"/>
<path fill="#260b51" d="M15 0h1v12h-1zM16 17h1v2h-1zM17 5h1v8h-1zM29 123h1v3h-1zM30 22h1v2h-1zM30 104h1v5h-1zM30 114h1v1h-1zM30 118h1v1h-1zM30 129h1v2h-1zM31 30h1v2h-1zM31 101h1v2h-1zM31 109h1v1h-1zM31 112h1v1h-1zM31 119h1v1h-1zM31 135h1v3h-1zM32 35h1v2h-1zM32 111h1v1h-1zM32 119h1v1h-1zM32 121h1v1h-1zM32 139h1v1h-1z"/>
<path fill="#2d0f5e" d="M15 12h1v2h-1zM16 19h1v2h-1zM17 13h1v3h-1zM29 0h1v7h-1zM29 117h1v2h-1zM29 122h1v1h-1zM29 126h1v1h-1zM30 24h1v2h-1zM30 102h1v2h-1zM30 113h1v1h-1zM30 119h1v1h-1zM30 121h1v1h-1zM30 131h1v3h-1zM31 32h1v1h-1zM31 111h1v1h-1zM31 121h1v1h-1zM31 138h1v2h-1zM32 37h1v1h-1zM32 90h1v1h-1zM32 110h1v1h-1z"/>
<path fill="#1b0933" d="M16 0h1v14h-1zM30 16h1v4h-1zM30 125h1v2h-1zM31 28h1v1h-1zM31 105h1v2h-1zM31 108h1v1h-1zM31 113h1v1h-1zM31 118h1v1h-1zM31 122h1v1h-1zM31 131h1v2h-1zM32 32h1v2h-1zM32 102h1v1h-1zM32 112h1v1h-1zM32 135h1v2h-1z"/>
<path fill="#210843" d="M16 14h1v3h-1zM17 0h1v5h-1zM30 20h1v2h-1zM30 115h1v3h-1zM30 122h1v1h-1zM30 127h1v2h-1zM31 29h1v1h-1zM31 103h1v2h-1zM31 133h1v2h-1zM32 34h1v1h-1zM32 101h1v1h-1zM32 109h1v1h-1zM32 137h1v2h-1z"/>
<path fill="#0f0813" d="M30 0h1v11h-1zM30 123h1v1h-1zM31 26h1v1h-1zM31 115h1v2h-1zM31 125h1v3h-1zM32 29h1v2h-1zM32 104h1v3h-1zM32 108h1v1h-1zM32 117h1v1h-1zM32 132h1v1h-1z"/>
<path fill="#160a22" d="M30 11h1v5h-1zM30 124h1v1h-1zM31 27h1v1h-1zM31 107h1v1h-1zM31 114h1v1h-1zM31 117h1v1h-1zM31 128h1v3h-1zM32 31h1v1h-1zM32 103h1v1h-1zM32 113h1v1h-1zM32 118h1v1h-1zM32 122h1v1h-1zM32 133h1v2h-1z"/>
<path fill="#0a070c" d="M31 24h1v2h-1zM31 123h1v2h-1zM32 27h1v2h-1zM32 107h1v1h-1zM32 114h1v1h-1zM32 125h1v7h-1z"/>
</g></g>
<path stroke="#222" stroke-width="1.1" fill="none" d="M1005.3 996.5V1628.6M993.8 1616.1H1369.8M1369.8 996.5V1628.6M1005.3 1009.0H1369.8M1185.0 996.5V1009.0M1187.5 1628.6V1616.1M993.8 1529.4H1005.3M993.8 1442.6H1005.3M993.8 1355.9H1005.3M993.8 1269.2H1005.3M993.8 1182.5H1005.3M993.8 1095.7H1005.3M993.8 1009.0H1005.3"/>
<text transform="translate(981.3 1626.0) scale(0.965 1)" text-anchor="end" font-size="30.5">0</text>
<text transform="translate(981.3 1539.3) scale(0.965 1)" text-anchor="end" font-size="30.5">20</text>
<text transform="translate(981.3 1452.5) scale(0.965 1)" text-anchor="end" font-size="30.5">40</text>
<text transform="translate(981.3 1365.8) scale(0.965 1)" text-anchor="end" font-size="30.5">60</text>
<text transform="translate(981.3 1279.1) scale(0.965 1)" text-anchor="end" font-size="30.5">80</text>
<text transform="translate(981.3 1192.4) scale(0.965 1)" text-anchor="end" font-size="30.5">100</text>
<text transform="translate(981.3 1105.6) scale(0.965 1)" text-anchor="end" font-size="30.5">120</text>
<text transform="translate(981.3 1018.9) scale(0.965 1)" text-anchor="end" font-size="30.5">140</text>
<text transform="translate(1005.3 984.3) scale(0.965 1)" text-anchor="middle" font-size="30.5">0</text>
<text transform="translate(1185.5 984.3) scale(0.965 1)" text-anchor="middle" font-size="30.5">1.50</text>
<text transform="translate(1369.8 984.3) scale(0.965 1)" text-anchor="middle" font-size="30.5">3.00</text>
<text transform="translate(1006.2 1663.0)" text-anchor="middle" font-size="32.5" font-family="'Liberation Serif', 'Times New Roman', serif">Γ</text>
<text transform="translate(1188.0 1664.8)" text-anchor="middle" font-size="30">X</text>
<text transform="translate(1370.8 1663.0)" text-anchor="middle" font-size="32.5" font-family="'Liberation Serif', 'Times New Roman', serif">Γ′</text>
<text transform="translate(1186.8 935.0) scale(0.95 1)" text-anchor="middle" font-size="29.5"><tspan font-style="italic">q</tspan> (Å<tspan dy="-12" font-size="20.5">−1</tspan><tspan dy="12">)</tspan></text>
<text transform="translate(892.3 923.7)" font-size="33" font-weight="bold" stroke="#111" stroke-width="1.1" stroke-linejoin="round">d</text>
<text transform="translate(915.3 1311.3) rotate(-90) scale(0.966 1)" text-anchor="middle" font-size="29.5">Energy loss (meV)</text>
<linearGradient id="gd" x1="0" y1="1" x2="0" y2="0"><stop offset="0.000" stop-color="#050505"/><stop offset="0.016" stop-color="#09070b"/><stop offset="0.039" stop-color="#150a25"/><stop offset="0.062" stop-color="#200840"/><stop offset="0.098" stop-color="#2c1060"/><stop offset="0.126" stop-color="#361a74"/><stop offset="0.145" stop-color="#30207a"/><stop offset="0.168" stop-color="#262e78"/><stop offset="0.192" stop-color="#123668"/><stop offset="0.215" stop-color="#0c3a58"/><stop offset="0.239" stop-color="#07404a"/><stop offset="0.271" stop-color="#064a40"/><stop offset="0.307" stop-color="#06552e"/><stop offset="0.337" stop-color="#10601c"/><stop offset="0.373" stop-color="#14700f"/><stop offset="0.410" stop-color="#1f760c"/><stop offset="0.440" stop-color="#3a7c0a"/><stop offset="0.476" stop-color="#687e0c"/><stop offset="0.506" stop-color="#8a7c0e"/><stop offset="0.536" stop-color="#b87810"/><stop offset="0.566" stop-color="#df7015"/><stop offset="0.600" stop-color="#ec7040"/><stop offset="0.627" stop-color="#f27060"/><stop offset="0.657" stop-color="#f57a85"/><stop offset="0.687" stop-color="#f585a8"/><stop offset="0.717" stop-color="#e98cc0"/><stop offset="0.747" stop-color="#dc92d3"/><stop offset="0.783" stop-color="#d8b0e6"/><stop offset="0.820" stop-color="#d9c2ec"/><stop offset="0.880" stop-color="#e4daf3"/><stop offset="0.940" stop-color="#f0ecf9"/><stop offset="1.000" stop-color="#ffffff"/></linearGradient>
<rect x="1414.9" y="1007.4" width="33.9" height="605.7" fill="url(#gd)"/>
<text transform="translate(1458.5 1014.7) scale(0.9 1)" font-size="30.5">−10</text>
<text transform="translate(1458.5 1616.3) scale(0.9 1)" font-size="30.5">−14</text>
<text transform="translate(1490.3 1308.7) rotate(-90) scale(0.985 1)" text-anchor="middle" font-size="29.5">log<tspan dy="8.5" font-size="19.5">10</tspan><tspan dy="-8.5">(intensity)</tspan></text>
</svg>
</body></html>
